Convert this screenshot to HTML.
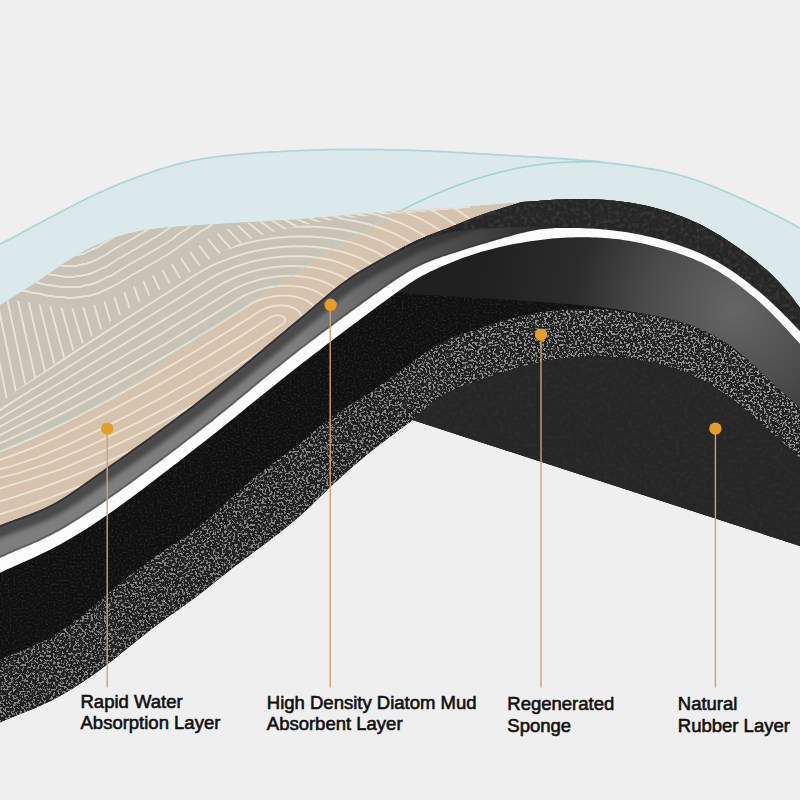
<!DOCTYPE html>
<html><head><meta charset="utf-8">
<style>
html,body{margin:0;padding:0;background:#efefef;}
svg{display:block;}
</style></head><body>
<svg width="800" height="800" viewBox="0 0 800 800">
<defs>
<filter id="speck" x="0" y="0" width="800" height="800" filterUnits="userSpaceOnUse" color-interpolation-filters="sRGB">
<feTurbulence type="fractalNoise" baseFrequency="0.45" numOctaves="3" seed="7" result="n0"/>
<feGaussianBlur in="n0" stdDeviation="0.5" result="n"/>
<feColorMatrix type="matrix" values="0 0 0 0 0.58  0 0 0 0 0.58  0 0 0 0 0.58  9 0 0 0 -4.6" in="n" result="s"/>
<feComposite in="s" in2="SourceGraphic" operator="in"/>
</filter>
<filter id="fine" x="0" y="0" width="800" height="800" filterUnits="userSpaceOnUse" color-interpolation-filters="sRGB">
<feTurbulence type="fractalNoise" baseFrequency="0.5" numOctaves="1" seed="11" result="n"/>
<feColorMatrix type="matrix" values="0 0 0 0 0.14  0 0 0 0 0.14  0 0 0 0 0.14  4 0 0 0 -1.9" in="n" result="s"/>
<feComposite in="s" in2="SourceGraphic" operator="in"/>
</filter>
<linearGradient id="gBandShade" x1="0" y1="0" x2="520" y2="0" gradientUnits="userSpaceOnUse">
<stop offset="0" stop-color="#0e0e0e" stop-opacity="0.1"/><stop offset="0.7" stop-color="#0e0e0e" stop-opacity="0.1"/><stop offset="1" stop-color="#0e0e0e" stop-opacity="0"/>
</linearGradient>
<filter id="blur2" x="-50" y="0" width="900" height="800" filterUnits="userSpaceOnUse"><feGaussianBlur stdDeviation="2.2"/></filter>
<linearGradient id="gSheetR" x1="300" y1="0" x2="560" y2="0" gradientUnits="userSpaceOnUse">
<stop offset="0" stop-color="#2a2a2a" stop-opacity="0"/><stop offset="0.5" stop-color="#2a2a2a" stop-opacity="0.5"/><stop offset="1" stop-color="#262626" stop-opacity="1"/>
</linearGradient>
<filter id="fine2" x="0" y="0" width="800" height="800" filterUnits="userSpaceOnUse" color-interpolation-filters="sRGB">
<feTurbulence type="fractalNoise" baseFrequency="0.25" numOctaves="3" seed="5" result="n"/>
<feColorMatrix type="matrix" values="0 0 0 0 0.24  0 0 0 0 0.24  0 0 0 0 0.24  2.5 0 0 0 -1.1" in="n" result="s"/>
<feComposite in="s" in2="SourceGraphic" operator="in"/>
</filter>
<linearGradient id="gSheet" x1="0" y1="0" x2="800" y2="0" gradientUnits="userSpaceOnUse">
<stop offset="0" stop-color="#6c6c6c"/><stop offset="0.4" stop-color="#5c5c5c"/><stop offset="0.55" stop-color="#333"/><stop offset="0.7" stop-color="#2a2a2a"/><stop offset="1" stop-color="#2a2a2a"/>
</linearGradient>
<radialGradient id="gFace" cx="735" cy="310" r="260" gradientUnits="userSpaceOnUse">
<stop offset="0" stop-color="#666"/><stop offset="0.35" stop-color="#4a4a4a"/><stop offset="0.62" stop-color="#2c2c2c"/><stop offset="1" stop-color="#202020"/>
</radialGradient>

<clipPath id="cBeige"><path d="M-10.0,312.0 -6.7,309.7 -3.3,307.5 0.0,305.3 3.4,303.1 6.7,300.9 10.1,298.7 13.5,296.6 17.0,294.4 20.4,292.3 23.8,290.2 27.2,288.0 30.6,285.9 34.0,283.7 37.3,281.5 40.7,279.3 44.0,277.0 47.3,274.8 50.6,272.5 53.9,270.2 57.2,267.9 60.5,265.6 63.9,263.3 67.2,261.1 70.6,259.0 74.1,256.9 77.5,254.9 81.0,252.9 84.5,250.9 88.1,249.1 91.7,247.3 95.3,245.5 99.0,243.9 102.6,242.3 106.4,240.7 110.1,239.3 113.9,237.9 117.7,236.6 121.5,235.4 125.4,234.3 129.2,233.3 133.1,232.4 137.1,231.5 141.0,230.8 145.0,230.1 148.9,229.4 152.9,228.9 156.9,228.4 160.9,228.0 164.9,227.6 168.9,227.2 172.9,226.9 176.9,226.6 180.9,226.3 185.0,226.0 189.0,225.7 193.0,225.5 197.0,225.2 201.0,224.9 205.0,224.7 209.0,224.4 213.1,224.2 217.1,223.9 221.1,223.7 225.1,223.5 229.1,223.2 233.1,223.0 237.2,222.8 241.2,222.6 245.2,222.3 249.2,222.1 253.2,221.9 257.2,221.7 261.3,221.4 265.3,221.2 269.3,221.0 273.3,220.7 277.3,220.5 281.3,220.2 285.3,220.0 289.4,219.7 293.4,219.4 297.4,219.1 301.4,218.9 305.4,218.6 309.4,218.2 313.4,217.9 317.4,217.6 321.4,217.3 325.5,216.9 329.5,216.6 333.5,216.2 337.5,215.9 341.5,215.5 345.5,215.2 349.5,214.8 353.5,214.5 357.5,214.1 361.5,213.8 365.5,213.4 369.5,213.0 373.5,212.7 377.6,212.3 381.6,212.0 385.6,211.7 389.6,211.4 393.6,211.0 397.6,210.7 401.6,210.4 405.6,210.2 409.6,209.9 413.7,209.6 417.7,209.4 421.7,209.2 425.7,208.9 429.7,208.7 433.7,208.5 437.8,208.2 441.8,208.0 445.8,207.7 449.8,207.5 453.8,207.2 457.8,206.9 461.8,206.6 465.8,206.4 469.9,206.1 473.9,205.8 477.9,205.5 481.9,205.1 485.9,204.8 489.9,204.5 493.9,204.2 497.9,203.9 501.9,203.6 506.0,203.3 510.0,203.0 514.0,202.6 518.0,202.3 522.0,202.0 L522.0,202.0 518.2,203.2 514.3,204.4 510.5,205.6 506.7,206.8 502.8,208.0 499.0,209.2 495.2,210.4 491.3,211.6 487.5,212.8 483.7,214.1 479.9,215.4 476.1,216.8 472.4,218.3 468.7,219.7 464.9,221.2 461.2,222.8 457.5,224.3 453.8,225.8 450.0,227.2 446.3,228.7 442.5,230.1 438.8,231.5 435.0,232.9 431.3,234.4 427.5,235.8 423.8,237.4 420.1,239.0 416.5,240.6 412.9,242.3 409.3,244.1 405.7,246.0 402.1,247.8 398.6,249.7 395.0,251.6 391.5,253.5 387.9,255.3 384.4,257.2 380.8,259.1 377.3,261.0 373.8,263.0 370.3,264.9 366.8,266.9 363.3,268.9 359.9,271.0 356.5,273.1 353.1,275.3 349.8,277.6 346.5,279.9 343.3,282.2 340.0,284.6 336.9,287.1 333.7,289.6 330.6,292.1 327.5,294.7 324.4,297.2 321.4,299.8 318.3,302.4 315.2,305.1 312.2,307.7 309.1,310.3 306.1,312.9 303.0,315.4 299.9,318.0 296.8,320.6 293.7,323.2 290.6,325.7 287.6,328.3 284.5,330.9 281.4,333.5 278.3,336.0 275.2,338.6 272.1,341.2 269.0,343.8 266.0,346.3 262.9,348.9 259.8,351.5 256.7,354.1 253.6,356.6 250.5,359.2 247.4,361.8 244.3,364.3 241.2,366.9 238.1,369.4 235.0,372.0 231.9,374.5 228.8,377.1 225.7,379.6 222.5,382.1 219.4,384.6 216.3,387.1 213.1,389.6 210.0,392.1 206.8,394.6 203.7,397.1 200.5,399.6 197.3,402.0 194.1,404.5 190.9,406.9 187.7,409.3 184.5,411.7 181.3,414.1 178.1,416.5 174.8,418.9 171.6,421.3 168.4,423.7 165.1,426.1 161.9,428.5 158.6,430.8 155.4,433.2 152.1,435.5 148.9,437.9 145.6,440.2 142.4,442.6 139.1,444.9 135.8,447.3 132.5,449.6 129.3,451.9 126.0,454.2 122.7,456.6 119.4,458.9 116.1,461.2 112.8,463.5 109.6,465.8 106.3,468.1 103.0,470.4 99.7,472.8 96.4,475.1 93.1,477.4 89.9,479.7 86.6,482.1 83.3,484.4 80.0,486.7 76.8,489.0 73.4,491.3 70.1,493.5 66.8,495.7 63.4,497.9 59.9,500.0 56.5,502.0 53.0,503.9 49.4,505.8 45.8,507.5 42.2,509.2 38.5,510.8 34.8,512.3 31.0,513.8 27.3,515.2 23.5,516.6 19.7,517.9 16.0,519.3 12.2,520.7 8.4,522.1 4.7,523.6 1.0,525.1 -2.7,526.7 -6.3,528.3 -10.0,530.0 Z"/></clipPath>

<clipPath id="cSheet"><path d="M-10.0,530.0 -6.3,528.3 -2.7,526.7 1.0,525.1 4.7,523.6 8.4,522.1 12.2,520.7 16.0,519.3 19.7,517.9 23.5,516.6 27.3,515.2 31.0,513.8 34.8,512.3 38.5,510.8 42.2,509.2 45.8,507.5 49.4,505.8 53.0,503.9 56.5,502.0 59.9,500.0 63.4,497.9 66.8,495.7 70.1,493.5 73.4,491.3 76.8,489.0 80.0,486.7 83.3,484.4 86.6,482.1 89.9,479.7 93.1,477.4 96.4,475.1 99.7,472.8 103.0,470.4 106.3,468.1 109.6,465.8 112.8,463.5 116.1,461.2 119.4,458.9 122.7,456.6 126.0,454.2 129.3,451.9 132.5,449.6 135.8,447.3 139.1,444.9 142.4,442.6 145.6,440.2 148.9,437.9 152.1,435.5 155.4,433.2 158.6,430.8 161.9,428.5 165.1,426.1 168.4,423.7 171.6,421.3 174.8,418.9 178.1,416.5 181.3,414.1 184.5,411.7 187.7,409.3 190.9,406.9 194.1,404.5 197.3,402.0 200.5,399.6 203.7,397.1 206.8,394.6 210.0,392.1 213.1,389.6 216.3,387.1 219.4,384.6 222.5,382.1 225.7,379.6 228.8,377.1 231.9,374.5 235.0,372.0 238.1,369.4 241.2,366.9 244.3,364.3 247.4,361.8 250.5,359.2 253.6,356.6 256.7,354.1 259.8,351.5 262.9,348.9 266.0,346.3 269.0,343.8 272.1,341.2 275.2,338.6 278.3,336.0 281.4,333.5 284.5,330.9 287.6,328.3 290.6,325.7 293.7,323.2 296.8,320.6 299.9,318.0 303.0,315.4 306.1,312.9 309.1,310.3 312.2,307.7 315.2,305.1 318.3,302.4 321.4,299.8 324.4,297.2 327.5,294.7 330.6,292.1 333.7,289.6 336.9,287.1 340.0,284.6 343.3,282.2 346.5,279.9 349.8,277.6 353.1,275.3 356.5,273.1 359.9,271.0 363.3,268.9 366.8,266.9 370.3,264.9 373.8,263.0 377.3,261.0 380.8,259.1 384.4,257.2 387.9,255.3 391.5,253.5 395.0,251.6 398.6,249.7 402.1,247.8 405.7,246.0 409.3,244.1 412.9,242.3 416.5,240.6 420.1,239.0 423.8,237.4 427.5,235.8 431.3,234.4 435.0,232.9 438.8,231.5 442.5,230.1 446.3,228.7 450.0,227.2 453.8,225.8 457.5,224.3 461.2,222.8 464.9,221.2 468.7,219.7 472.4,218.3 476.1,216.8 479.9,215.4 483.7,214.1 487.5,212.8 491.3,211.6 495.2,210.4 499.0,209.2 502.8,208.0 506.7,206.8 510.5,205.6 514.3,204.4 518.2,203.2 522.0,202.0 L522.0,202.0 526.0,201.7 530.1,201.5 534.1,201.2 538.1,200.9 542.1,200.6 546.2,200.3 550.2,200.1 554.2,199.8 558.2,199.6 562.3,199.4 566.3,199.2 570.3,199.1 574.4,199.0 578.4,199.0 582.4,199.0 586.5,199.0 590.5,199.1 594.5,199.3 598.6,199.5 602.6,199.7 606.6,200.0 610.6,200.4 614.6,200.7 618.6,201.2 622.6,201.7 626.6,202.2 630.6,202.8 634.6,203.5 638.6,204.2 642.5,205.0 646.5,205.8 650.4,206.8 654.3,207.7 658.2,208.8 662.1,209.9 665.9,211.1 669.8,212.3 673.6,213.6 677.4,214.9 681.2,216.3 684.9,217.8 688.7,219.3 692.4,220.9 696.0,222.5 699.7,224.3 703.3,226.1 706.8,228.0 710.4,229.9 713.8,231.9 717.3,234.0 720.7,236.1 724.1,238.3 727.5,240.5 730.9,242.7 734.2,245.0 737.5,247.3 740.8,249.6 744.1,252.0 747.3,254.4 750.6,256.8 753.7,259.3 756.9,261.8 760.0,264.4 763.1,267.0 766.1,269.6 769.1,272.3 772.0,275.1 774.9,277.9 777.7,280.8 780.5,283.7 783.2,286.7 785.9,289.7 788.4,292.8 791.0,296.0 793.4,299.1 795.8,302.4 798.2,305.6 800.6,308.9 803.0,312.1 805.3,315.4 807.7,318.7 810.0,322.0 L810.0,342.0 807.3,339.0 804.6,336.1 801.8,333.2 799.1,330.2 796.3,327.3 793.6,324.4 790.8,321.6 788.0,318.7 785.1,315.8 782.3,313.0 779.4,310.2 776.6,307.4 773.7,304.6 770.7,301.9 767.8,299.2 764.8,296.5 761.8,293.9 758.7,291.3 755.7,288.7 752.5,286.2 749.4,283.7 746.2,281.3 743.0,278.9 739.8,276.5 736.5,274.2 733.2,271.9 729.9,269.7 726.5,267.5 723.1,265.4 719.7,263.3 716.2,261.3 712.7,259.4 709.2,257.6 705.6,255.8 701.9,254.1 698.3,252.5 694.6,251.0 690.9,249.5 687.1,248.1 683.3,246.7 679.6,245.3 675.8,244.1 672.0,242.9 668.1,241.7 664.3,240.6 660.4,239.5 656.5,238.5 652.6,237.5 648.7,236.6 644.8,235.7 640.9,234.9 637.0,234.1 633.0,233.4 629.1,232.7 625.1,232.0 621.2,231.4 617.2,230.9 613.2,230.4 609.2,230.0 605.3,229.6 601.3,229.3 597.3,229.0 593.3,228.7 589.3,228.5 585.3,228.3 581.2,228.2 577.2,228.0 573.2,227.9 569.2,227.9 565.2,227.9 561.2,227.9 557.2,228.0 553.2,228.2 549.2,228.5 545.2,228.9 541.3,229.3 537.3,229.9 533.4,230.6 529.4,231.4 525.5,232.2 521.6,233.1 517.8,234.1 513.9,235.1 510.0,236.2 506.2,237.3 502.3,238.4 498.4,239.5 494.6,240.6 490.7,241.7 486.9,242.9 483.0,244.0 479.2,245.1 475.4,246.3 471.5,247.5 467.7,248.7 463.9,249.9 460.0,251.1 456.2,252.3 452.4,253.5 448.6,254.7 444.8,256.0 441.0,257.3 437.2,258.6 433.4,260.0 429.7,261.4 426.0,262.9 422.4,264.6 418.8,266.3 415.2,268.1 411.7,270.0 408.2,272.0 404.8,274.1 401.4,276.2 398.1,278.4 394.8,280.7 391.4,282.9 388.1,285.2 384.8,287.5 381.6,289.8 378.3,292.1 375.0,294.4 371.8,296.8 368.5,299.1 365.2,301.4 362.0,303.8 358.7,306.1 355.5,308.5 352.3,310.9 349.0,313.2 345.8,315.6 342.6,318.0 339.3,320.4 336.1,322.8 332.9,325.2 329.7,327.6 326.5,330.0 323.3,332.4 320.1,334.8 316.9,337.2 313.7,339.6 310.5,342.0 307.3,344.5 304.1,346.9 300.9,349.4 297.8,351.8 294.6,354.3 291.4,356.7 288.3,359.2 285.2,361.7 282.0,364.2 278.9,366.7 275.8,369.3 272.7,371.8 269.6,374.3 266.5,376.9 263.4,379.4 260.3,382.0 257.2,384.5 254.1,387.1 251.0,389.6 247.9,392.2 244.8,394.7 241.7,397.3 238.6,399.8 235.5,402.4 232.4,404.9 229.3,407.5 226.2,410.0 223.1,412.6 220.0,415.1 216.9,417.6 213.7,420.1 210.6,422.6 207.5,425.1 204.3,427.6 201.2,430.0 198.0,432.5 194.8,435.0 191.6,437.4 188.5,439.9 185.3,442.3 182.1,444.8 178.9,447.2 175.7,449.6 172.5,452.1 169.3,454.5 166.2,456.9 163.0,459.3 159.7,461.7 156.5,464.1 153.3,466.5 150.1,468.9 146.9,471.3 143.7,473.7 140.5,476.1 137.2,478.5 134.0,480.8 130.7,483.2 127.5,485.6 124.2,487.9 121.0,490.2 117.7,492.6 114.5,494.9 111.2,497.2 107.9,499.5 104.6,501.8 101.3,504.0 98.0,506.3 94.6,508.6 91.3,510.8 88.0,513.0 84.6,515.2 81.3,517.4 77.9,519.5 74.5,521.7 71.1,523.8 67.6,525.9 64.2,527.9 60.7,529.9 57.2,531.8 53.7,533.7 50.1,535.6 46.6,537.4 43.0,539.1 39.3,540.8 35.7,542.5 32.0,544.1 28.3,545.7 24.6,547.2 20.9,548.8 17.2,550.3 13.5,551.9 9.8,553.5 6.2,555.1 2.6,556.8 -1.1,558.5 -4.6,560.3 -8.2,562.1 -10.0,563.0 Z"/></clipPath>
<clipPath id="cAbove"><path d="M-20.0,292.0 -16.1,293.1 -12.3,294.2 -8.4,295.3 -4.5,296.3 -0.6,297.2 3.3,298.1 7.3,298.8 11.2,299.5 15.2,300.2 19.1,300.9 23.1,301.6 27.1,302.3 31.0,303.1 35.0,303.8 38.9,304.5 42.9,305.3 46.9,305.9 50.8,306.6 54.8,307.1 58.8,307.6 62.8,307.9 66.8,308.1 70.8,308.2 74.8,308.1 78.7,307.8 82.7,307.4 86.6,306.7 90.5,305.9 94.4,304.9 98.3,303.8 102.1,302.5 105.8,301.1 109.5,299.6 113.2,298.0 116.8,296.2 120.4,294.4 123.9,292.5 127.4,290.5 130.9,288.5 134.3,286.5 137.8,284.4 141.3,282.3 144.7,280.3 148.2,278.2 151.6,276.1 155.1,274.1 158.5,272.0 162.0,269.9 165.4,267.9 168.9,265.8 172.3,263.6 175.7,261.5 179.1,259.4 182.5,257.2 185.8,254.9 189.2,252.7 192.4,250.3 195.7,248.0 199.0,245.6 202.2,243.3 205.5,241.0 208.8,238.7 212.2,236.6 215.7,234.6 219.2,232.7 222.8,231.0 226.5,229.4 230.2,228.0 234.0,226.6 237.8,225.4 241.7,224.3 245.6,223.4 249.5,222.5 253.4,221.7 257.4,221.0 261.3,220.3 265.3,219.8 269.3,219.3 273.3,218.8 277.3,218.3 281.3,217.9 285.3,217.5 289.3,217.1 293.3,216.7 297.3,216.3 301.3,215.9 305.3,215.5 309.3,215.1 313.4,214.8 317.4,214.4 321.4,214.1 325.4,213.7 329.4,213.4 333.4,213.1 337.4,212.8 341.4,212.4 345.5,212.1 349.5,211.8 353.5,211.5 357.5,211.2 361.5,210.9 365.5,210.6 369.5,210.3 373.6,210.0 377.6,209.8 381.6,209.5 385.6,209.2 389.6,208.9 393.6,208.7 397.7,208.4 401.7,208.2 405.7,207.9 409.7,207.7 413.7,207.4 417.8,207.1 421.8,206.9 425.8,206.6 429.8,206.4 433.8,206.2 437.8,205.9 441.9,205.7 445.9,205.4 449.9,205.2 453.9,205.0 457.9,204.7 462.0,204.5 466.0,204.2 470.0,204.0 L480,100 L-20,100 Z"/></clipPath>
<clipPath id="cBand"><path d="M-20.0,292.0 -16.1,293.1 -12.3,294.2 -8.4,295.3 -4.5,296.3 -0.6,297.2 3.3,298.1 7.3,298.8 11.2,299.5 15.2,300.2 19.1,300.9 23.1,301.6 27.1,302.3 31.0,303.1 35.0,303.8 38.9,304.5 42.9,305.3 46.9,305.9 50.8,306.6 54.8,307.1 58.8,307.6 62.8,307.9 66.8,308.1 70.8,308.2 74.8,308.1 78.7,307.8 82.7,307.4 86.6,306.7 90.5,305.9 94.4,304.9 98.3,303.8 102.1,302.5 105.8,301.1 109.5,299.6 113.2,298.0 116.8,296.2 120.4,294.4 123.9,292.5 127.4,290.5 130.9,288.5 134.3,286.5 137.8,284.4 141.3,282.3 144.7,280.3 148.2,278.2 151.6,276.1 155.1,274.1 158.5,272.0 162.0,269.9 165.4,267.9 168.9,265.8 172.3,263.6 175.7,261.5 179.1,259.4 182.5,257.2 185.8,254.9 189.2,252.7 192.4,250.3 195.7,248.0 199.0,245.6 202.2,243.3 205.5,241.0 208.8,238.7 212.2,236.6 215.7,234.6 219.2,232.7 222.8,231.0 226.5,229.4 230.2,228.0 234.0,226.6 237.8,225.4 241.7,224.3 245.6,223.4 249.5,222.5 253.4,221.7 257.4,221.0 261.3,220.3 265.3,219.8 269.3,219.3 273.3,218.8 277.3,218.3 281.3,217.9 285.3,217.5 289.3,217.1 293.3,216.7 297.3,216.3 301.3,215.9 305.3,215.5 309.3,215.1 313.4,214.8 317.4,214.4 321.4,214.1 325.4,213.7 329.4,213.4 333.4,213.1 337.4,212.8 341.4,212.4 345.5,212.1 349.5,211.8 353.5,211.5 357.5,211.2 361.5,210.9 365.5,210.6 369.5,210.3 373.6,210.0 377.6,209.8 381.6,209.5 385.6,209.2 389.6,208.9 393.6,208.7 397.7,208.4 401.7,208.2 405.7,207.9 409.7,207.7 413.7,207.4 417.8,207.1 421.8,206.9 425.8,206.6 429.8,206.4 433.8,206.2 437.8,205.9 441.9,205.7 445.9,205.4 449.9,205.2 453.9,205.0 457.9,204.7 462.0,204.5 466.0,204.2 470.0,204.0 L470.0,208.0 466.0,208.3 462.0,208.6 458.0,209.0 454.0,209.3 450.0,209.6 445.9,209.9 441.9,210.2 437.9,210.5 433.9,210.9 429.9,211.2 425.9,211.5 421.9,211.8 417.9,212.2 413.9,212.5 409.9,212.8 405.9,213.1 401.9,213.4 397.8,213.7 393.8,214.0 389.8,214.3 385.8,214.6 381.8,215.0 377.8,215.3 373.8,215.6 369.8,216.0 365.8,216.3 361.8,216.7 357.8,217.1 353.8,217.5 349.8,217.9 345.8,218.4 341.8,218.9 337.8,219.4 333.8,220.0 329.9,220.6 325.9,221.2 321.9,221.9 317.9,222.5 314.0,223.2 310.0,224.0 306.1,224.7 302.1,225.5 298.2,226.3 294.3,227.1 290.3,228.0 286.4,228.9 282.5,229.7 278.6,230.7 274.7,231.6 270.8,232.6 266.9,233.7 263.1,234.8 259.2,236.0 255.4,237.2 251.6,238.6 247.9,240.0 244.2,241.6 240.5,243.2 236.8,244.8 233.2,246.5 229.6,248.3 226.1,250.2 222.5,252.1 219.0,254.1 215.5,256.1 212.1,258.1 208.7,260.2 205.3,262.4 201.9,264.6 198.5,266.8 195.1,268.9 191.8,271.1 188.3,273.2 184.9,275.3 181.4,277.3 178.0,279.3 174.5,281.3 171.0,283.3 167.5,285.3 164.0,287.2 160.4,289.2 156.9,291.2 153.5,293.2 150.0,295.2 146.5,297.3 143.1,299.3 139.7,301.5 136.3,303.6 132.9,305.8 129.6,308.1 126.3,310.4 123.0,312.7 119.7,315.0 116.5,317.4 113.2,319.7 110.0,322.1 106.8,324.6 103.6,327.0 100.4,329.4 97.2,331.9 94.1,334.4 90.9,336.9 87.7,339.4 84.6,341.9 81.4,344.3 78.2,346.8 75.1,349.3 71.9,351.7 68.6,354.1 65.4,356.5 62.2,358.9 58.9,361.2 55.6,363.5 52.3,365.8 49.0,368.1 45.7,370.4 42.4,372.6 39.0,374.9 35.7,377.1 32.4,379.4 29.0,381.7 25.7,383.9 22.5,386.3 19.2,388.6 16.0,391.0 12.8,393.4 9.6,395.9 6.5,398.4 3.4,401.0 0.3,403.5 -2.8,406.1 -5.9,408.6 -9.0,411.2 -12.2,413.7 -15.3,416.2 -18.4,418.7 -20.0,420.0 Z"/></clipPath>
<clipPath id="cBelow"><path d="M-20.0,420.0 -16.9,417.5 -13.7,415.0 -10.6,412.5 -7.5,409.9 -4.4,407.4 -1.3,404.8 1.8,402.2 4.9,399.7 8.0,397.1 11.2,394.6 14.4,392.2 17.6,389.8 20.8,387.4 24.1,385.1 27.4,382.8 30.7,380.5 34.0,378.3 37.4,376.0 40.7,373.8 44.0,371.5 47.3,369.2 50.7,367.0 54.0,364.7 57.3,362.4 60.5,360.0 63.8,357.7 67.0,355.3 70.3,352.9 73.5,350.5 76.7,348.0 79.8,345.6 83.0,343.1 86.2,340.6 89.3,338.1 92.5,335.6 95.6,333.2 98.8,330.7 102.0,328.2 105.2,325.8 108.4,323.3 111.6,320.9 114.8,318.5 118.1,316.2 121.4,313.8 124.6,311.5 127.9,309.2 131.3,307.0 134.6,304.7 138.0,302.6 141.4,300.4 144.8,298.3 148.3,296.2 151.7,294.2 155.2,292.2 158.7,290.2 162.2,288.2 165.7,286.3 169.2,284.3 172.7,282.3 176.2,280.3 179.7,278.3 183.2,276.3 186.6,274.2 190.0,272.1 193.5,270.0 196.8,267.8 200.2,265.7 203.6,263.5 207.0,261.3 210.4,259.2 213.8,257.1 217.3,255.1 220.8,253.1 224.3,251.1 227.8,249.3 231.4,247.4 235.0,245.7 238.7,244.0 242.3,242.3 246.0,240.8 249.8,239.3 253.5,237.9 257.3,236.6 261.1,235.4 265.0,234.2 268.8,233.1 272.7,232.1 276.6,231.1 280.5,230.2 284.5,229.3 288.4,228.4 292.3,227.6 296.2,226.7 300.2,225.9 304.1,225.1 308.1,224.4 312.0,223.6 316.0,222.9 319.9,222.2 323.9,221.5 327.9,220.9 331.8,220.3 335.8,219.7 339.8,219.2 343.8,218.7 347.8,218.2 351.8,217.7 355.8,217.3 359.8,216.9 363.8,216.5 367.8,216.1 371.8,215.8 375.8,215.4 379.8,215.1 383.8,214.8 387.8,214.5 391.8,214.2 395.8,213.9 399.8,213.6 403.9,213.2 407.9,212.9 411.9,212.6 415.9,212.3 419.9,212.0 423.9,211.7 427.9,211.3 431.9,211.0 435.9,210.7 439.9,210.4 443.9,210.1 448.0,209.7 452.0,209.4 456.0,209.1 460.0,208.8 464.0,208.5 468.0,208.2 470.0,208.0 L480,600 L-20,600 Z"/></clipPath>
</defs>
<rect width="800" height="800" fill="#efefef"/>
<path d="M-10.0,249.0 -6.4,247.3 -2.8,245.5 0.8,243.7 4.4,241.9 8.0,240.1 11.5,238.2 15.1,236.3 18.6,234.5 22.1,232.5 25.6,230.6 29.2,228.7 32.7,226.8 36.2,224.9 39.8,223.0 43.3,221.1 46.8,219.2 50.4,217.3 53.9,215.5 57.5,213.6 61.0,211.7 64.6,209.9 68.1,208.0 71.7,206.2 75.3,204.3 78.8,202.5 82.4,200.7 86.0,198.9 89.6,197.2 93.3,195.5 96.9,193.8 100.5,192.1 104.2,190.5 107.9,188.9 111.6,187.3 115.3,185.7 119.0,184.2 122.7,182.7 126.4,181.2 130.1,179.8 133.9,178.3 137.7,176.9 141.4,175.6 145.2,174.3 149.0,173.0 152.8,171.7 156.6,170.4 160.4,169.2 164.3,168.0 168.1,166.9 172.0,165.8 175.8,164.7 179.7,163.7 183.6,162.7 187.5,161.8 191.4,160.9 195.3,160.1 199.3,159.4 203.2,158.7 207.2,158.1 211.2,157.5 215.1,156.9 219.1,156.4 223.1,155.9 227.1,155.5 231.1,155.1 235.0,154.7 239.0,154.3 243.0,154.0 247.0,153.6 251.0,153.3 255.0,153.0 259.0,152.8 263.0,152.5 267.0,152.2 271.1,152.0 275.1,151.8 279.1,151.6 283.1,151.3 287.1,151.1 291.1,150.9 295.1,150.8 299.1,150.6 303.1,150.4 307.1,150.3 311.1,150.1 315.1,150.0 319.1,149.9 323.2,149.8 327.2,149.7 331.2,149.6 335.2,149.6 339.2,149.5 343.2,149.5 347.2,149.5 351.2,149.5 355.2,149.5 359.3,149.5 363.3,149.5 367.3,149.5 371.3,149.5 375.3,149.6 379.3,149.6 383.3,149.7 387.3,149.8 391.3,149.8 395.4,149.9 399.4,150.0 403.4,150.1 407.4,150.2 411.4,150.4 415.4,150.5 419.4,150.6 423.4,150.8 427.4,151.0 431.4,151.1 435.4,151.3 439.5,151.5 443.5,151.7 447.5,151.9 451.5,152.1 455.5,152.4 459.5,152.6 463.5,152.8 467.5,153.0 471.5,153.3 475.5,153.5 479.5,153.8 483.5,154.0 487.5,154.2 491.5,154.5 495.5,154.7 499.5,155.0 503.5,155.2 507.5,155.4 511.5,155.7 515.5,155.9 519.6,156.1 523.6,156.3 527.6,156.6 531.6,156.8 535.6,157.0 539.6,157.2 543.6,157.5 547.6,157.7 551.6,158.0 555.6,158.2 559.6,158.5 563.6,158.8 567.6,159.1 571.6,159.4 575.6,159.7 579.6,160.1 583.6,160.4 587.6,160.8 591.6,161.2 595.6,161.6 599.6,162.0 603.5,162.5 607.5,162.9 611.5,163.4 615.5,163.9 619.5,164.4 623.5,164.9 627.4,165.4 631.4,165.9 635.4,166.5 639.3,167.1 643.3,167.7 647.3,168.3 651.2,169.0 655.2,169.7 659.1,170.5 663.0,171.2 667.0,172.1 670.9,173.0 674.8,173.9 678.6,174.9 682.5,176.0 686.4,177.1 690.2,178.3 694.0,179.5 697.8,180.8 701.6,182.2 705.3,183.5 709.1,185.0 712.8,186.4 716.5,187.9 720.2,189.5 723.9,191.0 727.6,192.6 731.3,194.2 735.0,195.8 738.6,197.5 742.3,199.1 745.9,200.8 749.6,202.5 753.2,204.2 756.8,205.9 760.4,207.7 764.0,209.4 767.6,211.2 771.2,213.0 774.8,214.8 778.4,216.6 781.9,218.5 785.5,220.3 789.0,222.2 792.6,224.1 796.1,226.1 799.6,228.0 803.1,230.0 806.5,232.0 810.0,234.0 L810,420 L-10,420 Z" fill="#dce9ea"/>
<path d="M-10.0,249.0 -6.4,247.3 -2.8,245.5 0.8,243.7 4.4,241.9 8.0,240.1 11.5,238.2 15.1,236.3 18.6,234.5 22.1,232.5 25.6,230.6 29.2,228.7 32.7,226.8 36.2,224.9 39.8,223.0 43.3,221.1 46.8,219.2 50.4,217.3 53.9,215.5 57.5,213.6 61.0,211.7 64.6,209.9 68.1,208.0 71.7,206.2 75.3,204.3 78.8,202.5 82.4,200.7 86.0,198.9 89.6,197.2 93.3,195.5 96.9,193.8 100.5,192.1 104.2,190.5 107.9,188.9 111.6,187.3 115.3,185.7 119.0,184.2 122.7,182.7 126.4,181.2 130.1,179.8 133.9,178.3 137.7,176.9 141.4,175.6 145.2,174.3 149.0,173.0 152.8,171.7 156.6,170.4 160.4,169.2 164.3,168.0 168.1,166.9 172.0,165.8 175.8,164.7 179.7,163.7 183.6,162.7 187.5,161.8 191.4,160.9 195.3,160.1 199.3,159.4 203.2,158.7 207.2,158.1 211.2,157.5 215.1,156.9 219.1,156.4 223.1,155.9 227.1,155.5 231.1,155.1 235.0,154.7 239.0,154.3 243.0,154.0 247.0,153.6 251.0,153.3 255.0,153.0 259.0,152.8 263.0,152.5 267.0,152.2 271.1,152.0 275.1,151.8 279.1,151.6 283.1,151.3 287.1,151.1 291.1,150.9 295.1,150.8 299.1,150.6 303.1,150.4 307.1,150.3 311.1,150.1 315.1,150.0 319.1,149.9 323.2,149.8 327.2,149.7 331.2,149.6 335.2,149.6 339.2,149.5 343.2,149.5 347.2,149.5 351.2,149.5 355.2,149.5 359.3,149.5 363.3,149.5 367.3,149.5 371.3,149.5 375.3,149.6 379.3,149.6 383.3,149.7 387.3,149.8 391.3,149.8 395.4,149.9 399.4,150.0 403.4,150.1 407.4,150.2 411.4,150.4 415.4,150.5 419.4,150.6 423.4,150.8 427.4,151.0 431.4,151.1 435.4,151.3 439.5,151.5 443.5,151.7 447.5,151.9 451.5,152.1 455.5,152.4 459.5,152.6 463.5,152.8 467.5,153.0 471.5,153.3 475.5,153.5 479.5,153.8 483.5,154.0 487.5,154.2 491.5,154.5 495.5,154.7 499.5,155.0 503.5,155.2 507.5,155.4 511.5,155.7 515.5,155.9 519.6,156.1 523.6,156.3 527.6,156.6 531.6,156.8 535.6,157.0 539.6,157.2 543.6,157.5 547.6,157.7 551.6,158.0 555.6,158.2 559.6,158.5 563.6,158.8 567.6,159.1 571.6,159.4 575.6,159.7 579.6,160.1 583.6,160.4 587.6,160.8 591.6,161.2 595.6,161.6 599.6,162.0 603.5,162.5 607.5,162.9 611.5,163.4 615.5,163.9 619.5,164.4 623.5,164.9 627.4,165.4 631.4,165.9 635.4,166.5 639.3,167.1 643.3,167.7 647.3,168.3 651.2,169.0 655.2,169.7 659.1,170.5 663.0,171.2 667.0,172.1 670.9,173.0 674.8,173.9 678.6,174.9 682.5,176.0 686.4,177.1 690.2,178.3 694.0,179.5 697.8,180.8 701.6,182.2 705.3,183.5 709.1,185.0 712.8,186.4 716.5,187.9 720.2,189.5 723.9,191.0 727.6,192.6 731.3,194.2 735.0,195.8 738.6,197.5 742.3,199.1 745.9,200.8 749.6,202.5 753.2,204.2 756.8,205.9 760.4,207.7 764.0,209.4 767.6,211.2 771.2,213.0 774.8,214.8 778.4,216.6 781.9,218.5 785.5,220.3 789.0,222.2 792.6,224.1 796.1,226.1 799.6,228.0 803.1,230.0 806.5,232.0 810.0,234.0" fill="none" stroke="#acd7da" stroke-width="1.8"/>
<path d="M-10.0,456.0 -6.4,454.2 -2.8,452.5 0.9,450.8 4.5,449.1 8.1,447.4 11.8,445.7 15.5,444.1 19.1,442.4 22.8,440.8 26.5,439.2 30.2,437.6 33.8,435.9 37.5,434.3 41.2,432.7 44.8,431.0 48.5,429.4 52.2,427.7 55.8,426.0 59.5,424.4 63.1,422.7 66.7,420.9 70.4,419.2 74.0,417.4 77.6,415.7 81.2,413.9 84.7,412.0 88.3,410.2 91.9,408.3 95.4,406.4 98.9,404.4 102.4,402.4 105.8,400.4 109.3,398.3 112.7,396.2 116.1,394.1 119.5,391.9 122.9,389.7 126.2,387.5 129.6,385.3 132.9,383.1 136.2,380.8 139.6,378.5 142.9,376.2 146.1,373.9 149.4,371.6 152.7,369.3 156.0,367.0 159.3,364.7 162.5,362.3 165.8,360.0 169.1,357.7 172.4,355.3 175.6,353.0 178.9,350.7 182.2,348.4 185.5,346.1 188.8,343.8 192.1,341.5 195.4,339.2 198.7,337.0 202.1,334.7 205.4,332.5 208.8,330.3 212.1,328.1 215.5,325.9 218.8,323.7 222.2,321.5 225.6,319.3 229.0,317.1 232.3,314.9 235.7,312.8 239.1,310.6 242.5,308.4 245.8,306.2 249.2,304.0 252.6,301.8 255.9,299.6 259.3,297.4 262.6,295.2 266.0,293.0 269.3,290.7 272.7,288.5 276.0,286.3 279.3,284.0 282.7,281.8 286.0,279.5 289.3,277.3 292.7,275.1 296.0,272.8 299.4,270.6 302.7,268.4 306.1,266.1 309.4,263.9 312.8,261.7 316.2,259.6 319.5,257.4 322.9,255.2 326.3,253.1 329.8,251.0 333.2,248.9 336.6,246.8 340.1,244.7 343.5,242.7 347.0,240.6 350.4,238.6 353.9,236.6 357.4,234.6 360.9,232.5 364.3,230.5 367.8,228.6 371.3,226.6 374.8,224.6 378.3,222.6 381.9,220.7 385.4,218.8 388.9,216.9 392.5,215.0 396.0,213.1 399.6,211.3 403.2,209.5 406.8,207.7 410.4,205.9 414.0,204.1 417.6,202.4 421.2,200.7 424.9,199.0 428.5,197.3 432.2,195.6 435.9,194.0 439.6,192.4 443.3,190.9 447.0,189.4 450.7,187.9 454.5,186.5 458.2,185.1 462.0,183.7 465.8,182.4 469.6,181.1 473.4,179.8 477.3,178.6 481.1,177.4 484.9,176.3 488.8,175.2 492.7,174.1 496.6,173.1 500.5,172.1 504.4,171.1 508.3,170.2 512.2,169.3 516.1,168.5 520.1,167.7 524.0,167.0 528.0,166.3 531.9,165.6 535.9,165.0 539.9,164.5 543.9,164.0 547.8,163.5 551.8,163.1 555.8,162.8 559.8,162.5 563.9,162.3 567.9,162.1 571.9,162.0 575.9,161.9 579.9,161.8 583.9,161.7 587.9,161.7 592.0,161.6 596.0,161.6 600.0,161.5" fill="none" stroke="#a2d1d5" stroke-width="1.6"/>

<g clip-path="url(#cBeige)">
<path d="M-10.0,312.0 -6.7,309.7 -3.3,307.5 0.0,305.3 3.4,303.1 6.7,300.9 10.1,298.7 13.5,296.6 17.0,294.4 20.4,292.3 23.8,290.2 27.2,288.0 30.6,285.9 34.0,283.7 37.3,281.5 40.7,279.3 44.0,277.0 47.3,274.8 50.6,272.5 53.9,270.2 57.2,267.9 60.5,265.6 63.9,263.3 67.2,261.1 70.6,259.0 74.1,256.9 77.5,254.9 81.0,252.9 84.5,250.9 88.1,249.1 91.7,247.3 95.3,245.5 99.0,243.9 102.6,242.3 106.4,240.7 110.1,239.3 113.9,237.9 117.7,236.6 121.5,235.4 125.4,234.3 129.2,233.3 133.1,232.4 137.1,231.5 141.0,230.8 145.0,230.1 148.9,229.4 152.9,228.9 156.9,228.4 160.9,228.0 164.9,227.6 168.9,227.2 172.9,226.9 176.9,226.6 180.9,226.3 185.0,226.0 189.0,225.7 193.0,225.5 197.0,225.2 201.0,224.9 205.0,224.7 209.0,224.4 213.1,224.2 217.1,223.9 221.1,223.7 225.1,223.5 229.1,223.2 233.1,223.0 237.2,222.8 241.2,222.6 245.2,222.3 249.2,222.1 253.2,221.9 257.2,221.7 261.3,221.4 265.3,221.2 269.3,221.0 273.3,220.7 277.3,220.5 281.3,220.2 285.3,220.0 289.4,219.7 293.4,219.4 297.4,219.1 301.4,218.9 305.4,218.6 309.4,218.2 313.4,217.9 317.4,217.6 321.4,217.3 325.5,216.9 329.5,216.6 333.5,216.2 337.5,215.9 341.5,215.5 345.5,215.2 349.5,214.8 353.5,214.5 357.5,214.1 361.5,213.8 365.5,213.4 369.5,213.0 373.5,212.7 377.6,212.3 381.6,212.0 385.6,211.7 389.6,211.4 393.6,211.0 397.6,210.7 401.6,210.4 405.6,210.2 409.6,209.9 413.7,209.6 417.7,209.4 421.7,209.2 425.7,208.9 429.7,208.7 433.7,208.5 437.8,208.2 441.8,208.0 445.8,207.7 449.8,207.5 453.8,207.2 457.8,206.9 461.8,206.6 465.8,206.4 469.9,206.1 473.9,205.8 477.9,205.5 481.9,205.1 485.9,204.8 489.9,204.5 493.9,204.2 497.9,203.9 501.9,203.6 506.0,203.3 510.0,203.0 514.0,202.6 518.0,202.3 522.0,202.0 L522.0,202.0 518.2,203.2 514.3,204.4 510.5,205.6 506.7,206.8 502.8,208.0 499.0,209.2 495.2,210.4 491.3,211.6 487.5,212.8 483.7,214.1 479.9,215.4 476.1,216.8 472.4,218.3 468.7,219.7 464.9,221.2 461.2,222.8 457.5,224.3 453.8,225.8 450.0,227.2 446.3,228.7 442.5,230.1 438.8,231.5 435.0,232.9 431.3,234.4 427.5,235.8 423.8,237.4 420.1,239.0 416.5,240.6 412.9,242.3 409.3,244.1 405.7,246.0 402.1,247.8 398.6,249.7 395.0,251.6 391.5,253.5 387.9,255.3 384.4,257.2 380.8,259.1 377.3,261.0 373.8,263.0 370.3,264.9 366.8,266.9 363.3,268.9 359.9,271.0 356.5,273.1 353.1,275.3 349.8,277.6 346.5,279.9 343.3,282.2 340.0,284.6 336.9,287.1 333.7,289.6 330.6,292.1 327.5,294.7 324.4,297.2 321.4,299.8 318.3,302.4 315.2,305.1 312.2,307.7 309.1,310.3 306.1,312.9 303.0,315.4 299.9,318.0 296.8,320.6 293.7,323.2 290.6,325.7 287.6,328.3 284.5,330.9 281.4,333.5 278.3,336.0 275.2,338.6 272.1,341.2 269.0,343.8 266.0,346.3 262.9,348.9 259.8,351.5 256.7,354.1 253.6,356.6 250.5,359.2 247.4,361.8 244.3,364.3 241.2,366.9 238.1,369.4 235.0,372.0 231.9,374.5 228.8,377.1 225.7,379.6 222.5,382.1 219.4,384.6 216.3,387.1 213.1,389.6 210.0,392.1 206.8,394.6 203.7,397.1 200.5,399.6 197.3,402.0 194.1,404.5 190.9,406.9 187.7,409.3 184.5,411.7 181.3,414.1 178.1,416.5 174.8,418.9 171.6,421.3 168.4,423.7 165.1,426.1 161.9,428.5 158.6,430.8 155.4,433.2 152.1,435.5 148.9,437.9 145.6,440.2 142.4,442.6 139.1,444.9 135.8,447.3 132.5,449.6 129.3,451.9 126.0,454.2 122.7,456.6 119.4,458.9 116.1,461.2 112.8,463.5 109.6,465.8 106.3,468.1 103.0,470.4 99.7,472.8 96.4,475.1 93.1,477.4 89.9,479.7 86.6,482.1 83.3,484.4 80.0,486.7 76.8,489.0 73.4,491.3 70.1,493.5 66.8,495.7 63.4,497.9 59.9,500.0 56.5,502.0 53.0,503.9 49.4,505.8 45.8,507.5 42.2,509.2 38.5,510.8 34.8,512.3 31.0,513.8 27.3,515.2 23.5,516.6 19.7,517.9 16.0,519.3 12.2,520.7 8.4,522.1 4.7,523.6 1.0,525.1 -2.7,526.7 -6.3,528.3 -10.0,530.0 Z" fill="#d6c3ae"/>
<path d="M-10.0,249.0 -6.4,247.3 -2.8,245.5 0.8,243.7 4.4,241.9 8.0,240.1 11.5,238.2 15.1,236.3 18.6,234.5 22.1,232.5 25.6,230.6 29.2,228.7 32.7,226.8 36.2,224.9 39.8,223.0 43.3,221.1 46.8,219.2 50.4,217.3 53.9,215.5 57.5,213.6 61.0,211.7 64.6,209.9 68.1,208.0 71.7,206.2 75.3,204.3 78.8,202.5 82.4,200.7 86.0,198.9 89.6,197.2 93.3,195.5 96.9,193.8 100.5,192.1 104.2,190.5 107.9,188.9 111.6,187.3 115.3,185.7 119.0,184.2 122.7,182.7 126.4,181.2 130.1,179.8 133.9,178.3 137.7,176.9 141.4,175.6 145.2,174.3 149.0,173.0 152.8,171.7 156.6,170.4 160.4,169.2 164.3,168.0 168.1,166.9 172.0,165.8 175.8,164.7 179.7,163.7 183.6,162.7 187.5,161.8 191.4,160.9 195.3,160.1 199.3,159.4 203.2,158.7 207.2,158.1 211.2,157.5 215.1,156.9 219.1,156.4 223.1,155.9 227.1,155.5 231.1,155.1 235.0,154.7 239.0,154.3 243.0,154.0 247.0,153.6 251.0,153.3 255.0,153.0 259.0,152.8 263.0,152.5 267.0,152.2 271.1,152.0 275.1,151.8 279.1,151.6 283.1,151.3 287.1,151.1 291.1,150.9 295.1,150.8 299.1,150.6 303.1,150.4 307.1,150.3 311.1,150.1 315.1,150.0 319.1,149.9 323.2,149.8 327.2,149.7 331.2,149.6 335.2,149.6 339.2,149.5 343.2,149.5 347.2,149.5 351.2,149.5 355.2,149.5 359.3,149.5 363.3,149.5 367.3,149.5 371.3,149.5 375.3,149.6 379.3,149.6 383.3,149.7 387.3,149.8 391.3,149.8 395.4,149.9 399.4,150.0 403.4,150.1 407.4,150.2 411.4,150.4 415.4,150.5 419.4,150.6 423.4,150.8 427.4,151.0 431.4,151.1 435.4,151.3 439.5,151.5 443.5,151.7 447.5,151.9 451.5,152.1 455.5,152.4 459.5,152.6 463.5,152.8 467.5,153.0 471.5,153.3 475.5,153.5 479.5,153.8 483.5,154.0 487.5,154.2 491.5,154.5 495.5,154.7 499.5,155.0 503.5,155.2 507.5,155.4 511.5,155.7 515.5,155.9 519.6,156.1 523.6,156.3 527.6,156.6 531.6,156.8 535.6,157.0 539.6,157.2 543.6,157.5 547.6,157.7 551.6,158.0 555.6,158.2 559.6,158.5 563.6,158.8 567.6,159.1 571.6,159.4 575.6,159.7 579.6,160.1 583.6,160.4 587.6,160.8 591.6,161.2 595.6,161.6 599.6,162.0 603.5,162.5 607.5,162.9 611.5,163.4 615.5,163.9 619.5,164.4 623.5,164.9 627.4,165.4 631.4,165.9 635.4,166.5 639.3,167.1 643.3,167.7 647.3,168.3 651.2,169.0 655.2,169.7 659.1,170.5 663.0,171.2 667.0,172.1 670.9,173.0 674.8,173.9 678.6,174.9 682.5,176.0 686.4,177.1 690.2,178.3 694.0,179.5 697.8,180.8 701.6,182.2 705.3,183.5 709.1,185.0 712.8,186.4 716.5,187.9 720.2,189.5 723.9,191.0 727.6,192.6 731.3,194.2 735.0,195.8 738.6,197.5 742.3,199.1 745.9,200.8 749.6,202.5 753.2,204.2 756.8,205.9 760.4,207.7 764.0,209.4 767.6,211.2 771.2,213.0 774.8,214.8 778.4,216.6 781.9,218.5 785.5,220.3 789.0,222.2 792.6,224.1 796.1,226.1 799.6,228.0 803.1,230.0 806.5,232.0 810.0,234.0 L810,240 L600.0,161.5 596.0,161.6 592.0,161.6 587.9,161.7 583.9,161.7 579.9,161.8 575.9,161.9 571.9,162.0 567.9,162.1 563.9,162.3 559.8,162.5 555.8,162.8 551.8,163.1 547.8,163.5 543.9,164.0 539.9,164.5 535.9,165.0 531.9,165.6 528.0,166.3 524.0,167.0 520.1,167.7 516.1,168.5 512.2,169.3 508.3,170.2 504.4,171.1 500.5,172.1 496.6,173.1 492.7,174.1 488.8,175.2 484.9,176.3 481.1,177.4 477.3,178.6 473.4,179.8 469.6,181.1 465.8,182.4 462.0,183.7 458.2,185.1 454.5,186.5 450.7,187.9 447.0,189.4 443.3,190.9 439.6,192.4 435.9,194.0 432.2,195.6 428.5,197.3 424.9,199.0 421.2,200.7 417.6,202.4 414.0,204.1 410.4,205.9 406.8,207.7 403.2,209.5 399.6,211.3 396.0,213.1 392.5,215.0 388.9,216.9 385.4,218.8 381.9,220.7 378.3,222.6 374.8,224.6 371.3,226.6 367.8,228.6 364.3,230.5 360.9,232.5 357.4,234.6 353.9,236.6 350.4,238.6 347.0,240.6 343.5,242.7 340.1,244.7 336.6,246.8 333.2,248.9 329.8,251.0 326.3,253.1 322.9,255.2 319.5,257.4 316.2,259.6 312.8,261.7 309.4,263.9 306.1,266.1 302.7,268.4 299.4,270.6 296.0,272.8 292.7,275.1 289.3,277.3 286.0,279.5 282.7,281.8 279.3,284.0 276.0,286.3 272.7,288.5 269.3,290.7 266.0,293.0 262.6,295.2 259.3,297.4 255.9,299.6 252.6,301.8 249.2,304.0 245.8,306.2 242.5,308.4 239.1,310.6 235.7,312.8 232.3,314.9 229.0,317.1 225.6,319.3 222.2,321.5 218.8,323.7 215.5,325.9 212.1,328.1 208.8,330.3 205.4,332.5 202.1,334.7 198.7,337.0 195.4,339.2 192.1,341.5 188.8,343.8 185.5,346.1 182.2,348.4 178.9,350.7 175.6,353.0 172.4,355.3 169.1,357.7 165.8,360.0 162.5,362.3 159.3,364.7 156.0,367.0 152.7,369.3 149.4,371.6 146.1,373.9 142.9,376.2 139.6,378.5 136.2,380.8 132.9,383.1 129.6,385.3 126.2,387.5 122.9,389.7 119.5,391.9 116.1,394.1 112.7,396.2 109.3,398.3 105.8,400.4 102.4,402.4 98.9,404.4 95.4,406.4 91.9,408.3 88.3,410.2 84.7,412.0 81.2,413.9 77.6,415.7 74.0,417.4 70.4,419.2 66.7,420.9 63.1,422.7 59.5,424.4 55.8,426.0 52.2,427.7 48.5,429.4 44.8,431.0 41.2,432.7 37.5,434.3 33.8,435.9 30.2,437.6 26.5,439.2 22.8,440.8 19.1,442.4 15.5,444.1 11.8,445.7 8.1,447.4 4.5,449.1 0.9,450.8 -2.8,452.5 -6.4,454.2 -10.0,456.0 Z" fill="#c7c4b7"/>
<g fill="none" stroke="#ebe3d3" stroke-width="1.9">
<g clip-path="url(#cAbove)"><path d="M-17,282 -13,283 -9,284 -6,285 -2,286 2,287 5,288 9,288 13,289 17,290 21,291 25,291 29,292 33,293 37,293 41,294 45,295 49,296 52,296 56,297 60,297 64,297 67,298 71,298 74,298 78,297 81,297 85,296 88,296 92,295 95,294 99,293 102,291 105,290 109,288 112,287 115,285 119,283 122,281 126,279 129,277 132,275 136,273 139,271 143,269 146,267 150,265 153,263 157,261 160,259 163,257 167,255 170,253 173,251 177,248 180,246 183,244 186,242 190,239 193,237 196,235 200,232 203,230 207,228 211,225 214,223 218,221 222,220 227,218 231,217 235,215 239,214 243,213 247,212 251,211 256,211 260,210 264,209 268,209 272,208 276,208 280,207 284,207 288,207 292,206 296,206 300,205 304,205 308,205 312,204 316,204 320,204 325,203 329,203 333,203 337,202 341,202 345,202 349,201 353,201 357,201 361,200 365,200 369,200 373,200 377,199 381,199 385,199 389,198 393,198 397,198 401,198 405,197 409,197 413,197 417,197 421,196 425,196 429,196 433,196 437,195 441,195 445,195 449,195 453,194 457,194 461,194 465,194 469,194"/><path d="M-14,272 -10,273 -7,274 -3,275 0,276 4,277 7,277 11,278 15,279 19,280 23,280 27,281 31,282 35,282 39,283 43,284 47,285 50,285 54,286 57,286 61,287 64,287 68,287 71,287 74,287 77,287 80,287 83,286 86,285 89,285 92,284 95,283 98,282 101,280 104,279 107,277 111,276 114,274 117,272 120,270 124,268 127,266 130,264 134,262 137,260 141,258 144,256 148,254 151,252 155,250 158,248 161,246 165,244 168,242 171,240 174,238 177,235 180,233 183,231 187,229 190,226 194,224 197,221 201,219 205,216 210,214 214,212 218,210 223,208 227,207 232,205 236,204 241,203 245,202 250,201 254,200 258,200 263,199 267,198 271,198 275,197 279,197 283,197 287,196 291,196 295,195 299,195 303,195 307,194 311,194 316,193 320,193 324,193 328,192 332,192 336,192 340,192 344,191 348,191 352,191 356,190 360,190 364,190 368,189 372,189 376,189 380,189 384,188 388,188 392,188 396,187 400,187 404,187 408,187 412,186 416,186 420,186 424,186 429,185 433,185 437,185 441,185 445,184 449,184 453,184 457,184 461,184 465,183 469,183"/><path d="M-11,262 -7,263 -4,264 -0,265 3,266 6,266 10,267 13,268 17,269 21,269 25,270 29,271 33,271 37,272 41,273 45,274 48,274 52,275 55,275 59,276 62,276 65,277 68,277 71,277 73,277 76,276 78,276 81,276 83,275 86,275 89,274 92,273 94,272 97,271 100,269 103,268 106,267 109,265 112,263 115,261 118,259 122,257 125,255 129,253 132,251 136,249 139,247 142,245 146,243 149,241 152,239 156,237 159,235 162,233 165,231 168,229 171,227 174,225 177,222 180,220 184,218 188,215 192,212 196,210 200,207 205,205 210,202 215,200 219,198 224,197 229,195 234,194 238,193 243,192 248,191 252,190 257,189 261,189 265,188 270,187 274,187 278,187 282,186 286,186 290,185 294,185 298,185 302,184 306,184 311,183 315,183 319,183 323,182 327,182 331,182 335,181 339,181 343,181 347,180 351,180 355,180 359,179 363,179 367,179 371,179 375,178 379,178 384,178 388,178 392,177 396,177 400,177 404,176 408,176 412,176 416,176 420,175 424,175 428,175 432,175 436,174 440,174 444,174 448,174 452,174 456,173 460,173 464,173 468,173"/><path d="M-8,252 -4,253 -1,254 2,255 5,256 9,256 12,257 15,258 19,258 22,259 26,260 31,260 35,261 39,262 43,263 47,263 50,264 54,264 57,265 60,265 63,266 66,266 68,266 71,266 73,266 75,266 77,266 79,265 81,265 83,264 86,264 88,263 91,262 93,261 96,260 98,259 101,257 104,256 107,254 110,252 113,250 116,248 120,246 123,244 127,242 130,240 134,238 137,236 140,234 144,232 147,230 150,228 153,226 156,224 159,222 162,220 165,218 168,216 171,214 174,212 178,209 182,206 186,204 190,201 195,198 200,195 205,193 211,191 216,189 221,187 226,185 231,184 236,183 241,181 246,180 250,180 255,179 260,178 264,178 268,177 273,177 277,176 281,176 285,175 289,175 293,174 297,174 301,174 306,173 310,173 314,173 318,172 322,172 326,172 330,171 334,171 338,171 342,170 346,170 350,170 354,169 358,169 362,169 367,168 371,168 375,168 379,168 383,167 387,167 391,167 395,167 399,166 403,166 407,166 411,165 415,165 419,165 423,165 427,164 431,164 435,164 439,164 443,164 447,163 451,163 455,163 459,163 463,162 468,162"/><path d="M-5,242 -1,243 2,244 5,245 8,245 11,246 14,247 17,247 20,248 24,248 28,249 32,250 37,251 41,251 45,252 48,253 52,254 55,254 59,255 61,255 64,255 67,256 69,256 71,256 72,256 74,256 75,255 77,255 79,255 81,254 83,254 85,253 87,252 89,251 91,250 93,249 96,248 98,247 101,245 104,243 108,241 111,239 114,237 118,235 121,233 125,231 128,229 132,227 135,225 138,223 141,221 145,219 148,217 151,215 154,213 156,211 159,210 162,208 165,205 168,203 172,201 176,198 180,195 185,192 190,189 196,186 201,183 207,181 212,179 217,177 223,175 228,174 233,172 239,171 244,170 249,169 254,168 258,168 263,167 267,167 272,166 276,166 280,165 284,165 288,164 292,164 296,164 300,163 305,163 309,162 313,162 317,162 321,161 325,161 329,161 333,160 337,160 341,160 345,159 350,159 354,159 358,159 362,158 366,158 370,158 374,157 378,157 382,157 386,157 390,156 394,156 398,156 402,156 406,155 410,155 414,155 419,154 423,154 427,154 431,154 435,154 439,153 443,153 447,153 451,153 455,152 459,152 463,152 467,152"/><path d="M-2,232 2,233 5,234 8,234 10,235 13,236 16,236 19,237 22,237 26,238 30,239 34,240 38,240 43,241 47,242 50,243 54,243 57,244 60,244 63,245 65,245 67,245 69,245 70,245 72,245 73,245 74,245 75,245 76,245 78,244 79,244 81,243 83,242 85,242 87,241 89,240 91,239 93,237 96,236 99,234 102,232 105,230 109,228 112,226 116,224 119,222 123,220 126,218 129,216 133,214 136,212 139,210 142,208 145,206 148,205 151,203 153,201 156,199 159,197 162,195 166,192 170,189 174,186 180,183 185,180 191,176 197,174 203,171 208,169 214,167 220,165 225,163 231,162 236,161 242,160 247,159 252,158 257,157 262,157 266,156 270,156 275,155 279,155 283,154 287,154 291,154 295,153 299,153 304,152 308,152 312,152 316,151 320,151 324,151 328,150 332,150 337,150 341,149 345,149 349,149 353,148 357,148 361,148 365,147 369,147 373,147 377,147 381,146 385,146 390,146 394,146 398,145 402,145 406,145 410,145 414,144 418,144 422,144 426,144 430,143 434,143 438,143 442,143 446,142 450,142 454,142 458,142 462,141 466,141"/><path d="M1,222 4,223 8,224 10,224 13,225 15,225 18,226 21,227 24,227 28,228 32,229 36,229 40,230 45,231 48,232 52,232 56,233 59,233 62,234 64,234 66,234 68,235 69,235 70,235 71,235 72,235 72,235 73,234 74,234 75,234 76,234 78,233 79,233 81,232 82,231 84,230 86,229 88,228 91,227 94,225 97,223 100,221 104,219 107,217 111,215 114,213 117,211 121,209 124,207 127,205 130,203 134,201 137,199 139,198 142,196 145,194 147,192 150,190 153,188 156,186 160,183 164,180 169,177 174,174 180,170 186,167 192,164 199,161 205,159 211,157 217,155 223,153 228,152 234,151 240,149 245,148 250,148 255,147 260,146 265,146 269,145 274,145 278,144 282,144 286,144 290,143 294,143 298,142 303,142 307,142 311,141 315,141 319,140 323,140 328,140 332,139 336,139 340,139 344,139 348,138 352,138 356,138 360,137 364,137 368,137 373,136 377,136 381,136 385,136 389,135 393,135 397,135 401,135 405,134 409,134 413,134 417,134 421,133 425,133 429,133 433,133 437,132 442,132 446,132 450,132 454,131 458,131 462,131 466,131"/><path d="M4,211 7,213 10,213 13,214 15,215 18,215 20,216 23,216 26,217 30,217 34,218 38,219 42,220 46,220 50,221 54,222 57,223 61,223 63,223 65,224 67,224 69,224 70,224 70,224 71,224 71,224 71,224 71,224 72,224 72,224 73,224 74,223 75,223 77,222 78,222 79,221 81,220 83,219 86,218 88,216 91,214 95,212 98,210 102,208 105,206 109,204 112,202 115,200 119,198 122,196 125,194 128,192 131,190 134,189 136,187 139,185 141,184 144,182 147,180 150,178 153,175 158,172 163,168 169,165 175,161 181,158 188,155 195,152 201,149 207,147 214,145 220,143 226,142 232,140 238,139 243,138 249,137 254,137 259,136 264,135 268,135 272,134 277,134 281,134 285,133 289,133 293,132 297,132 302,131 306,131 310,131 314,130 318,130 323,130 327,129 331,129 335,129 339,128 343,128 347,128 351,127 355,127 359,127 364,127 368,126 372,126 376,126 380,125 384,125 388,125 392,125 396,124 400,124 404,124 408,124 413,123 417,123 421,123 425,123 429,122 433,122 437,122 441,122 445,121 449,121 453,121 457,121 461,120 465,120"/><path d="M7,201 10,202 13,203 16,204 18,205 20,205 22,205 25,206 28,206 31,207 35,208 40,209 44,209 48,210 52,211 56,212 59,212 62,213 65,213 67,213 68,214 70,214 70,214 70,214 70,214 70,214 69,214 69,214 69,214 69,214 70,214 71,213 71,213 72,213 74,212 75,212 76,211 78,210 80,209 83,207 86,205 89,203 93,201 96,199 100,197 103,195 107,193 110,191 113,189 116,187 120,185 123,183 125,182 128,180 131,178 133,177 135,175 138,173 140,171 143,169 147,166 152,163 157,160 163,156 170,152 177,148 184,145 191,142 197,139 204,137 211,135 217,133 224,131 230,130 236,129 242,128 247,127 253,126 258,125 262,125 267,124 271,124 276,123 280,123 284,123 288,122 292,122 296,121 301,121 305,121 309,120 313,120 318,120 322,119 326,119 330,119 334,118 338,118 342,118 346,117 350,117 355,117 359,116 363,116 367,116 371,115 375,115 379,115 383,115 388,114 392,114 396,114 400,114 404,113 408,113 412,113 416,113 420,112 424,112 428,112 432,112 436,111 440,111 444,111 448,111 452,110 456,110 460,110 464,110"/><path d="M10,191 13,192 16,193 19,194 20,194 22,195 24,195 27,196 30,196 33,197 37,197 42,198 46,199 50,200 54,201 58,201 61,202 64,202 66,203 68,203 70,203 70,203 71,203 70,203 70,203 69,203 68,203 67,203 67,204 67,204 67,204 67,203 68,203 68,203 69,203 70,202 71,202 73,201 75,199 78,198 81,196 84,194 87,192 91,190 94,188 98,186 101,184 105,182 108,180 111,178 114,176 117,174 120,173 122,171 125,169 127,168 129,166 132,165 134,163 137,161 141,158 146,155 151,151 158,147 165,143 172,139 179,135 187,132 194,129 201,127 208,125 215,123 221,121 228,120 234,119 240,117 246,117 251,116 256,115 261,114 266,114 270,113 274,113 279,113 283,112 287,112 291,111 296,111 300,111 304,110 308,110 312,109 317,109 321,109 325,108 329,108 333,108 337,107 341,107 346,107 350,106 354,106 358,106 362,106 366,105 370,105 374,105 379,104 383,104 387,104 391,104 395,103 399,103 403,103 407,103 411,102 415,102 419,102 423,102 427,101 432,101 436,101 440,101 444,100 448,100 452,100 456,100 460,99 464,99"/><path d="M13,181 16,182 19,183 21,184 23,184 25,184 26,185 28,185 31,186 35,186 39,187 43,188 48,189 52,190 56,190 60,191 63,192 66,192 68,192 69,193 71,193 71,193 71,193 70,193 69,193 68,193 67,193 65,193 64,193 64,194 64,194 64,194 64,194 64,193 65,193 65,193 67,192 68,191 70,190 72,189 75,187 79,185 82,183 86,181 89,179 92,177 96,175 99,173 102,171 106,169 109,167 111,165 114,164 117,162 119,161 121,159 123,158 126,156 128,154 131,152 135,149 140,146 146,142 152,138 160,134 167,130 175,126 183,123 190,120 198,117 205,115 212,113 219,111 225,110 232,108 238,107 244,106 250,105 255,105 260,104 265,104 269,103 273,103 278,102 282,102 286,101 290,101 295,101 299,100 303,100 307,99 312,99 316,99 320,98 324,98 328,98 332,97 337,97 341,97 345,96 349,96 353,96 357,95 361,95 365,95 370,95 374,94 378,94 382,94 386,93 390,93 394,93 398,93 402,92 407,92 411,92 415,92 419,91 423,91 427,91 431,91 435,90 439,90 443,90 447,90 451,89 455,89 459,89 463,89"/><path d="M16,171 19,172 22,173 24,174 25,174 27,174 28,175 30,175 33,175 37,176 41,177 45,178 50,178 54,179 58,180 62,181 65,181 67,182 69,182 71,182 72,182 72,182 71,182 70,182 69,182 67,182 65,183 63,183 62,183 61,183 60,184 60,184 60,184 60,184 60,184 61,183 62,183 63,182 65,181 67,180 70,178 73,176 77,174 80,172 84,170 87,168 91,166 94,164 97,162 100,160 103,158 106,157 109,155 111,153 113,152 115,151 117,149 119,148 122,146 125,144 129,141 134,137 140,133 147,129 154,124 162,120 171,116 179,113 187,110 194,107 202,105 209,103 216,101 223,99 230,98 237,97 243,96 248,95 254,94 259,94 264,93 268,93 272,92 277,92 281,91 285,91 289,90 294,90 298,90 302,89 306,89 311,89 315,88 319,88 323,87 327,87 332,87 336,87 340,86 344,86 348,86 352,85 356,85 361,85 365,84 369,84 373,84 377,83 381,83 385,83 390,83 394,82 398,82 402,82 406,82 410,81 414,81 418,81 422,81 426,80 430,80 434,80 438,80 442,79 446,79 450,79 455,79 459,78 463,78"/><path d="M19,161 22,162 25,163 27,163 28,164 29,164 30,164 32,165 35,165 39,166 43,166 47,167 52,168 56,169 60,170 64,170 67,171 69,171 71,172 72,172 73,172 73,172 72,172 70,172 68,172 66,172 64,172 62,173 60,173 58,173 57,174 57,174 56,174 56,174 56,174 56,174 57,174 58,173 60,172 62,171 65,169 68,167 71,165 75,163 78,161 82,159 85,157 88,155 92,153 95,151 98,149 100,148 103,146 105,145 107,143 109,142 111,141 113,139 116,137 119,135 123,132 128,129 134,124 141,120 149,115 158,111 166,107 175,103 183,100 191,97 199,95 206,92 214,91 221,89 228,88 235,86 241,85 247,85 253,84 258,83 262,83 267,82 271,82 275,81 280,81 284,80 288,80 293,80 297,79 301,79 306,78 310,78 314,78 318,77 322,77 327,77 331,76 335,76 339,76 343,75 347,75 351,75 356,74 360,74 364,74 368,74 372,73 376,73 381,73 385,72 389,72 393,72 397,72 401,71 405,71 409,71 413,71 417,70 421,70 426,70 430,70 434,69 438,69 442,69 446,69 450,68 454,68 458,68 462,68"/></g>
<g clip-path="url(#cBand)"><path d="M-20.0,279.2 L-20.0,432.8 M-20.0,279.2 L-20.0,432.8 M-20.0,279.2 L-20.0,432.8 M-20.0,279.2 L-20.0,432.8 M-20.9,279.9 L-10.6,425.3 M-21.8,280.6 L-0.6,417.1 M-16.3,283.2 L8.7,408.7 M-5.6,287.1 L17.8,400.5 M5.3,290.3 L27.2,392.7 M16.3,293.0 L36.8,385.2 M27.2,295.8 L46.4,377.8 M38.1,298.7 L56.0,370.3 M49.1,301.4 L65.4,362.6 M60.2,303.5 L74.6,354.8 M71.3,304.7 L83.8,346.8 M82.5,304.4 L92.8,338.9 M93.4,302.6 L101.9,331.2 M103.9,299.6 L111.1,323.8 M114.1,295.5 L120.5,316.6 M123.9,290.6 L130.1,309.7 M133.4,285.2 L140.0,303.1 M142.8,279.6 L150.0,297.0 M152.2,274.0 L160.3,291.1 M161.5,268.4 L170.6,285.4 M170.8,262.6 L180.9,279.6 M180.0,256.8 L191.0,273.5 M189.1,250.6 L201.0,267.2 M197.9,244.2 L211.0,260.9 M206.8,237.9 L221.2,254.9 M216.2,232.2 L231.6,249.4 M226.1,227.6 L242.3,244.4 M236.4,224.1 L253.2,239.9 M247.0,221.5 L264.3,236.0 M257.8,219.6 L275.7,232.8 M268.6,218.2 L287.2,230.0 M279.5,217.1 L298.7,227.4 M290.4,216.1 L310.3,225.0 M301.3,215.1 L321.9,222.8 M312.2,214.2 L333.5,220.9 M323.1,213.3 L345.2,219.2 M334.0,212.4 L356.9,217.8 M344.9,211.6 L368.7,216.7 M355.8,210.8 L380.4,215.6 M366.6,210.0 L392.2,214.7 M377.5,209.2 L404.0,213.8 M388.5,208.5 L415.7,212.9 M399.4,207.8 L427.5,211.9 M410.3,207.1 L439.3,210.9 M421.2,206.5 L451.0,210.0 M432.1,205.8 L462.8,209.0 M443.2,205.2 L472.4,208.3 M455.3,204.5 L471.3,208.3 M467.3,203.8 L470.2,208.4 M470.0,203.6 L470.0,208.4 M470.0,203.6 L470.0,208.4 M470.0,203.6 L470.0,208.4 M470.0,203.6 L470.0,208.4 M470.0,203.6 L470.0,208.4"/></g>
<g clip-path="url(#cBelow)"><path d="M-601.9,392.0 -571.4,407.6 -540.9,421.9 -510.4,435.0 -479.9,446.7 -449.4,457.2 -419.0,466.4 -388.5,474.3 -358.0,480.9 -327.5,486.2 -297.0,490.3 -266.6,493.1 -236.1,494.6 -205.6,494.8 -175.1,493.7 -144.6,491.4 -114.1,487.7 -83.7,482.8 -53.2,476.6 -22.7,473.6 7.8,467.3 38.3,457.1 68.7,444.3 99.2,429.8 129.7,414.5 160.2,398.4 190.7,381.3 221.2,363.2 251.6,344.1 282.1,324.5 282.1,324.5 282.7,324.1 283.2,323.7 283.6,323.3 284.0,322.9 284.4,322.4 284.6,322.0 284.9,321.5 285.1,321.1 285.2,320.6 285.2,320.2 285.3,319.7 285.2,319.3 285.1,318.9 284.9,318.5 284.7,318.1 284.4,317.7 284.0,317.3 283.6,317.0 283.2,316.7 282.7,316.4 282.2,316.1 281.6,315.9 281.0,315.7 280.3,315.6 279.7,315.5 279.0,315.4 278.2,315.4 277.5,315.3 276.8,315.4 276.0,315.4 275.3,315.5 274.5,315.7 273.8,315.9 273.1,316.1 272.4,316.3 271.7,316.6 271.1,316.9 270.5,317.2 269.9,317.5 269.9,317.5 239.4,337.1 208.9,355.9 178.4,373.8 148.0,390.9 117.5,407.2 87.0,422.8 56.5,437.6 26.0,450.5 -4.5,461.7 -34.9,465.9 -65.4,464.4 -95.9,470.1 -126.4,474.5 -156.9,477.6 -187.4,479.5 -217.8,480.0 -248.3,479.3 -278.8,477.3 -309.3,474.0 -339.8,469.4 -370.2,463.6 -400.7,456.5 -431.2,448.0 -461.7,438.3 -492.2,427.4 -522.7,415.1 -553.1,401.5 -583.6,386.7 -614.1,370.6 M-591.2,410.6 -560.7,425.7 -530.2,439.6 -499.7,452.2 -469.2,463.5 -438.8,473.5 -408.3,482.2 -377.8,489.7 -347.3,495.8 -316.8,500.7 -286.4,504.3 -255.9,506.7 -225.4,507.7 -194.9,507.5 -164.4,506.0 -133.9,503.1 -103.5,499.1 -73.0,493.7 -42.5,487.0 -12.0,480.5 18.5,473.2 48.9,463.2 79.4,450.4 109.9,436.2 140.4,421.1 170.9,405.0 201.4,387.8 231.8,369.5 262.3,350.1 292.8,330.5 292.8,330.5 294.3,329.5 295.6,328.4 296.9,327.3 298.0,326.2 298.9,325.0 299.7,323.7 300.4,322.5 300.9,321.3 301.2,320.0 301.4,318.8 301.4,317.5 301.2,316.3 300.9,315.1 300.4,314.0 299.8,312.9 299.0,311.9 298.0,310.9 297.0,310.0 295.7,309.1 294.4,308.4 292.9,307.7 291.3,307.1 289.6,306.6 287.9,306.2 286.0,305.8 284.1,305.6 282.1,305.5 280.1,305.5 278.1,305.6 276.1,305.7 274.0,306.0 272.0,306.4 270.0,306.9 268.0,307.4 266.1,308.1 264.2,308.8 262.5,309.6 260.8,310.5 259.2,311.5 259.2,311.5 228.7,330.9 198.2,349.5 167.8,367.4 137.3,384.5 106.8,401.1 76.3,417.1 45.8,432.2 15.3,445.5 -15.1,457.3 -45.6,459.5 -76.1,455.6 -106.6,458.9 -137.1,462.8 -167.6,465.5 -198.0,466.9 -228.5,467.0 -259.0,465.8 -289.5,463.4 -320.0,459.6 -350.4,454.6 -380.9,448.3 -411.4,440.7 -441.9,431.9 -472.4,421.7 -502.9,410.3 -533.3,397.6 -563.8,383.6 -594.3,368.3 -624.8,351.7 M-580.5,428.9 -550.0,443.6 -519.5,457.1 -489.0,469.2 -458.6,480.0 -428.1,489.6 -397.6,497.9 -367.1,504.9 -336.6,510.6 -306.2,515.1 -275.7,518.2 -245.2,520.1 -214.7,520.7 -184.2,520.0 -153.7,518.0 -123.3,514.8 -92.8,510.3 -62.3,504.4 -31.8,497.3 -1.3,489.0 29.1,479.7 59.6,469.6 90.1,456.8 120.6,442.9 151.1,427.9 181.6,411.7 212.0,394.4 242.5,375.7 273.0,356.2 303.5,336.6 303.5,336.6 305.9,334.9 308.1,333.2 310.2,331.3 311.9,329.4 313.5,327.5 314.8,325.5 315.9,323.5 316.7,321.4 317.3,319.4 317.5,317.3 317.5,315.3 317.3,313.3 316.8,311.4 316.0,309.6 314.9,307.8 313.6,306.1 312.1,304.5 310.3,303.0 308.3,301.6 306.1,300.3 303.7,299.2 301.1,298.2 298.3,297.4 295.4,296.7 292.4,296.2 289.3,295.8 286.1,295.6 282.8,295.6 279.5,295.7 276.1,296.0 272.8,296.5 269.4,297.1 266.2,297.9 262.9,298.8 259.8,299.9 256.8,301.1 253.9,302.4 251.1,303.9 248.5,305.4 248.5,305.4 218.0,324.6 187.6,343.2 157.1,361.1 126.6,378.4 96.1,395.3 65.6,411.8 35.1,427.2 4.7,441.3 -25.8,452.3 -56.3,453.5 -86.8,449.1 -117.3,447.5 -147.8,451.0 -178.2,453.2 -208.7,454.2 -239.2,453.8 -269.7,452.2 -300.2,449.3 -330.6,445.1 -361.1,439.6 -391.6,432.9 -422.1,424.8 -452.6,415.5 -483.1,404.9 -513.5,393.0 -544.0,379.9 -574.5,365.4 -605.0,349.7 -635.5,332.7 M-569.8,447.2 -539.3,461.4 -508.8,474.4 -478.4,486.1 -447.9,496.5 -417.4,505.6 -386.9,513.4 -356.4,520.0 -326.0,525.3 -295.5,529.2 -265.0,532.0 -234.5,533.4 -204.0,533.5 -173.5,532.4 -143.1,530.0 -112.6,526.3 -82.1,521.3 -51.6,515.0 -21.1,507.5 9.3,498.6 39.8,488.5 70.3,477.1 100.8,464.4 131.3,450.5 161.8,435.2 192.2,418.7 222.7,400.9 253.2,381.8 283.7,362.2 314.2,342.6 314.2,342.6 317.5,340.3 320.6,337.9 323.4,335.3 325.9,332.7 328.1,330.0 329.9,327.2 331.4,324.4 332.5,321.6 333.3,318.7 333.7,315.9 333.7,313.1 333.3,310.4 332.6,307.7 331.5,305.1 330.0,302.6 328.2,300.3 326.1,298.0 323.6,296.0 320.8,294.0 317.7,292.3 314.4,290.7 310.8,289.4 307.0,288.2 303.0,287.3 298.8,286.6 294.4,286.1 290.0,285.8 285.4,285.7 280.8,285.9 276.2,286.3 271.5,287.0 266.9,287.8 262.3,288.9 257.9,290.2 253.5,291.7 249.3,293.3 245.3,295.2 241.4,297.2 237.8,299.3 237.8,299.3 207.3,318.4 176.9,337.0 146.4,355.0 115.9,372.6 85.4,389.9 54.9,406.9 24.5,422.7 -6.0,438.2 -36.5,447.0 -67.0,447.8 -97.5,443.0 -128.0,435.9 -158.4,439.0 -188.9,440.8 -219.4,441.3 -249.9,440.5 -280.4,438.4 -310.8,435.0 -341.3,430.4 -371.8,424.5 -402.3,417.3 -432.8,408.8 -463.3,399.0 -493.7,388.0 -524.2,375.7 -554.7,362.0 -585.2,347.1 -615.7,331.0 -646.1,313.5 M-559.1,465.2 -528.6,479.0 -498.2,491.5 -467.7,502.8 -437.2,512.7 -406.7,521.4 -376.2,528.8 -345.8,534.9 -315.3,539.7 -284.8,543.3 -254.3,545.5 -223.8,546.5 -193.3,546.2 -162.9,544.6 -132.4,541.7 -101.9,537.6 -71.4,532.2 -40.9,525.4 -10.5,517.4 20.0,508.2 50.5,497.6 81.0,485.7 111.5,472.6 142.0,458.2 172.4,442.5 202.9,425.5 233.4,407.3 263.9,387.9 294.4,368.3 324.9,348.7 324.9,348.7 329.2,345.7 333.1,342.6 336.7,339.4 339.9,336.0 342.7,332.5 345.0,329.0 346.9,325.4 348.4,321.7 349.3,318.1 349.8,314.5 349.8,310.9 349.4,307.4 348.4,304.0 347.0,300.7 345.2,297.5 342.8,294.5 340.1,291.6 336.9,289.0 333.4,286.5 329.4,284.3 325.1,282.3 320.5,280.5 315.7,279.1 310.5,277.9 305.1,276.9 299.6,276.3 293.9,275.9 288.0,275.9 282.1,276.1 276.2,276.6 270.3,277.5 264.3,278.5 258.5,279.9 252.8,281.6 247.2,283.4 241.8,285.6 236.7,287.9 231.8,290.5 227.1,293.2 227.1,293.2 196.7,312.2 166.2,330.9 135.7,349.1 105.2,367.0 74.7,385.0 44.3,402.4 13.8,419.0 -16.7,435.8 -47.2,442.2 -77.7,442.6 -108.2,437.4 -138.6,425.7 -169.1,426.8 -199.6,428.2 -230.1,428.2 -260.6,427.0 -291.0,424.4 -321.5,420.6 -352.0,415.6 -382.5,409.2 -413.0,401.5 -443.5,392.6 -473.9,382.4 -504.4,370.9 -534.9,358.1 -565.4,344.0 -595.9,328.7 -626.3,312.1 -656.8,294.2 M-548.4,483.1 -518.0,496.5 -487.5,508.6 -457.0,519.3 -426.5,528.8 -396.0,537.1 -365.6,544.0 -335.1,549.7 -304.6,554.0 -274.1,557.1 -243.6,558.9 -213.1,559.5 -182.7,558.7 -152.2,556.7 -121.7,553.4 -91.2,548.8 -60.7,542.9 -30.3,535.7 0.2,527.3 30.7,517.5 61.2,506.5 91.7,494.2 122.2,480.6 152.6,465.8 183.1,449.6 213.6,432.2 244.1,413.5 274.6,393.9 305.1,374.3 335.5,354.7 335.5,354.7 340.8,351.1 345.6,347.3 350.0,343.4 353.9,339.3 357.3,335.0 360.1,330.7 362.4,326.3 364.2,321.9 365.4,317.5 366.0,313.1 366.0,308.7 365.4,304.4 364.3,300.3 362.6,296.2 360.3,292.4 357.5,288.7 354.1,285.2 350.2,282.0 345.9,279.0 341.1,276.2 335.9,273.8 330.3,271.7 324.3,269.9 318.1,268.4 311.5,267.3 304.7,266.5 297.8,266.1 290.7,266.0 283.5,266.3 276.2,266.9 269.0,267.9 261.8,269.3 254.7,270.9 247.7,272.9 240.9,275.2 234.4,277.8 228.1,280.6 222.1,283.7 216.5,287.1 216.5,287.1 186.0,306.2 155.5,324.9 125.0,343.4 94.5,361.9 64.1,380.5 33.6,398.5 3.1,416.5 -27.4,432.4 -57.9,437.7 -88.4,437.8 -118.8,432.1 -149.3,420.0 -179.8,414.5 -210.3,415.4 -240.8,415.0 -271.2,413.3 -301.7,410.3 -332.2,406.1 -362.7,400.5 -393.2,393.7 -423.7,385.6 -454.1,376.2 -484.6,365.6 -515.1,353.6 -545.6,340.4 -576.1,325.9 -606.5,310.1 -637.0,293.0 -667.5,274.7 M-537.8,500.9 -507.3,513.8 -476.8,525.4 -446.3,535.7 -415.8,544.8 -385.4,552.6 -354.9,559.1 -324.4,564.3 -293.9,568.2 -263.4,570.8 -232.9,572.2 -202.5,572.3 -172.0,571.1 -141.5,568.6 -111.0,564.8 -80.5,559.8 -50.0,553.4 -19.6,545.8 10.9,536.9 41.4,526.7 71.9,515.3 102.4,502.5 132.8,488.5 163.3,473.2 193.8,456.6 224.3,438.7 254.8,419.6 285.3,400.0 315.7,380.4 346.2,360.8 346.2,360.8 352.4,356.6 358.1,352.1 363.2,347.4 367.8,342.5 371.8,337.5 375.2,332.4 377.9,327.3 380.0,322.0 381.4,316.8 382.1,311.6 382.1,306.5 381.5,301.5 380.1,296.5 378.1,291.8 375.4,287.2 372.1,282.9 368.1,278.8 363.6,274.9 358.4,271.4 352.8,268.2 346.6,265.3 340.0,262.8 333.0,260.7 325.6,259.0 317.9,257.7 309.9,256.7 301.7,256.2 293.3,256.1 284.8,256.5 276.3,257.2 267.7,258.4 259.2,260.0 250.9,261.9 242.6,264.3 234.6,267.0 226.9,270.0 219.5,273.4 212.4,277.1 205.8,281.0 205.8,281.0 175.3,300.2 144.8,319.2 114.3,338.1 83.9,357.3 53.4,376.5 22.9,395.3 -7.6,415.2 -38.1,428.6 -68.6,433.6 -99.0,433.5 -129.5,427.4 -160.0,414.8 -190.5,402.1 -221.0,402.5 -251.4,401.6 -281.9,399.5 -312.4,396.1 -342.9,391.4 -373.4,385.4 -403.9,378.1 -434.3,369.6 -464.8,359.7 -495.3,348.6 -525.8,336.2 -556.3,322.5 -586.7,307.6 -617.2,291.3 -647.7,273.8 -678.2,255.0 M-527.1,518.5 -496.6,530.9 -466.1,542.1 -435.6,552.0 -405.2,560.6 -374.7,567.9 -344.2,573.9 -313.7,578.7 -283.2,582.2 -252.7,584.4 -222.3,585.3 -191.8,584.9 -161.3,583.3 -130.8,580.3 -100.3,576.1 -69.8,570.6 -39.4,563.8 -8.9,555.8 21.6,546.4 52.1,535.8 82.6,523.9 113.0,510.7 143.5,496.2 174.0,480.4 204.5,463.4 235.0,445.1 265.5,425.6 295.9,406.1 326.4,386.5 356.9,366.9 356.9,366.9 364.0,362.0 370.6,356.8 376.5,351.4 381.8,345.8 386.4,340.1 390.3,334.2 393.4,328.2 395.8,322.2 397.4,316.2 398.3,310.2 398.3,304.3 397.5,298.5 396.0,292.8 393.6,287.3 390.5,282.1 386.7,277.1 382.1,272.3 376.9,267.9 371.0,263.9 364.5,260.2 357.4,256.9 349.8,254.0 341.7,251.6 333.2,249.6 324.3,248.0 315.1,247.0 305.6,246.4 296.0,246.3 286.2,246.7 276.3,247.5 266.5,248.9 256.7,250.7 247.0,253.0 237.6,255.7 228.3,258.8 219.4,262.3 210.9,266.2 202.8,270.5 195.1,275.0 195.1,275.0 164.6,294.5 134.1,313.7 103.7,333.2 73.2,353.1 42.7,373.0 12.2,392.7 -18.3,412.3 -48.8,425.2 -79.2,430.1 -109.7,429.6 -140.2,423.2 -170.7,410.1 -201.2,389.6 -231.6,389.4 -262.1,388.1 -292.6,385.5 -323.1,381.6 -353.6,376.5 -384.1,370.1 -414.5,362.3 -445.0,353.3 -475.5,343.1 -506.0,331.5 -536.5,318.6 -566.9,304.5 -597.4,289.1 -627.9,272.4 -658.4,254.4 -688.9,235.2 M-516.4,535.9 -485.9,547.9 -455.4,558.6 -425.0,568.1 -394.5,576.2 -364.0,583.1 -333.5,588.7 -303.0,593.0 -272.5,596.0 -242.1,597.8 -211.6,598.2 -181.1,597.4 -150.6,595.3 -120.1,591.9 -89.6,587.3 -59.2,581.3 -28.7,574.1 1.8,565.6 32.3,555.8 62.8,544.7 93.2,532.3 123.7,518.7 154.2,503.8 184.7,487.5 215.2,470.1 245.7,451.3 276.1,431.7 306.6,412.1 337.1,392.5 367.6,372.9 367.6,372.9 375.6,367.4 383.1,361.5 389.8,355.4 395.8,349.1 401.0,342.6 405.4,335.9 409.0,329.2 411.6,322.4 413.5,315.6 414.4,308.8 414.4,302.1 413.6,295.5 411.8,289.1 409.2,282.9 405.7,276.9 401.3,271.3 396.1,265.9 390.2,260.9 383.5,256.3 376.2,252.2 368.1,248.4 359.5,245.2 350.3,242.4 340.7,240.1 330.6,238.4 320.2,237.2 309.5,236.5 298.6,236.4 287.5,236.9 276.4,237.8 265.2,239.4 254.1,241.4 243.2,244.0 232.5,247.0 222.0,250.6 212.0,254.6 202.3,259.0 193.1,263.9 184.4,269.1 184.4,269.1 153.9,288.7 123.5,308.3 93.0,327.9 62.5,347.5 32.0,367.1 1.5,386.7 -29.0,406.3 -59.4,422.3 -89.9,427.0 -120.4,426.3 -150.9,419.5 -181.4,405.9 -211.8,384.9 -242.3,376.2 -272.8,374.4 -303.3,371.4 -333.8,367.1 -364.3,361.5 -394.7,354.6 -425.2,346.4 -455.7,337.0 -486.2,326.2 -516.7,314.2 -547.1,300.9 -577.6,286.3 -608.1,270.5 -638.6,253.3 -669.1,234.9 -699.6,215.2 M-505.7,553.2 -475.2,564.7 -444.7,575.0 -414.3,584.0 -383.8,591.7 -353.3,598.1 -322.8,603.3 -292.3,607.1 -261.9,609.7 -231.4,611.0 -200.9,611.0 -170.4,609.7 -139.9,607.2 -109.4,603.4 -79.0,598.2 -48.5,591.8 -18.0,584.2 12.5,575.2 43.0,564.9 73.4,553.4 103.9,540.6 134.4,526.5 164.9,511.1 195.4,494.5 225.9,476.5 256.3,457.4 286.8,437.8 317.3,418.2 347.8,398.6 378.3,379.0 378.3,379.0 387.3,372.8 395.6,366.3 403.1,359.4 409.8,352.4 415.6,345.1 420.5,337.7 424.5,330.1 427.5,322.5 429.5,314.9 430.5,307.4 430.6,299.9 429.6,292.5 427.6,285.4 424.7,278.4 420.8,271.8 415.9,265.5 410.2,259.5 403.5,253.9 396.1,248.8 387.8,244.1 378.9,240.0 369.3,236.3 359.0,233.2 348.2,230.7 337.0,228.7 325.4,227.4 313.4,226.7 301.2,226.5 288.9,227.0 276.4,228.1 264.0,229.8 251.6,232.1 239.4,235.0 227.4,238.4 215.7,242.4 204.5,246.9 193.7,251.8 183.4,257.2 173.7,263.0 173.7,263.0 143.3,282.6 112.8,302.2 82.3,321.8 51.8,341.4 21.3,361.0 -9.2,380.6 -39.6,400.2 -70.1,419.8 -100.6,424.4 -131.1,423.5 -161.6,416.3 -192.0,402.4 -222.5,380.8 -253.0,362.8 -283.5,360.6 -314.0,357.1 -344.5,352.3 -374.9,346.3 -405.4,338.9 -435.9,330.3 -466.4,320.4 -496.9,309.2 -527.4,296.8 -557.8,283.0 -588.3,268.0 -618.8,251.7 -649.3,234.1 -679.8,215.2 -710.2,195.1 M-495.0,570.3 -464.5,581.4 -434.1,591.2 -403.6,599.8 -373.1,607.0 -342.6,613.0 -312.1,617.7 -281.7,621.1 -251.2,623.2 -220.7,624.1 -190.2,623.6 -159.7,621.9 -129.2,618.9 -98.8,614.6 -68.3,609.1 -37.8,602.2 -7.3,594.1 23.2,584.7 53.6,574.0 84.1,562.0 114.6,548.7 145.1,534.2 175.6,518.4 206.1,501.3 236.5,482.9 267.0,463.4 297.5,443.8 328.0,424.2 358.5,404.6 388.9,385.0 388.9,385.0 398.9,378.2 408.0,371.0 416.3,363.4 423.7,355.6 430.2,347.6 435.6,339.4 440.0,331.1 443.3,322.7 445.5,314.3 446.7,305.9 446.7,297.7 445.6,289.6 443.5,281.7 440.2,274.0 435.9,266.7 430.5,259.7 424.2,253.1 416.9,246.9 408.6,241.2 399.5,236.1 389.6,231.5 379.0,227.5 367.7,224.0 355.8,221.3 343.4,219.1 330.5,217.6 317.3,216.8 303.9,216.7 290.2,217.2 276.5,218.4 262.7,220.3 249.0,222.8 235.6,226.0 222.3,229.8 209.5,234.2 197.0,239.1 185.1,244.6 173.7,250.5 163.1,257.0 163.1,257.0 132.6,276.6 102.1,296.2 71.6,315.8 41.1,335.4 10.6,354.9 -19.8,374.5 -50.3,394.1 -80.8,413.7 -111.3,422.4 -141.8,421.2 -172.2,413.8 -202.7,399.4 -233.2,377.4 -263.7,349.2 -294.2,346.6 -324.7,342.6 -355.1,337.4 -385.6,330.9 -416.1,323.1 -446.6,314.1 -477.1,303.7 -507.6,292.1 -538.0,279.2 -568.5,265.0 -599.0,249.5 -629.5,232.8 -660.0,214.7 -690.4,195.4 -720.9,174.8 M-484.3,587.3 -453.9,597.9 -423.4,607.3 -392.9,615.4 -362.4,622.2 -331.9,627.7 -301.5,632.0 -271.0,634.9 -240.5,636.6 -210.0,637.0 -179.5,636.1 -149.0,633.9 -118.6,630.5 -88.1,625.7 -57.6,619.7 -27.1,612.4 3.4,603.9 33.8,594.0 64.3,582.8 94.8,570.4 125.3,556.7 155.8,541.7 186.3,525.5 216.7,507.9 247.2,489.1 277.7,469.5 308.2,449.9 338.7,430.3 369.1,410.7 399.6,391.1 399.6,391.1 410.5,383.6 420.5,375.7 429.6,367.5 437.7,358.9 444.7,350.1 450.7,341.1 455.5,332.0 459.1,322.8 461.6,313.7 462.8,304.5 462.9,295.5 461.7,286.6 459.3,277.9 455.8,269.6 451.0,261.5 445.2,253.9 438.2,246.6 430.2,239.9 421.2,233.7 411.2,228.1 400.4,223.0 388.7,218.6 376.4,214.9 363.3,211.8 349.8,209.5 335.7,207.8 321.2,207.0 306.5,206.8 291.5,207.4 276.5,208.7 261.4,210.8 246.5,213.6 231.7,217.0 217.3,221.2 203.2,226.0 189.5,231.4 176.5,237.4 164.1,243.9 152.4,250.9 152.4,250.9 121.9,270.5 91.4,290.1 60.9,309.7 30.4,329.3 -0.0,348.9 -30.5,368.5 -61.0,388.1 -91.5,407.7 -122.0,421.0 -152.4,419.6 -182.9,411.8 -213.4,397.1 -243.9,374.6 -274.4,343.7 -304.9,332.4 -335.3,328.0 -365.8,322.4 -396.3,315.4 -426.8,307.2 -457.3,297.7 -487.8,286.9 -518.2,274.8 -548.7,261.4 -579.2,246.8 -609.7,230.9 -640.2,213.7 -670.6,195.2 -701.1,175.4 -731.6,154.3 M-473.7,604.1 -443.2,614.3 -412.7,623.2 -382.2,630.8 -351.7,637.2 -321.3,642.3 -290.8,646.1 -260.3,648.6 -229.8,649.8 -199.3,649.7 -168.8,648.4 -138.4,645.8 -107.9,641.9 -77.4,636.7 -46.9,630.2 -16.4,622.5 14.0,613.5 44.5,603.2 75.0,591.6 105.5,578.7 136.0,564.5 166.5,549.1 196.9,532.4 227.4,514.4 257.9,495.1 288.4,475.5 318.9,455.9 349.3,436.3 379.8,416.7 410.3,397.1 410.3,397.1 422.1,389.0 433.0,380.4 442.9,371.5 451.7,362.2 459.3,352.6 465.8,342.9 471.0,333.0 474.9,323.0 477.6,313.0 479.0,303.1 479.0,293.3 477.7,283.6 475.2,274.2 471.3,265.1 466.1,256.4 459.8,248.1 452.2,240.2 443.5,232.9 433.7,226.2 422.9,220.0 411.1,214.6 398.5,209.8 385.0,205.7 370.9,202.4 356.1,199.8 340.8,198.1 325.1,197.1 309.1,196.9 292.9,197.6 276.5,199.0 260.2,201.3 243.9,204.3 227.9,208.0 212.2,212.5 196.9,217.7 182.1,223.6 167.9,230.1 154.4,237.2 141.7,244.9 141.7,244.9 111.2,264.5 80.7,284.1 50.2,303.6 19.8,323.2 -10.7,342.8 -41.2,362.4 -71.7,382.0 -102.2,401.6 -132.7,420.1 -163.1,418.5 -193.6,410.5 -224.1,395.4 -254.6,372.5 -285.1,341.1 -315.5,318.1 -346.0,313.3 -376.5,307.2 -407.0,299.8 -437.5,291.1 -468.0,281.1 -498.4,269.9 -528.9,257.3 -559.4,243.5 -589.9,228.4 -620.4,212.1 -650.8,194.4 -681.3,175.5 -711.8,155.2 -742.3,133.7 M-463.0,620.7 -432.5,630.5 -402.0,638.9 -371.5,646.1 -341.1,652.0 -310.6,656.7 -280.1,660.0 -249.6,662.1 -219.1,662.8 -188.6,662.3 -158.2,660.6 -127.7,657.5 -97.2,653.1 -66.7,647.5 -36.2,640.6 -5.8,632.4 24.7,622.9 55.2,612.2 85.7,600.1 116.2,586.8 146.7,572.2 177.1,556.3 207.6,539.1 238.1,520.7 268.6,501.2 299.1,481.6 329.5,462.0 360.0,442.4 390.5,422.8 421.0,403.2 421.0,403.2 433.8,394.4 445.5,385.2 456.2,375.5 465.6,365.5 473.9,355.2 480.9,344.6 486.5,333.9 490.8,323.2 493.6,312.4 495.1,301.7 495.2,291.0 493.8,280.6 491.0,270.5 486.8,260.7 481.3,251.2 474.4,242.3 466.2,233.8 456.8,225.9 446.3,218.6 434.6,212.0 421.9,206.1 408.2,200.9 393.7,196.5 378.4,192.9 362.5,190.2 346.0,188.3 329.1,187.3 311.8,187.1 294.2,187.8 276.6,189.3 258.9,191.7 241.4,195.0 224.1,199.1 207.1,203.9 190.6,209.5 174.6,215.9 159.3,222.9 144.7,230.6 131.0,238.8 131.0,238.8 100.5,258.4 70.0,278.0 39.6,297.6 9.1,317.2 -21.4,336.8 -51.9,356.4 -82.4,376.0 -112.9,395.6 -143.3,415.2 -173.8,418.1 -204.3,409.9 -234.8,394.4 -265.3,371.1 -295.7,339.1 -326.2,303.6 -356.7,298.3 -387.2,291.8 -417.7,283.9 -448.2,274.8 -478.6,264.4 -509.1,252.7 -539.6,239.7 -570.1,225.5 -600.6,209.9 -631.0,193.1 -661.5,175.0 -692.0,155.6 -722.5,134.9 -753.0,113.0 M-452.3,637.2 -421.8,646.5 -391.3,654.5 -360.9,661.3 -330.4,666.7 -299.9,670.9 -269.4,673.8 -238.9,675.4 -208.4,675.7 -178.0,674.8 -147.5,672.6 -117.0,669.0 -86.5,664.2 -56.0,658.2 -25.6,650.8 4.9,642.1 35.4,632.2 65.9,621.0 96.4,608.5 126.9,594.7 157.3,579.7 187.8,563.3 218.3,545.7 248.8,526.8 279.3,507.2 309.8,487.6 340.2,468.0 370.7,448.4 401.2,428.8 431.7,409.3 431.7,409.3 445.4,399.8 458.0,389.9 469.4,379.5 479.6,368.7 488.5,357.7 495.9,346.4 502.0,334.9 506.6,323.3 509.7,311.7 511.3,300.2 511.3,288.8 509.8,277.7 506.8,266.8 502.3,256.2 496.4,246.1 489.0,236.5 480.2,227.4 470.1,218.9 458.8,211.1 446.3,204.0 432.6,197.6 418.0,192.1 402.4,187.4 386.0,183.5 368.9,180.6 351.2,178.5 333.0,177.4 314.4,177.2 295.6,178.0 276.6,179.6 257.7,182.2 238.8,185.7 220.3,190.1 202.0,195.3 184.3,201.3 167.1,208.1 150.7,215.7 135.0,223.9 120.3,232.7 120.3,232.7 89.8,252.3 59.4,271.9 28.9,291.5 -1.6,311.1 -32.1,330.7 -62.6,350.3 -93.1,369.9 -123.5,389.5 -154.0,409.1 -184.5,418.4 -215.0,409.9 -245.5,394.1 -275.9,370.4 -306.4,338.0 -336.9,296.2 -367.4,283.3 -397.9,276.3 -428.4,268.0 -458.8,258.4 -489.3,247.5 -519.8,235.4 -550.3,221.9 -580.8,207.2 -611.2,191.2 -641.7,174.0 -672.2,155.4 -702.7,135.6 -733.2,114.4 -763.7,92.0 M-441.6,653.5 -411.1,662.4 -380.7,670.0 -350.2,676.3 -319.7,681.3 -289.2,685.0 -258.7,687.4 -228.2,688.6 -197.8,688.5 -167.3,687.1 -136.8,684.4 -106.3,680.4 -75.8,675.2 -45.4,668.6 -14.9,660.8 15.6,651.7 46.1,641.4 76.6,629.7 107.1,616.8 137.5,602.5 168.0,587.0 198.5,570.2 229.0,552.2 259.5,532.9 290.0,513.3 320.4,493.7 350.9,474.1 381.4,454.5 411.9,434.9 442.4,415.3 442.4,415.3 457.0,405.2 470.5,394.6 482.7,383.5 493.6,372.0 503.0,360.2 511.0,348.1 517.5,335.8 522.4,323.5 525.7,311.1 527.4,298.8 527.5,286.6 525.9,274.7 522.7,263.0 517.9,251.8 511.5,241.0 503.6,230.7 494.3,221.0 483.5,211.9 471.3,203.5 457.9,195.9 443.4,189.2 427.7,183.2 411.1,178.2 393.5,174.1 375.2,170.9 356.3,168.7 336.9,167.5 317.0,167.3 296.9,168.1 276.7,169.9 256.4,172.7 236.3,176.4 216.4,181.1 197.0,186.7 178.0,193.1 159.7,200.4 142.1,208.4 125.4,217.2 109.6,226.7 109.6,226.7 79.2,246.3 48.7,265.9 18.2,285.5 -12.3,305.1 -42.8,324.7 -73.3,344.3 -103.7,363.9 -134.2,383.5 -164.7,403.1 -195.2,419.4 -225.7,410.7 -256.1,394.6 -286.6,370.5 -317.1,337.6 -347.6,295.2 -378.1,268.0 -408.6,260.6 -439.0,251.8 -469.5,241.8 -500.0,230.5 -530.5,217.9 -561.0,204.0 -591.4,188.8 -621.9,172.4 -652.4,154.7 -682.9,135.7 -713.4,115.4 -743.9,93.8 -774.3,71.0 M-430.9,669.7 -400.5,678.1 -370.0,685.2 -339.5,691.1 -309.0,695.6 -278.5,698.9 -248.0,700.9 -217.6,701.6 -187.1,701.1 -156.6,699.2 -126.1,696.1 -95.6,691.7 -65.2,686.0 -34.7,679.0 -4.2,670.7 26.3,661.2 56.8,650.3 87.3,638.2 117.7,624.8 148.2,610.2 178.7,594.2 209.2,577.0 239.7,558.5 270.2,538.9 300.6,519.3 331.1,499.7 361.6,480.2 392.1,460.6 422.6,441.0 453.0,421.4 453.0,421.4 468.6,410.6 483.0,399.3 496.0,387.5 507.6,375.3 517.6,362.7 526.1,349.8 533.0,336.8 538.2,323.6 541.8,310.5 543.5,297.4 543.6,284.4 541.9,271.7 538.5,259.3 533.4,247.3 526.6,235.8 518.2,224.9 508.3,214.5 496.8,204.9 483.9,196.0 469.6,187.9 454.1,180.7 437.4,174.4 419.7,169.0 401.1,164.6 381.6,161.3 361.5,159.0 340.8,157.7 319.7,157.5 298.3,158.3 276.7,160.2 255.2,163.2 233.7,167.1 212.6,172.1 191.9,178.0 171.7,184.9 152.2,192.6 133.5,201.2 115.7,210.6 99.0,220.6 99.0,220.6 68.5,240.2 38.0,259.8 7.5,279.4 -23.0,299.0 -53.5,318.6 -83.9,338.2 -114.4,357.8 -144.9,377.4 -175.4,397.0 -205.9,416.6 -236.3,412.2 -266.8,395.8 -297.3,371.3 -327.8,338.0 -358.3,295.1 -388.8,252.6 -419.2,244.7 -449.7,235.5 -480.2,225.0 -510.7,213.3 -541.2,200.2 -571.6,185.9 -602.1,170.3 -632.6,153.4 -663.1,135.2 -693.6,115.8 -724.1,95.1 -754.5,73.0 -785.0,49.7 M-420.3,685.7 -389.8,693.7 -359.3,700.4 -328.8,705.7 -298.3,709.9 -267.8,712.7 -237.4,714.2 -206.9,714.5 -176.4,713.5 -145.9,711.2 -115.4,707.6 -84.9,702.7 -54.5,696.6 -24.0,689.2 6.5,680.4 37.0,670.4 67.5,659.2 97.9,646.6 128.4,632.8 158.9,617.7 189.4,601.2 219.9,583.6 250.4,564.6 280.8,545.0 311.3,525.4 341.8,505.8 372.3,486.2 402.8,466.6 433.2,447.0 463.7,427.4 463.7,427.4 480.3,416.1 495.5,404.1 509.3,391.6 521.5,378.6 532.2,365.2 541.2,351.6 548.5,337.7 554.1,323.8 557.8,309.8 559.7,295.9 559.7,282.2 558.0,268.7 554.4,255.6 548.9,242.9 541.8,230.7 532.9,219.1 522.3,208.1 510.1,197.9 496.4,188.4 481.3,179.9 464.9,172.2 447.2,165.5 428.4,159.8 408.6,155.2 388.0,151.6 366.6,149.2 344.7,147.8 322.3,147.6 299.6,148.5 276.8,150.5 253.9,153.6 231.2,157.9 208.8,163.1 186.8,169.4 165.4,176.7 144.7,184.9 124.9,194.0 106.0,203.9 88.3,214.6 88.3,214.6 57.8,234.2 27.3,253.8 -3.2,273.4 -33.7,293.0 -64.1,312.6 -94.6,332.2 -125.1,351.7 -155.6,371.3 -186.1,390.9 -216.5,410.5 -247.0,414.4 -277.5,397.8 -308.0,373.0 -338.5,339.2 -369.0,295.8 -399.4,242.1 -429.9,228.7 -460.4,219.1 -490.9,208.1 -521.4,195.9 -551.8,182.4 -582.3,167.7 -612.8,151.6 -643.3,134.3 -673.8,115.6 -704.3,95.7 -734.7,74.6 -765.2,52.1 -795.7,28.3 M-409.6,701.6 -379.1,709.1 -348.6,715.3 -318.1,720.3 -287.6,723.9 -257.2,726.3 -226.7,727.4 -196.2,727.2 -165.7,725.7 -135.2,723.0 -104.7,719.0 -74.3,713.6 -43.8,707.0 -13.3,699.2 17.2,690.0 47.7,679.6 78.1,667.8 108.6,654.8 139.1,640.5 169.6,625.0 200.1,608.1 230.6,590.0 261.0,570.6 291.5,551.1 322.0,531.5 352.5,511.9 383.0,492.3 413.4,472.7 443.9,453.1 474.4,433.5 474.4,433.5 491.9,421.5 508.0,408.8 522.5,395.6 535.5,381.9 546.8,367.7 556.3,353.3 564.0,338.7 569.9,324.0 573.8,309.2 575.8,294.5 575.9,280.0 574.0,265.8 570.2,251.9 564.5,238.4 556.9,225.5 547.5,213.3 536.3,201.7 523.4,190.9 509.0,180.9 493.0,171.8 475.6,163.8 456.9,156.7 437.1,150.7 416.2,145.8 394.4,142.0 371.8,139.4 348.6,138.0 324.9,137.7 300.9,138.7 276.8,140.8 252.6,144.1 228.6,148.6 205.0,154.1 181.7,160.8 159.1,168.5 137.2,177.2 116.3,186.8 96.4,197.2 77.6,208.5 77.6,208.5 47.1,228.1 16.6,247.7 -13.9,267.3 -44.3,286.9 -74.8,306.5 -105.3,326.1 -135.8,345.7 -166.3,365.3 -196.7,384.9 -227.2,404.5 -257.7,417.5 -288.2,400.7 -318.7,375.5 -349.2,341.3 -379.6,297.4 -410.1,243.1 -440.6,212.6 -471.1,202.5 -501.6,191.1 -532.0,178.4 -562.5,164.5 -593.0,149.3 -623.5,132.8 -654.0,115.0 -684.5,95.9 -714.9,75.5 -745.4,53.9 -775.9,31.0 -806.4,6.8 M-398.9,717.3 -368.4,724.3 -337.9,730.1 -307.4,734.6 -277.0,737.8 -246.5,739.7 -216.0,740.4 -185.5,739.8 -155.0,737.8 -124.5,734.6 -94.1,730.2 -63.6,724.4 -33.1,717.4 -2.6,709.0 27.9,699.4 58.3,688.5 88.8,676.4 119.3,662.9 149.8,648.2 180.3,632.1 210.8,614.8 241.2,596.2 271.7,576.7 302.2,557.1 332.7,537.5 363.2,517.9 393.6,498.3 424.1,478.7 454.6,459.1 485.1,439.5 485.1,439.5 503.5,426.9 520.4,413.5 535.8,399.6 549.5,385.1 561.4,370.3 571.4,355.1 579.5,339.7 585.7,324.1 589.9,308.6 592.0,293.1 592.0,277.8 590.1,262.8 586.0,248.2 580.0,234.0 572.0,220.4 562.1,207.5 550.3,195.3 536.8,183.9 521.5,173.4 504.7,163.8 486.4,155.3 466.7,147.8 445.7,141.5 423.7,136.3 400.7,132.4 376.9,129.6 352.5,128.1 327.6,127.9 302.3,128.9 276.8,131.1 251.4,134.6 226.1,139.3 201.1,145.2 176.6,152.2 152.8,160.3 129.8,169.4 107.7,179.5 86.7,190.6 66.9,202.5 66.9,202.5 36.4,222.1 5.9,241.7 -24.5,261.3 -55.0,280.8 -85.5,300.4 -116.0,320.0 -146.5,339.6 -176.9,359.2 -207.4,378.8 -237.9,398.4 -268.4,418.0 -298.9,404.3 -329.4,378.9 -359.8,344.3 -390.3,299.9 -420.8,245.0 -451.3,196.2 -481.8,185.7 -512.2,173.9 -542.7,160.8 -573.2,146.4 -603.7,130.7 -634.2,113.7 -664.7,95.5 -695.1,76.0 -725.6,55.2 -756.1,33.1 -786.6,9.7 -817.1,-14.9 M-388.2,732.8 -357.7,739.4 -327.2,744.8 -296.8,748.8 -266.3,751.6 -235.8,753.0 -205.3,753.2 -174.8,752.2 -144.3,749.8 -113.9,746.1 -83.4,741.2 -52.9,735.0 -22.4,727.5 8.1,718.7 38.5,708.7 69.0,697.3 99.5,684.7 130.0,670.8 160.5,655.6 191.0,639.1 221.4,621.4 251.9,602.4 282.4,582.8 312.9,563.2 343.4,543.6 373.8,524.0 404.3,504.4 434.8,484.8 465.3,465.2 495.8,445.6 495.8,445.6 515.1,432.3 532.9,418.3 549.1,403.6 563.4,388.4 575.9,372.8 586.5,356.8 595.1,340.6 601.5,324.3 605.9,307.9 608.1,291.7 608.2,275.6 606.1,259.8 601.9,244.4 595.5,229.6 587.1,215.3 576.7,201.7 564.3,188.8 550.1,176.9 534.1,165.8 516.4,155.8 497.1,146.8 476.4,139.0 454.4,132.3 431.3,126.9 407.1,122.7 382.1,119.9 356.4,118.3 330.2,118.0 303.6,119.1 276.9,121.4 250.1,125.1 223.5,130.0 197.3,136.2 171.6,143.5 146.5,152.1 122.3,161.7 99.1,172.3 77.0,183.9 56.2,196.4 56.2,196.4 25.7,216.0 -4.7,235.6 -35.2,255.2 -65.7,274.8 -96.2,294.4 -126.7,314.0 -157.1,333.6 -187.6,353.2 -218.1,372.8 -248.6,392.4 -279.1,412.0 -309.6,408.9 -340.0,383.1 -370.5,348.2 -401.0,303.3 -431.5,247.9 -462.0,181.3 -492.5,168.8 -522.9,156.5 -553.4,142.9 -583.9,128.1 -614.4,112.0 -644.9,94.6 -675.3,75.9 -705.8,55.9 -736.3,34.7 -766.8,12.1 -797.3,-11.7 -827.8,-36.8 M-377.5,748.2 -347.0,754.4 -316.6,759.2 -286.1,762.8 -255.6,765.2 -225.1,766.2 -194.6,765.9 -164.1,764.4 -133.7,761.6 -103.2,757.5 -72.7,752.1 -42.2,745.4 -11.7,737.5 18.7,728.3 49.2,717.8 79.7,706.0 110.2,692.9 140.7,678.5 171.2,662.9 201.6,646.0 232.1,627.8 262.6,608.4 293.1,588.8 323.6,569.2 354.0,549.6 384.5,530.0 415.0,510.4 445.5,490.8 476.0,471.2 506.5,451.6 506.5,451.6 526.8,437.7 545.4,423.0 562.3,407.6 577.4,391.7 590.5,375.3 601.6,358.5 610.6,341.6 617.3,324.4 621.9,307.3 624.3,290.2 624.3,273.4 622.2,256.8 617.7,240.7 611.1,225.1 602.3,210.1 591.3,195.9 578.3,182.4 563.4,169.8 546.6,158.3 528.0,147.7 507.8,138.4 486.1,130.1 463.1,123.2 438.8,117.5 413.5,113.1 387.3,110.1 360.3,108.4 332.8,108.1 305.0,109.2 276.9,111.7 248.9,115.6 221.0,120.7 193.5,127.2 166.5,134.9 140.2,143.8 114.8,153.9 90.5,165.1 67.3,177.3 45.5,190.4 45.5,190.4 15.1,210.0 -15.4,229.5 -45.9,249.1 -76.4,268.7 -106.9,288.3 -137.3,307.9 -167.8,327.5 -198.3,347.1 -228.8,366.7 -259.3,386.3 -289.8,405.9 -320.2,414.3 -350.7,388.3 -381.2,353.0 -411.7,307.7 -442.2,251.8 -472.7,184.5 -503.1,151.7 -533.6,139.0 -564.1,125.0 -594.6,109.7 -625.1,93.1 -655.5,75.2 -686.0,56.1 -716.5,35.7 -747.0,14.0 -777.5,-9.0 -808.0,-33.3 -838.4,-58.8 M-366.8,763.4 -336.4,769.1 -305.9,773.6 -275.4,776.7 -244.9,778.6 -214.4,779.2 -183.9,778.5 -153.5,776.5 -123.0,773.2 -92.5,768.7 -62.0,762.8 -31.5,755.7 -1.1,747.3 29.4,737.7 59.9,726.7 90.4,714.5 120.9,700.9 151.4,686.1 181.8,670.0 212.3,652.7 242.8,634.0 273.3,614.5 303.8,594.9 334.2,575.3 364.7,555.7 395.2,536.1 425.7,516.5 456.2,496.9 486.7,477.3 517.1,457.7 517.1,457.7 538.4,443.1 557.9,427.7 575.6,411.6 591.4,395.0 605.1,377.8 616.7,360.3 626.1,342.5 633.2,324.6 638.0,306.7 640.4,288.8 640.5,271.2 638.2,253.9 633.6,237.0 626.6,220.7 617.4,205.0 605.9,190.1 592.4,176.0 576.7,162.8 559.1,150.7 539.7,139.7 518.6,129.9 495.9,121.3 471.8,114.0 446.4,108.0 419.9,103.5 392.4,100.3 364.2,98.6 335.5,98.3 306.3,99.4 277.0,102.0 247.6,106.0 218.5,111.4 189.7,118.2 161.4,126.3 133.9,135.6 107.4,146.2 81.9,157.9 57.7,170.6 34.9,184.3 34.9,184.3 4.4,203.9 -26.1,223.5 -56.6,243.1 -87.1,262.7 -117.5,282.3 -148.0,301.9 -178.5,321.5 -209.0,341.1 -239.5,360.7 -270.0,380.3 -300.4,399.9 -330.9,419.4 -361.4,394.4 -391.9,358.8 -422.4,313.1 -452.9,256.7 -483.3,188.8 -513.8,134.5 -544.3,121.3 -574.8,106.8 -605.3,91.1 -635.7,74.1 -666.2,55.8 -696.7,36.2 -727.2,15.3 -757.7,-6.8 -788.2,-30.3 -818.6,-55.0 -849.1,-81.0 M-356.2,778.5 -325.7,783.8 -295.2,787.7 -264.7,790.4 -234.2,791.9 -203.7,792.0 -173.3,790.8 -142.8,788.4 -112.3,784.7 -81.8,779.7 -51.3,773.4 -20.9,765.9 9.6,757.0 40.1,746.9 70.6,735.5 101.1,722.8 131.6,708.8 162.0,693.6 192.5,677.0 223.0,659.2 253.5,640.1 284.0,620.5 314.4,600.9 344.9,581.3 375.4,561.7 405.9,542.1 436.4,522.5 466.9,502.9 497.3,483.4 527.8,463.8 527.8,463.8 550.0,448.5 570.4,432.4 588.9,415.6 605.4,398.2 619.7,380.3 631.8,362.0 641.6,343.5 649.0,324.8 654.0,306.0 656.5,287.4 656.6,269.0 654.2,250.9 649.4,233.3 642.1,216.2 632.5,199.8 620.6,184.3 606.4,169.6 590.0,155.8 571.7,143.2 551.4,131.7 529.3,121.4 505.6,112.4 480.4,104.8 453.9,98.6 426.2,93.8 397.6,90.5 368.1,88.7 338.1,88.4 307.7,89.6 277.0,92.3 246.4,96.5 215.9,102.2 185.8,109.2 156.3,117.7 127.6,127.4 99.9,138.4 73.3,150.6 48.0,163.9 24.2,178.2 24.2,178.2 -6.3,197.8 -36.8,217.4 -67.3,237.0 -97.8,256.6 -128.2,276.2 -158.7,295.8 -189.2,315.4 -219.7,335.0 -250.2,354.6 -280.6,374.2 -311.1,393.8 -341.6,413.4 -372.1,401.5 -402.6,365.5 -433.1,319.5 -463.5,262.6 -494.0,194.1 -524.5,117.1 -555.0,103.4 -585.5,88.5 -615.9,72.3 -646.4,54.9 -676.9,36.1 -707.4,16.1 -737.9,-5.2 -768.4,-27.8 -798.8,-51.7 -829.3,-76.9 -859.8,-103.3 M-345.5,793.4 -315.0,798.2 -284.5,801.8 -254.0,804.0 -223.5,805.0 -193.1,804.7 -162.6,803.1 -132.1,800.2 -101.6,796.0 -71.1,790.6 -40.7,783.8 -10.2,775.8 20.3,766.5 50.8,756.0 81.3,744.1 111.8,731.0 142.2,716.5 172.7,700.8 203.2,683.9 233.7,665.6 264.2,646.2 294.6,626.6 325.1,607.0 355.6,587.4 386.1,567.8 416.6,548.2 447.1,528.6 477.5,509.0 508.0,489.4 538.5,469.8 538.5,469.8 561.6,453.9 582.9,437.2 602.2,419.7 619.3,401.5 634.3,382.8 646.9,363.8 657.1,344.4 664.8,324.9 670.0,305.4 672.7,286.0 672.8,266.8 670.3,247.9 665.2,229.6 657.7,211.8 647.6,194.7 635.2,178.5 620.4,163.1 603.4,148.8 584.2,135.6 563.1,123.7 540.1,113.0 515.4,103.6 489.1,95.7 461.5,89.2 432.6,84.2 402.7,80.7 372.0,78.9 340.7,78.5 309.0,79.8 277.1,82.6 245.1,87.0 213.4,92.9 182.0,100.2 151.3,109.0 121.3,119.2 92.4,130.7 64.7,143.4 38.3,157.3 13.5,172.2 13.5,172.2 -17.0,191.8 -47.5,211.4 -78.0,231.0 -108.4,250.6 -138.9,270.2 -169.4,289.8 -199.9,309.4 -230.4,329.0 -260.8,348.5 -291.3,368.1 -321.8,387.7 -352.3,407.3 -382.8,409.5 -413.3,373.3 -443.7,326.9 -474.2,269.5 -504.7,200.5 -535.2,119.2 -565.7,85.4 -596.1,70.1 -626.6,53.4 -657.1,35.5 -687.6,16.3 -718.1,-4.2 -748.6,-25.9 -779.0,-49.0 -809.5,-73.3 -840.0,-98.9 -870.5,-125.8 M-334.8,808.2 -304.3,812.5 -273.8,815.6 -243.3,817.4 -212.9,817.9 -182.4,817.2 -151.9,815.1 -121.4,811.8 -90.9,807.2 -60.5,801.3 -30.0,794.1 0.5,785.6 31.0,775.9 61.5,764.9 92.0,752.6 122.4,739.0 152.9,724.1 183.4,708.0 213.9,690.5 244.4,671.8 274.8,652.2 305.3,632.6 335.8,613.0 366.3,593.4 396.8,573.8 427.3,554.3 457.7,534.7 488.2,515.1 518.7,495.5 549.2,475.9 549.2,475.9 573.2,459.3 595.4,441.9 615.4,423.7 633.3,404.8 648.8,385.4 662.0,365.5 672.6,345.4 680.6,325.1 686.1,304.8 688.8,284.5 688.9,264.6 686.3,245.0 681.1,225.8 673.2,207.3 662.8,189.6 649.8,172.7 634.4,156.7 616.7,141.8 596.8,128.1 574.8,115.6 550.8,104.5 525.1,94.7 497.8,86.5 469.0,79.7 439.0,74.6 407.9,71.0 376.0,69.0 343.4,68.7 310.3,70.0 277.1,72.9 243.8,77.5 210.8,83.6 178.2,91.3 146.2,100.4 115.0,111.0 84.9,122.9 56.1,136.2 28.6,150.6 2.8,166.1 2.8,166.1 -27.7,185.7 -58.2,205.3 -88.6,224.9 -119.1,244.5 -149.6,264.1 -180.1,283.7 -210.6,303.3 -241.0,322.9 -271.5,342.5 -302.0,362.1 -332.5,381.7 -363.0,401.3 -393.5,418.6 -423.9,382.2 -454.4,335.4 -484.9,277.5 -515.4,208.0 -545.9,126.1 -576.3,67.3 -606.8,51.5 -637.3,34.4 -667.8,16.0 -698.3,-3.6 -728.8,-24.6 -759.2,-46.8 -789.7,-70.3 -820.2,-95.1 -850.7,-121.1 -881.2,-148.5 M-324.1,822.8 -293.6,826.7 -263.1,829.3 -232.7,830.7 -202.2,830.7 -171.7,829.5 -141.2,827.0 -110.7,823.2 -80.3,818.2 -49.8,811.8 -19.3,804.2 11.2,795.3 41.7,785.1 72.2,773.6 102.6,760.9 133.1,746.8 163.6,731.5 194.1,714.9 224.6,697.0 255.1,677.9 285.5,658.3 316.0,638.7 346.5,619.1 377.0,599.5 407.5,579.9 437.9,560.3 468.4,540.7 498.9,521.1 529.4,501.5 559.9,481.9 559.9,481.9 584.9,464.7 607.9,446.6 628.7,427.7 647.3,408.1 663.4,387.9 677.1,367.2 688.1,346.3 696.5,325.2 702.1,304.1 705.0,283.1 705.1,262.4 702.4,242.0 696.9,222.1 688.7,202.9 677.9,184.4 664.4,166.9 648.4,150.3 630.0,134.8 609.3,120.6 586.5,107.6 561.6,96.0 534.9,85.9 506.5,77.3 476.6,70.3 445.4,64.9 413.1,61.2 379.9,59.1 346.0,58.8 311.7,60.2 277.1,63.2 242.6,67.9 208.3,74.3 174.4,82.3 141.1,91.8 108.8,102.8 77.5,115.2 47.5,128.9 19.0,143.9 -7.9,160.1 -7.9,160.1 -38.4,179.7 -68.8,199.3 -99.3,218.9 -129.8,238.5 -160.3,258.1 -190.8,277.6 -221.2,297.2 -251.7,316.8 -282.2,336.4 -312.7,356.0 -343.2,375.6 -373.7,395.2 -404.1,414.8 -434.6,392.0 -465.1,344.9 -495.6,286.7 -526.1,216.7 -556.5,134.1 -587.0,49.0 -617.5,32.7 -648.0,15.2 -678.5,-3.6 -709.0,-23.7 -739.4,-45.1 -769.9,-67.8 -800.4,-91.7 -830.9,-117.0 -861.4,-143.5 -891.8,-171.3 M-313.4,837.2 -282.9,840.7 -252.5,842.9 -222.0,843.8 -191.5,843.4 -161.0,841.7 -130.5,838.8 -100.1,834.5 -69.6,829.0 -39.1,822.2 -8.6,814.2 21.9,804.8 52.4,794.2 82.8,782.2 113.3,769.0 143.8,754.5 174.3,738.8 204.8,721.7 235.3,703.4 265.7,683.9 296.2,664.3 326.7,644.7 357.2,625.1 387.7,605.6 418.1,586.0 448.6,566.4 479.1,546.8 509.6,527.2 540.1,507.6 570.6,488.0 570.6,488.0 596.5,470.1 620.4,451.3 642.0,431.7 661.2,411.3 678.0,390.4 692.2,369.0 703.6,347.3 712.3,325.4 718.1,303.5 721.1,281.7 721.2,260.2 718.4,239.0 712.8,218.4 704.3,198.4 693.0,179.3 679.0,161.1 662.4,143.9 643.3,127.8 621.9,113.0 598.1,99.6 572.3,87.6 544.6,77.1 515.1,68.1 484.1,60.9 451.7,55.3 418.2,51.4 383.8,49.3 348.6,48.9 313.0,50.4 277.2,53.5 241.3,58.4 205.7,65.0 170.5,73.3 136.0,83.2 102.5,94.6 70.0,107.4 38.9,121.7 9.3,137.3 -18.6,154.0 -18.6,154.0 -49.0,173.6 -79.5,193.2 -110.0,212.8 -140.5,232.4 -171.0,252.0 -201.4,271.6 -231.9,291.2 -262.4,310.8 -292.9,330.4 -323.4,350.0 -353.9,369.6 -384.3,389.2 -414.8,408.8 -445.3,403.0 -475.8,355.6 -506.3,297.0 -536.7,226.4 -567.2,143.4 -597.7,47.0 -628.2,13.8 -658.7,-4.2 -689.2,-23.5 -719.6,-44.0 -750.1,-65.9 -780.6,-89.0 -811.1,-113.4 -841.6,-139.0 -872.0,-166.0 -902.5,-194.3 M-302.7,851.5 -272.3,854.5 -241.8,856.2 -211.3,856.7 -180.8,855.9 -150.3,853.7 -119.9,850.3 -89.4,845.7 -58.9,839.7 -28.4,832.5 2.1,823.9 32.6,814.1 63.0,803.0 93.5,790.7 124.0,777.0 154.5,762.1 185.0,745.9 215.5,728.4 245.9,709.6 276.4,690.0 306.9,670.4 337.4,650.8 367.9,631.2 398.3,611.6 428.8,592.0 459.3,572.4 489.8,552.8 520.3,533.2 550.8,513.6 581.2,494.0 581.2,494.0 608.1,475.6 632.8,456.1 655.3,435.7 675.2,414.6 692.6,392.9 707.2,370.7 719.1,348.2 728.1,325.6 734.2,302.9 737.3,280.3 737.4,257.9 734.5,236.0 728.6,214.7 719.8,194.0 708.1,174.1 693.6,155.3 676.4,137.4 656.7,120.8 634.4,105.5 609.8,91.5 583.1,79.1 554.3,68.2 523.8,59.0 491.6,51.4 458.1,45.6 423.4,41.6 387.7,39.4 351.3,39.1 314.4,40.5 277.2,43.8 240.1,48.9 203.2,55.7 166.7,64.3 131.0,74.5 96.2,86.4 62.5,99.7 30.3,114.5 -0.4,130.6 -29.2,148.0 -29.2,148.0 -59.7,167.6 -90.2,187.2 -120.7,206.8 -151.2,226.3 -181.6,245.9 -212.1,265.5 -242.6,285.1 -273.1,304.7 -303.6,324.3 -334.1,343.9 -364.5,363.5 -395.0,383.1 -425.5,402.7 -456.0,415.1 -486.5,367.4 -516.9,308.4 -547.4,237.4 -577.9,153.8 -608.4,56.8 -638.9,-5.3 -669.4,-23.7 -699.8,-43.4 -730.3,-64.4 -760.8,-86.7 -791.3,-110.3 -821.8,-135.1 -852.2,-161.3 -882.7,-188.7 -913.2,-217.4 M-292.1,865.6 -261.6,868.2 -231.1,869.5 -200.6,869.5 -170.1,868.2 -139.6,865.6 -109.2,861.8 -78.7,856.7 -48.2,850.2 -17.7,842.5 12.8,833.6 43.2,823.3 73.7,811.8 104.2,799.0 134.7,784.9 165.2,769.5 195.7,752.8 226.1,734.8 256.6,715.6 287.1,696.0 317.6,676.5 348.1,656.9 378.5,637.3 409.0,617.7 439.5,598.1 470.0,578.5 500.5,558.9 531.0,539.3 561.4,519.7 591.9,500.1 591.9,500.1 619.7,481.0 645.3,460.8 668.5,439.7 689.2,417.9 707.2,395.4 722.3,372.5 734.6,349.2 743.9,325.7 750.2,302.2 753.4,278.8 753.5,255.7 750.5,233.1 744.4,210.9 735.3,189.6 723.2,169.0 708.3,149.5 690.5,131.0 670.0,113.8 646.9,97.9 621.5,83.5 593.8,70.6 564.1,59.4 532.5,49.8 499.2,42.0 464.5,36.0 428.5,31.9 391.6,29.6 353.9,29.2 315.7,30.7 277.3,34.1 238.8,39.4 200.6,46.5 162.9,55.3 125.9,65.9 89.9,78.1 55.1,92.0 21.7,107.3 -10.0,123.9 -39.9,141.9 -39.9,141.9 -70.4,161.5 -100.9,181.1 -131.4,200.7 -161.8,220.3 -192.3,239.9 -222.8,259.5 -253.3,279.1 -283.8,298.7 -314.3,318.3 -344.7,337.9 -375.2,357.5 -405.7,377.1 -436.2,396.7 -466.7,416.2 -497.1,380.4 -527.6,321.0 -558.1,249.6 -588.6,165.4 -619.1,67.8 -649.6,-24.5 -680.0,-43.4 -710.5,-63.6 -741.0,-85.0 -771.5,-107.8 -802.0,-131.8 -832.5,-157.1 -862.9,-183.7 -893.4,-211.5 -923.9,-240.7 M-281.4,879.6 -250.9,881.7 -220.4,882.5 -189.9,882.1 -159.4,880.4 -129.0,877.3 -98.5,873.1 -68.0,867.5 -37.5,860.6 -7.0,852.5 23.4,843.0 53.9,832.3 84.4,820.4 114.9,807.1 145.4,792.5 175.9,776.7 206.3,759.6 236.8,741.2 267.3,721.7 297.8,702.1 328.3,682.5 358.7,662.9 389.2,643.3 419.7,623.7 450.2,604.1 480.7,584.5 511.2,564.9 541.6,545.3 572.1,525.7 602.6,506.1 602.6,506.1 631.4,486.4 657.8,465.5 681.8,443.7 703.2,421.2 721.7,397.9 737.4,374.2 750.1,350.1 759.8,325.9 766.2,301.6 769.6,277.4 769.7,253.5 766.6,230.1 760.3,207.2 750.9,185.1 738.4,163.9 722.9,143.7 704.5,124.6 683.3,106.8 659.5,90.4 633.2,75.5 604.6,62.2 573.8,50.5 541.1,40.6 506.7,32.6 470.8,26.4 433.7,22.1 395.5,19.7 356.5,19.3 317.1,20.9 277.3,24.4 237.6,29.8 198.1,37.2 159.1,46.3 120.8,57.3 83.6,69.9 47.6,84.2 13.1,100.0 -19.7,117.3 -50.6,135.9 -50.6,135.9 -81.1,155.4 -111.6,175.0 -142.0,194.6 -172.5,214.2 -203.0,233.8 -233.5,253.4 -264.0,273.0 -294.5,292.6 -324.9,312.2 -355.4,331.8 -385.9,351.4 -416.4,371.0 -446.9,390.6 -477.3,410.2 -507.8,394.5 -538.3,334.9 -568.8,263.0 -599.3,178.3 -629.8,80.1 -660.2,-32.3 -690.7,-63.3 -721.2,-83.9 -751.7,-105.8 -782.2,-129.0 -812.7,-153.4 -843.1,-179.2 -873.6,-206.2 -904.1,-234.5 -934.6,-264.1 M-270.7,893.4 -240.2,895.1 -209.7,895.5 -179.2,894.6 -148.8,892.4 -118.3,888.9 -87.8,884.2 -57.3,878.1 -26.8,870.8 3.6,862.2 34.1,852.4 64.6,841.2 95.1,828.8 125.6,815.1 156.1,800.0 186.5,783.8 217.0,766.2 247.5,747.3 278.0,727.8 308.5,708.2 338.9,688.6 369.4,669.0 399.9,649.4 430.4,629.8 460.9,610.2 491.4,590.6 521.8,571.0 552.3,551.4 582.8,531.8 613.3,512.2 613.3,512.2 643.0,491.8 670.3,470.3 695.1,447.8 717.1,424.4 736.3,400.5 752.5,376.0 765.6,351.1 775.6,326.0 782.3,300.9 785.7,276.0 785.8,251.3 782.6,227.1 776.1,203.5 766.4,180.7 753.5,158.7 737.5,137.8 718.5,118.2 696.6,99.8 672.0,82.8 644.9,67.4 615.3,53.7 583.6,41.7 549.8,31.5 514.3,23.1 477.2,16.7 438.8,12.3 399.4,9.9 359.2,9.5 318.4,11.1 277.4,14.7 236.3,20.3 195.5,27.9 155.2,37.3 115.7,48.6 77.3,61.7 40.1,76.5 4.5,92.8 -29.4,110.6 -61.3,129.8 -61.3,129.8 -91.8,149.4 -122.2,169.0 -152.7,188.6 -183.2,208.2 -213.7,227.8 -244.2,247.4 -274.7,267.0 -305.1,286.6 -335.6,306.2 -366.1,325.8 -396.6,345.3 -427.1,364.9 -457.5,384.5 -488.0,404.1 -518.5,409.9 -549.0,349.9 -579.5,277.7 -610.0,192.5 -640.4,93.7 -670.9,-19.4 -701.4,-83.3 -731.9,-104.3 -762.4,-126.7 -792.9,-150.3 -823.3,-175.2 -853.8,-201.4 -884.3,-228.9 -914.8,-257.7 -945.3,-287.7 M-260.0,907.1 -229.5,908.3 -199.0,908.2 -168.6,906.9 -138.1,904.2 -107.6,900.3 -77.1,895.1 -46.6,888.6 -16.2,880.9 14.3,871.8 44.8,861.5 75.3,849.9 105.8,837.0 136.3,822.9 166.7,807.4 197.2,790.7 227.7,772.7 258.2,753.4 288.7,733.8 319.1,714.2 349.6,694.6 380.1,675.0 410.6,655.4 441.1,635.8 471.6,616.2 502.0,596.6 532.5,577.0 563.0,557.5 593.5,537.9 624.0,518.3 624.0,518.3 654.6,497.2 682.8,475.0 708.4,451.8 731.1,427.7 750.9,403.0 767.6,377.7 781.2,352.0 791.4,326.2 798.3,300.3 801.8,274.6 802.0,249.1 798.7,224.1 792.0,199.8 781.9,176.2 768.6,153.6 752.1,132.0 732.5,111.7 709.9,92.8 684.6,75.3 656.6,59.4 626.1,45.2 593.3,32.8 558.5,22.3 521.8,13.7 483.6,7.1 444.0,2.5 403.3,0.0 361.8,-0.4 319.7,1.3 277.4,5.0 235.0,10.8 193.0,18.6 151.4,28.4 110.7,40.0 71.0,53.5 32.6,68.7 -4.1,85.6 -39.1,104.0 -72.0,123.7 -72.0,123.7 -102.4,143.3 -132.9,162.9 -163.4,182.5 -193.9,202.1 -224.4,221.7 -254.9,241.3 -285.3,260.9 -315.8,280.5 -346.3,300.1 -376.8,319.7 -407.3,339.3 -437.8,358.9 -468.2,378.5 -498.7,398.1 -529.2,417.7 -559.7,366.3 -590.2,293.6 -620.6,208.0 -651.1,108.7 -681.6,-5.1 -712.1,-103.4 -742.6,-124.9 -773.1,-147.7 -803.5,-171.8 -834.0,-197.2 -864.5,-223.8 -895.0,-251.8 -925.5,-281.0 -955.9,-311.5 M-249.3,920.6 -218.8,921.3 -188.4,920.8 -157.9,919.0 -127.4,915.9 -96.9,911.6 -66.4,905.9 -36.0,899.0 -5.5,890.8 25.0,881.3 55.5,870.5 86.0,858.5 116.5,845.1 146.9,830.5 177.4,814.6 207.9,797.4 238.4,779.0 268.9,759.5 299.3,739.9 329.8,720.3 360.3,700.7 390.8,681.1 421.3,661.5 451.8,641.9 482.2,622.3 512.7,602.7 543.2,583.1 573.7,563.5 604.2,543.9 634.6,524.3 634.6,524.3 666.2,502.6 695.3,479.7 721.6,455.8 745.1,431.0 765.5,405.5 782.7,379.4 796.7,353.0 807.2,326.4 814.3,299.7 818.0,273.1 818.1,246.9 814.7,221.2 807.8,196.1 797.5,171.8 783.7,148.5 766.7,126.2 746.5,105.3 723.3,85.8 697.1,67.8 668.2,51.4 636.8,36.8 603.0,24.0 567.2,13.1 529.4,4.3 490.0,-2.5 449.2,-7.3 407.2,-9.8 364.4,-10.3 321.1,-8.5 277.4,-4.7 233.8,1.3 190.4,9.3 147.6,19.4 105.6,31.4 64.7,45.3 25.2,61.0 -12.7,78.3 -48.7,97.3 -82.6,117.7 -82.6,117.7 -113.1,137.3 -143.6,156.9 -174.1,176.5 -204.6,196.1 -235.1,215.7 -265.5,235.3 -296.0,254.9 -326.5,274.4 -357.0,294.0 -387.5,313.6 -418.0,333.2 -448.4,352.8 -478.9,372.4 -509.4,392.0 -539.9,411.6 -570.4,383.9 -600.8,310.9 -631.3,224.8 -661.8,124.9 -692.3,10.6 -722.8,-118.9 -753.3,-145.7 -783.7,-169.0 -814.2,-193.5 -844.7,-219.3 -875.2,-246.4 -905.7,-274.8 -936.1,-304.4 -966.6,-335.4 M-238.6,933.9 -208.2,934.2 -177.7,933.2 -147.2,931.0 -116.7,927.5 -86.2,922.7 -55.8,916.6 -25.3,909.2 5.2,900.5 35.7,890.6 66.2,879.4 96.7,866.9 127.1,853.1 157.6,838.0 188.1,821.7 218.6,804.0 249.1,785.1 279.5,765.5 310.0,745.9 340.5,726.3 371.0,706.7 401.5,687.1 432.0,667.5 462.4,647.9 492.9,628.3 523.4,608.8 553.9,589.2 584.4,569.6 614.8,550.0 645.3,530.4 645.3,530.4 677.9,508.0 707.8,484.4 734.9,459.8 759.1,434.3 780.1,408.0 797.8,381.2 812.2,354.0 823.0,326.5 830.4,299.0 834.1,271.7 834.2,244.7 830.7,218.2 823.6,192.3 813.0,167.3 798.9,143.3 781.3,120.4 760.5,98.9 736.6,78.8 709.7,60.2 679.9,43.3 647.6,28.3 612.8,15.1 575.8,3.9 536.9,-5.2 496.3,-12.2 454.3,-17.0 411.1,-19.7 367.1,-20.1 322.4,-18.4 277.5,-14.4 232.5,-8.2 187.9,0.0 143.8,10.4 100.5,22.8 58.4,37.1 17.7,53.2 -21.3,71.1 -58.4,90.6 -93.3,111.6 -93.3,111.6 -123.8,131.2 -154.3,150.8 -184.8,170.4 -215.3,190.0 -245.7,209.6 -276.2,229.2 -306.7,248.8 -337.2,268.4 -367.7,288.0 -398.2,307.6 -428.6,327.2 -459.1,346.8 -489.6,366.4 -520.1,386.0 -550.6,405.6 -581.0,402.8 -611.5,329.5 -642.0,243.0 -672.5,142.6 -703.0,27.6 -733.5,-102.6 -763.9,-166.6 -794.4,-190.3 -824.9,-215.3 -855.4,-241.6 -885.9,-269.1 -916.3,-297.9 -946.8,-328.0 -977.3,-359.4 M-228.0,947.1 -197.5,946.9 -167.0,945.5 -136.5,942.8 -106.0,938.9 -75.6,933.6 -45.1,927.0 -14.6,919.2 15.9,910.1 46.4,899.7 76.9,888.1 107.3,875.1 137.8,860.9 168.3,845.4 198.8,828.6 229.3,810.5 259.7,791.2 290.2,771.6 320.7,752.0 351.2,732.4 381.7,712.8 412.2,693.2 442.6,673.6 473.1,654.0 503.6,634.4 534.1,614.8 564.6,595.2 595.1,575.6 625.5,556.0 656.0,536.4 656.0,536.4 689.5,513.4 720.3,489.2 748.2,463.8 773.0,437.5 794.6,410.5 812.9,382.9 827.7,354.9 838.9,326.7 846.4,298.4 850.3,270.3 850.4,242.5 846.8,215.2 839.5,188.6 828.5,162.9 814.0,138.2 796.0,114.6 774.6,92.5 749.9,71.8 722.2,52.7 691.6,35.3 658.3,19.8 622.5,6.3 584.5,-5.2 544.5,-14.6 502.7,-21.8 459.5,-26.8 415.0,-29.5 369.7,-30.0 323.8,-28.2 277.5,-24.1 231.3,-17.8 185.3,-9.3 139.9,1.4 95.4,14.1 52.1,28.9 10.2,45.5 -29.9,63.9 -68.1,84.0 -104.0,105.6 -104.0,105.6 -134.5,125.2 -165.0,144.8 -195.5,164.4 -225.9,184.0 -256.4,203.5 -286.9,223.1 -317.4,242.7 -347.9,262.3 -378.4,281.9 -408.8,301.5 -439.3,321.1 -469.8,340.7 -500.3,360.3 -530.8,379.9 -561.2,399.5 -591.7,419.1 -622.2,349.5 -652.7,262.6 -683.2,161.7 -713.7,46.1 -744.1,-84.8 -774.6,-187.7 -805.1,-211.9 -835.6,-237.3 -866.1,-264.0 -896.5,-292.0 -927.0,-321.3 -957.5,-351.8 -988.0,-383.7 M-217.3,960.1 -186.8,959.5 -156.3,957.6 -125.8,954.5 -95.4,950.1 -64.9,944.4 -34.4,937.4 -3.9,929.1 26.6,919.5 57.1,908.7 87.5,896.6 118.0,883.2 148.5,868.5 179.0,852.5 209.5,835.3 239.9,816.8 270.4,797.2 300.9,777.6 331.4,758.0 361.9,738.4 392.4,718.8 422.8,699.2 453.3,679.7 483.8,660.1 514.3,640.5 544.8,620.9 575.3,601.3 605.7,581.7 636.2,562.1 666.7,542.5 666.7,542.5 701.1,518.8 732.8,493.9 761.5,467.8 787.0,440.8 809.2,413.0 828.0,384.7 843.2,355.9 854.7,326.8 862.5,297.8 866.4,268.9 866.5,240.3 862.8,212.2 855.3,184.9 844.1,158.4 829.1,133.0 810.6,108.8 788.6,86.0 763.2,64.7 734.8,45.1 703.3,27.3 669.1,11.4 632.3,-2.6 593.2,-14.4 552.0,-24.0 509.1,-31.5 464.6,-36.6 419.0,-39.4 372.3,-39.9 325.1,-38.0 277.6,-33.8 230.0,-27.3 182.8,-18.5 136.1,-7.6 90.4,5.5 45.8,20.7 2.8,37.7 -38.5,56.7 -77.8,77.3 -114.7,99.5 -114.7,99.5 -145.2,119.1 -175.7,138.7 -206.1,158.3 -236.6,177.9 -267.1,197.5 -297.6,217.1 -328.1,236.7 -358.6,256.3 -389.0,275.9 -419.5,295.5 -450.0,315.1 -480.5,334.7 -511.0,354.3 -541.4,373.9 -571.9,393.4 -602.4,413.0 -632.9,370.8 -663.4,283.5 -693.9,182.2 -724.3,66.1 -754.8,-65.5 -785.3,-209.0 -815.8,-233.6 -846.3,-259.4 -876.7,-286.6 -907.2,-315.0 -937.7,-344.8 -968.2,-375.8 -998.7,-408.1 M-206.6,973.0 -176.1,971.9 -145.6,969.6 -115.2,966.0 -84.7,961.1 -54.2,955.0 -23.7,947.5 6.8,938.8 37.3,928.8 67.7,917.5 98.2,905.0 128.7,891.1 159.2,876.0 189.7,859.6 220.2,841.9 250.6,822.9 281.1,803.3 311.6,783.7 342.1,764.1 372.6,744.5 403.0,724.9 433.5,705.3 464.0,685.7 494.5,666.1 525.0,646.5 555.5,626.9 585.9,607.3 616.4,587.7 646.9,568.1 677.4,548.5 677.4,548.5 712.7,524.2 745.2,498.6 774.7,471.9 801.0,444.1 823.8,415.6 843.1,386.4 858.7,356.8 870.5,327.0 878.5,297.1 882.6,267.4 882.7,238.1 878.9,209.3 871.2,181.2 859.6,154.0 844.2,127.9 825.2,103.0 802.6,79.6 776.6,57.7 747.3,37.6 715.0,19.3 679.8,2.9 642.0,-11.4 601.8,-23.6 559.6,-33.5 515.5,-41.1 469.8,-46.4 422.9,-49.2 375.0,-49.7 326.5,-47.8 277.6,-43.5 228.8,-36.8 180.2,-27.8 132.3,-16.6 85.3,-3.1 39.5,12.4 -4.7,30.0 -47.1,49.4 -87.4,70.6 -125.4,93.5 -125.4,93.5 -155.9,113.1 -186.3,132.7 -216.8,152.2 -247.3,171.8 -277.8,191.4 -308.3,211.0 -338.8,230.6 -369.2,250.2 -399.7,269.8 -430.2,289.4 -460.7,309.0 -491.2,328.6 -521.6,348.2 -552.1,367.8 -582.6,387.4 -613.1,407.0 -643.6,393.6 -674.1,306.0 -704.5,204.1 -735.0,87.5 -765.5,-44.7 -796.0,-193.0 -826.5,-255.4 -856.9,-281.7 -887.4,-309.3 -917.9,-338.2 -948.4,-368.4 -978.9,-399.9 -1009.4,-432.6 M-195.9,985.7 -165.4,984.2 -135.0,981.4 -104.5,977.4 -74.0,972.1 -43.5,965.4 -13.0,957.6 17.5,948.4 47.9,937.9 78.4,926.2 108.9,913.2 139.4,898.9 169.9,883.3 200.4,866.4 230.8,848.3 261.3,828.9 291.8,809.3 322.3,789.7 352.8,770.1 383.2,750.6 413.7,731.0 444.2,711.4 474.7,691.8 505.2,672.2 535.7,652.6 566.1,633.0 596.6,613.4 627.1,593.8 657.6,574.2 688.1,554.6 688.1,554.6 724.4,529.6 757.7,503.3 788.0,475.9 814.9,447.4 838.4,418.1 858.2,388.1 874.2,357.8 886.3,327.2 894.5,296.5 898.7,266.0 898.8,235.9 894.9,206.3 887.0,177.5 875.1,149.5 859.4,122.8 839.8,97.2 816.6,73.2 789.9,50.7 759.8,30.0 726.7,11.2 690.5,-5.6 651.8,-20.3 610.5,-32.7 567.1,-42.9 521.8,-50.7 474.9,-56.1 426.8,-59.1 377.6,-59.6 327.8,-57.6 277.7,-53.2 227.5,-46.3 177.7,-37.1 128.5,-25.5 80.2,-11.7 33.2,4.2 -12.2,22.3 -55.7,42.2 -97.1,64.0 -136.1,87.4 -136.1,87.4 -166.5,107.0 -197.0,126.6 -227.5,146.2 -258.0,165.8 -288.5,185.4 -319.0,205.0 -349.4,224.6 -379.9,244.2 -410.4,263.8 -440.9,283.4 -471.4,303.0 -501.8,322.6 -532.3,342.1 -562.8,361.7 -593.3,381.3 -623.8,400.9 -654.3,417.8 -684.7,329.8 -715.2,227.6 -745.7,110.4 -776.2,-22.3 -806.7,-171.4 -837.1,-277.4 -867.6,-304.2 -898.1,-332.2 -928.6,-361.6 -959.1,-392.2 -989.6,-424.1 -1020.0,-457.3 M-185.2,998.2 -154.8,996.3 -124.3,993.1 -93.8,988.6 -63.3,982.8 -32.8,975.8 -2.3,967.4 28.1,957.8 58.6,946.9 89.1,934.7 119.6,921.2 150.1,906.5 180.6,890.4 211.0,873.1 241.5,854.5 272.0,835.0 302.5,815.4 333.0,795.8 363.4,776.2 393.9,756.6 424.4,737.0 454.9,717.4 485.4,697.8 515.9,678.2 546.3,658.6 576.8,639.0 607.3,619.4 637.8,599.8 668.3,580.2 698.7,560.7 698.7,560.7 736.0,535.1 770.2,508.1 801.3,479.9 828.9,450.7 853.0,420.6 873.3,389.9 889.7,358.7 902.2,327.3 910.6,295.9 914.8,264.6 915.0,233.7 911.0,203.3 902.8,173.7 890.7,145.1 874.5,117.6 854.4,91.4 830.6,66.8 803.2,43.7 772.4,22.5 738.3,3.2 701.3,-14.0 661.5,-29.1 619.2,-41.9 574.7,-52.3 528.2,-60.4 480.1,-65.9 430.7,-69.0 380.3,-69.5 329.1,-67.4 277.7,-62.9 226.2,-55.9 175.1,-46.4 124.6,-34.5 75.1,-20.4 26.9,-4.0 -19.7,14.5 -64.3,35.0 -106.8,57.3 -146.7,81.3 -146.7,81.3 -177.2,100.9 -207.7,120.5 -238.2,140.1 -268.7,159.7 -299.2,179.3 -329.6,198.9 -360.1,218.5 -390.6,238.1 -421.1,257.7 -451.6,277.3 -482.0,296.9 -512.5,316.5 -543.0,336.1 -573.5,355.7 -604.0,375.3 -634.5,394.9 -664.9,414.5 -695.4,355.2 -725.9,252.6 -756.4,134.9 -786.9,1.5 -817.3,-148.2 -847.8,-299.6 -878.3,-326.8 -908.8,-355.3 -939.3,-385.1 -969.8,-416.2 -1000.2,-448.5 -1030.7,-482.2"/></g>
</g>
<path d="M-10.0,456.0 -6.4,454.2 -2.8,452.5 0.9,450.8 4.5,449.1 8.1,447.4 11.8,445.7 15.5,444.1 19.1,442.4 22.8,440.8 26.5,439.2 30.2,437.6 33.8,435.9 37.5,434.3 41.2,432.7 44.8,431.0 48.5,429.4 52.2,427.7 55.8,426.0 59.5,424.4 63.1,422.7 66.7,420.9 70.4,419.2 74.0,417.4 77.6,415.7 81.2,413.9 84.7,412.0 88.3,410.2 91.9,408.3 95.4,406.4 98.9,404.4 102.4,402.4 105.8,400.4 109.3,398.3 112.7,396.2 116.1,394.1 119.5,391.9 122.9,389.7 126.2,387.5 129.6,385.3 132.9,383.1 136.2,380.8 139.6,378.5 142.9,376.2 146.1,373.9 149.4,371.6 152.7,369.3 156.0,367.0 159.3,364.7 162.5,362.3 165.8,360.0 169.1,357.7 172.4,355.3 175.6,353.0 178.9,350.7 182.2,348.4 185.5,346.1 188.8,343.8 192.1,341.5 195.4,339.2 198.7,337.0 202.1,334.7 205.4,332.5 208.8,330.3 212.1,328.1 215.5,325.9 218.8,323.7 222.2,321.5 225.6,319.3 229.0,317.1 232.3,314.9 235.7,312.8 239.1,310.6 242.5,308.4 245.8,306.2 249.2,304.0 252.6,301.8 255.9,299.6 259.3,297.4 262.6,295.2 266.0,293.0 269.3,290.7 272.7,288.5 276.0,286.3 279.3,284.0 282.7,281.8 286.0,279.5 289.3,277.3 292.7,275.1 296.0,272.8 299.4,270.6 302.7,268.4 306.1,266.1 309.4,263.9 312.8,261.7 316.2,259.6 319.5,257.4 322.9,255.2 326.3,253.1 329.8,251.0 333.2,248.9 336.6,246.8 340.1,244.7 343.5,242.7 347.0,240.6 350.4,238.6 353.9,236.6 357.4,234.6 360.9,232.5 364.3,230.5 367.8,228.6 371.3,226.6 374.8,224.6 378.3,222.6 381.9,220.7 385.4,218.8 388.9,216.9 392.5,215.0 396.0,213.1 399.6,211.3 403.2,209.5 406.8,207.7 410.4,205.9 414.0,204.1 417.6,202.4 421.2,200.7 424.9,199.0 428.5,197.3 432.2,195.6 435.9,194.0 439.6,192.4 443.3,190.9 447.0,189.4 450.7,187.9 454.5,186.5 458.2,185.1 462.0,183.7 465.8,182.4 469.6,181.1 473.4,179.8 477.3,178.6 481.1,177.4 484.9,176.3 488.8,175.2 492.7,174.1 496.6,173.1 500.5,172.1 504.4,171.1 508.3,170.2 512.2,169.3 516.1,168.5 520.1,167.7 524.0,167.0 528.0,166.3 531.9,165.6 535.9,165.0 539.9,164.5 543.9,164.0 547.8,163.5 551.8,163.1 555.8,162.8 559.8,162.5 563.9,162.3 567.9,162.1 571.9,162.0 575.9,161.9 579.9,161.8 583.9,161.7 587.9,161.7 592.0,161.6 596.0,161.6 600.0,161.5" fill="none" stroke="#b4d6d6" stroke-width="1.3" opacity="0.45"/>
</g>

<path d="M-10.0,530.0 -6.3,528.3 -2.7,526.7 1.0,525.1 4.7,523.6 8.4,522.1 12.2,520.7 16.0,519.3 19.7,517.9 23.5,516.6 27.3,515.2 31.0,513.8 34.8,512.3 38.5,510.8 42.2,509.2 45.8,507.5 49.4,505.8 53.0,503.9 56.5,502.0 59.9,500.0 63.4,497.9 66.8,495.7 70.1,493.5 73.4,491.3 76.8,489.0 80.0,486.7 83.3,484.4 86.6,482.1 89.9,479.7 93.1,477.4 96.4,475.1 99.7,472.8 103.0,470.4 106.3,468.1 109.6,465.8 112.8,463.5 116.1,461.2 119.4,458.9 122.7,456.6 126.0,454.2 129.3,451.9 132.5,449.6 135.8,447.3 139.1,444.9 142.4,442.6 145.6,440.2 148.9,437.9 152.1,435.5 155.4,433.2 158.6,430.8 161.9,428.5 165.1,426.1 168.4,423.7 171.6,421.3 174.8,418.9 178.1,416.5 181.3,414.1 184.5,411.7 187.7,409.3 190.9,406.9 194.1,404.5 197.3,402.0 200.5,399.6 203.7,397.1 206.8,394.6 210.0,392.1 213.1,389.6 216.3,387.1 219.4,384.6 222.5,382.1 225.7,379.6 228.8,377.1 231.9,374.5 235.0,372.0 238.1,369.4 241.2,366.9 244.3,364.3 247.4,361.8 250.5,359.2 253.6,356.6 256.7,354.1 259.8,351.5 262.9,348.9 266.0,346.3 269.0,343.8 272.1,341.2 275.2,338.6 278.3,336.0 281.4,333.5 284.5,330.9 287.6,328.3 290.6,325.7 293.7,323.2 296.8,320.6 299.9,318.0 303.0,315.4 306.1,312.9 309.1,310.3 312.2,307.7 315.2,305.1 318.3,302.4 321.4,299.8 324.4,297.2 327.5,294.7 330.6,292.1 333.7,289.6 336.9,287.1 340.0,284.6 343.3,282.2 346.5,279.9 349.8,277.6 353.1,275.3 356.5,273.1 359.9,271.0 363.3,268.9 366.8,266.9 370.3,264.9 373.8,263.0 377.3,261.0 380.8,259.1 384.4,257.2 387.9,255.3 391.5,253.5 395.0,251.6 398.6,249.7 402.1,247.8 405.7,246.0 409.3,244.1 412.9,242.3 416.5,240.6 420.1,239.0 423.8,237.4 427.5,235.8 431.3,234.4 435.0,232.9 438.8,231.5 442.5,230.1 446.3,228.7 450.0,227.2 453.8,225.8 457.5,224.3 461.2,222.8 464.9,221.2 468.7,219.7 472.4,218.3 476.1,216.8 479.9,215.4 483.7,214.1 487.5,212.8 491.3,211.6 495.2,210.4 499.0,209.2 502.8,208.0 506.7,206.8 510.5,205.6 514.3,204.4 518.2,203.2 522.0,202.0 L522.0,202.0 526.0,201.7 530.1,201.5 534.1,201.2 538.1,200.9 542.1,200.6 546.2,200.3 550.2,200.1 554.2,199.8 558.2,199.6 562.3,199.4 566.3,199.2 570.3,199.1 574.4,199.0 578.4,199.0 582.4,199.0 586.5,199.0 590.5,199.1 594.5,199.3 598.6,199.5 602.6,199.7 606.6,200.0 610.6,200.4 614.6,200.7 618.6,201.2 622.6,201.7 626.6,202.2 630.6,202.8 634.6,203.5 638.6,204.2 642.5,205.0 646.5,205.8 650.4,206.8 654.3,207.7 658.2,208.8 662.1,209.9 665.9,211.1 669.8,212.3 673.6,213.6 677.4,214.9 681.2,216.3 684.9,217.8 688.7,219.3 692.4,220.9 696.0,222.5 699.7,224.3 703.3,226.1 706.8,228.0 710.4,229.9 713.8,231.9 717.3,234.0 720.7,236.1 724.1,238.3 727.5,240.5 730.9,242.7 734.2,245.0 737.5,247.3 740.8,249.6 744.1,252.0 747.3,254.4 750.6,256.8 753.7,259.3 756.9,261.8 760.0,264.4 763.1,267.0 766.1,269.6 769.1,272.3 772.0,275.1 774.9,277.9 777.7,280.8 780.5,283.7 783.2,286.7 785.9,289.7 788.4,292.8 791.0,296.0 793.4,299.1 795.8,302.4 798.2,305.6 800.6,308.9 803.0,312.1 805.3,315.4 807.7,318.7 810.0,322.0 L810,560 L800,546 L412.5,420.0 409.3,422.4 406.1,424.8 402.8,427.2 399.6,429.6 396.4,432.0 393.2,434.4 389.9,436.8 386.7,439.3 383.5,441.7 380.3,444.1 377.1,446.6 373.9,449.0 370.8,451.5 367.6,454.0 364.5,456.6 361.4,459.2 358.3,461.7 355.3,464.3 352.2,467.0 349.2,469.6 346.2,472.3 343.2,475.0 340.2,477.7 337.3,480.4 334.3,483.1 331.4,485.9 328.4,488.6 325.5,491.4 322.6,494.2 319.7,497.0 316.9,499.8 314.0,502.6 311.1,505.4 308.2,508.2 305.2,510.9 302.3,513.6 299.3,516.3 296.2,518.9 293.2,521.6 290.1,524.1 287.0,526.7 283.8,529.2 280.7,531.7 277.5,534.2 274.3,536.6 271.1,539.1 267.9,541.5 264.7,543.9 261.5,546.3 258.3,548.7 255.0,551.1 251.8,553.5 248.6,555.9 245.3,558.3 242.1,560.7 238.9,563.2 235.7,565.6 232.5,568.1 229.4,570.6 226.2,573.1 223.1,575.6 219.9,578.1 216.8,580.6 213.7,583.1 210.5,585.6 207.4,588.1 204.2,590.6 201.0,593.0 197.8,595.5 194.6,597.9 191.3,600.3 188.1,602.6 184.8,605.0 181.6,607.3 178.3,609.7 175.0,612.0 171.7,614.3 168.4,616.6 165.2,619.0 161.9,621.3 158.7,623.7 155.4,626.1 152.2,628.5 149.0,631.0 145.8,633.4 142.7,635.9 139.5,638.4 136.4,640.9 133.3,643.5 130.1,646.0 127.0,648.6 123.9,651.1 120.8,653.6 117.7,656.2 114.5,658.7 111.4,661.2 108.2,663.6 105.0,666.1 101.8,668.5 98.5,670.9 95.3,673.2 92.0,675.6 88.7,677.9 85.4,680.1 82.0,682.4 78.7,684.6 75.3,686.8 71.9,688.9 68.5,691.0 65.0,693.1 61.5,695.1 58.0,697.0 54.5,698.9 50.9,700.7 47.3,702.5 43.6,704.1 40.0,705.8 36.3,707.4 32.6,709.0 28.8,710.5 25.1,712.0 21.4,713.5 17.6,715.0 13.9,716.5 10.2,718.0 6.5,719.5 2.8,721.1 -0.9,722.8 -4.5,724.4 -8.2,726.1 -10.0,727.0 Z" fill="#101010"/>
<path d="M-10.0,530.0 -6.3,528.3 -2.7,526.7 1.0,525.1 4.7,523.6 8.4,522.1 12.2,520.7 16.0,519.3 19.7,517.9 23.5,516.6 27.3,515.2 31.0,513.8 34.8,512.3 38.5,510.8 42.2,509.2 45.8,507.5 49.4,505.8 53.0,503.9 56.5,502.0 59.9,500.0 63.4,497.9 66.8,495.7 70.1,493.5 73.4,491.3 76.8,489.0 80.0,486.7 83.3,484.4 86.6,482.1 89.9,479.7 93.1,477.4 96.4,475.1 99.7,472.8 103.0,470.4 106.3,468.1 109.6,465.8 112.8,463.5 116.1,461.2 119.4,458.9 122.7,456.6 126.0,454.2 129.3,451.9 132.5,449.6 135.8,447.3 139.1,444.9 142.4,442.6 145.6,440.2 148.9,437.9 152.1,435.5 155.4,433.2 158.6,430.8 161.9,428.5 165.1,426.1 168.4,423.7 171.6,421.3 174.8,418.9 178.1,416.5 181.3,414.1 184.5,411.7 187.7,409.3 190.9,406.9 194.1,404.5 197.3,402.0 200.5,399.6 203.7,397.1 206.8,394.6 210.0,392.1 213.1,389.6 216.3,387.1 219.4,384.6 222.5,382.1 225.7,379.6 228.8,377.1 231.9,374.5 235.0,372.0 238.1,369.4 241.2,366.9 244.3,364.3 247.4,361.8 250.5,359.2 253.6,356.6 256.7,354.1 259.8,351.5 262.9,348.9 266.0,346.3 269.0,343.8 272.1,341.2 275.2,338.6 278.3,336.0 281.4,333.5 284.5,330.9 287.6,328.3 290.6,325.7 293.7,323.2 296.8,320.6 299.9,318.0 303.0,315.4 306.1,312.9 309.1,310.3 312.2,307.7 315.2,305.1 318.3,302.4 321.4,299.8 324.4,297.2 327.5,294.7 330.6,292.1 333.7,289.6 336.9,287.1 340.0,284.6 343.3,282.2 346.5,279.9 349.8,277.6 353.1,275.3 356.5,273.1 359.9,271.0 363.3,268.9 366.8,266.9 370.3,264.9 373.8,263.0 377.3,261.0 380.8,259.1 384.4,257.2 387.9,255.3 391.5,253.5 395.0,251.6 398.6,249.7 402.1,247.8 405.7,246.0 409.3,244.1 412.9,242.3 416.5,240.6 420.1,239.0 423.8,237.4 427.5,235.8 431.3,234.4 435.0,232.9 438.8,231.5 442.5,230.1 446.3,228.7 450.0,227.2 453.8,225.8 457.5,224.3 461.2,222.8 464.9,221.2 468.7,219.7 472.4,218.3 476.1,216.8 479.9,215.4 483.7,214.1 487.5,212.8 491.3,211.6 495.2,210.4 499.0,209.2 502.8,208.0 506.7,206.8 510.5,205.6 514.3,204.4 518.2,203.2 522.0,202.0 L522.0,202.0 526.0,201.7 530.1,201.5 534.1,201.2 538.1,200.9 542.1,200.6 546.2,200.3 550.2,200.1 554.2,199.8 558.2,199.6 562.3,199.4 566.3,199.2 570.3,199.1 574.4,199.0 578.4,199.0 582.4,199.0 586.5,199.0 590.5,199.1 594.5,199.3 598.6,199.5 602.6,199.7 606.6,200.0 610.6,200.4 614.6,200.7 618.6,201.2 622.6,201.7 626.6,202.2 630.6,202.8 634.6,203.5 638.6,204.2 642.5,205.0 646.5,205.8 650.4,206.8 654.3,207.7 658.2,208.8 662.1,209.9 665.9,211.1 669.8,212.3 673.6,213.6 677.4,214.9 681.2,216.3 684.9,217.8 688.7,219.3 692.4,220.9 696.0,222.5 699.7,224.3 703.3,226.1 706.8,228.0 710.4,229.9 713.8,231.9 717.3,234.0 720.7,236.1 724.1,238.3 727.5,240.5 730.9,242.7 734.2,245.0 737.5,247.3 740.8,249.6 744.1,252.0 747.3,254.4 750.6,256.8 753.7,259.3 756.9,261.8 760.0,264.4 763.1,267.0 766.1,269.6 769.1,272.3 772.0,275.1 774.9,277.9 777.7,280.8 780.5,283.7 783.2,286.7 785.9,289.7 788.4,292.8 791.0,296.0 793.4,299.1 795.8,302.4 798.2,305.6 800.6,308.9 803.0,312.1 805.3,315.4 807.7,318.7 810.0,322.0 L810.0,342.0 807.3,339.0 804.6,336.1 801.8,333.2 799.1,330.2 796.3,327.3 793.6,324.4 790.8,321.6 788.0,318.7 785.1,315.8 782.3,313.0 779.4,310.2 776.6,307.4 773.7,304.6 770.7,301.9 767.8,299.2 764.8,296.5 761.8,293.9 758.7,291.3 755.7,288.7 752.5,286.2 749.4,283.7 746.2,281.3 743.0,278.9 739.8,276.5 736.5,274.2 733.2,271.9 729.9,269.7 726.5,267.5 723.1,265.4 719.7,263.3 716.2,261.3 712.7,259.4 709.2,257.6 705.6,255.8 701.9,254.1 698.3,252.5 694.6,251.0 690.9,249.5 687.1,248.1 683.3,246.7 679.6,245.3 675.8,244.1 672.0,242.9 668.1,241.7 664.3,240.6 660.4,239.5 656.5,238.5 652.6,237.5 648.7,236.6 644.8,235.7 640.9,234.9 637.0,234.1 633.0,233.4 629.1,232.7 625.1,232.0 621.2,231.4 617.2,230.9 613.2,230.4 609.2,230.0 605.3,229.6 601.3,229.3 597.3,229.0 593.3,228.7 589.3,228.5 585.3,228.3 581.2,228.2 577.2,228.0 573.2,227.9 569.2,227.9 565.2,227.9 561.2,227.9 557.2,228.0 553.2,228.2 549.2,228.5 545.2,228.9 541.3,229.3 537.3,229.9 533.4,230.6 529.4,231.4 525.5,232.2 521.6,233.1 517.8,234.1 513.9,235.1 510.0,236.2 506.2,237.3 502.3,238.4 498.4,239.5 494.6,240.6 490.7,241.7 486.9,242.9 483.0,244.0 479.2,245.1 475.4,246.3 471.5,247.5 467.7,248.7 463.9,249.9 460.0,251.1 456.2,252.3 452.4,253.5 448.6,254.7 444.8,256.0 441.0,257.3 437.2,258.6 433.4,260.0 429.7,261.4 426.0,262.9 422.4,264.6 418.8,266.3 415.2,268.1 411.7,270.0 408.2,272.0 404.8,274.1 401.4,276.2 398.1,278.4 394.8,280.7 391.4,282.9 388.1,285.2 384.8,287.5 381.6,289.8 378.3,292.1 375.0,294.4 371.8,296.8 368.5,299.1 365.2,301.4 362.0,303.8 358.7,306.1 355.5,308.5 352.3,310.9 349.0,313.2 345.8,315.6 342.6,318.0 339.3,320.4 336.1,322.8 332.9,325.2 329.7,327.6 326.5,330.0 323.3,332.4 320.1,334.8 316.9,337.2 313.7,339.6 310.5,342.0 307.3,344.5 304.1,346.9 300.9,349.4 297.8,351.8 294.6,354.3 291.4,356.7 288.3,359.2 285.2,361.7 282.0,364.2 278.9,366.7 275.8,369.3 272.7,371.8 269.6,374.3 266.5,376.9 263.4,379.4 260.3,382.0 257.2,384.5 254.1,387.1 251.0,389.6 247.9,392.2 244.8,394.7 241.7,397.3 238.6,399.8 235.5,402.4 232.4,404.9 229.3,407.5 226.2,410.0 223.1,412.6 220.0,415.1 216.9,417.6 213.7,420.1 210.6,422.6 207.5,425.1 204.3,427.6 201.2,430.0 198.0,432.5 194.8,435.0 191.6,437.4 188.5,439.9 185.3,442.3 182.1,444.8 178.9,447.2 175.7,449.6 172.5,452.1 169.3,454.5 166.2,456.9 163.0,459.3 159.7,461.7 156.5,464.1 153.3,466.5 150.1,468.9 146.9,471.3 143.7,473.7 140.5,476.1 137.2,478.5 134.0,480.8 130.7,483.2 127.5,485.6 124.2,487.9 121.0,490.2 117.7,492.6 114.5,494.9 111.2,497.2 107.9,499.5 104.6,501.8 101.3,504.0 98.0,506.3 94.6,508.6 91.3,510.8 88.0,513.0 84.6,515.2 81.3,517.4 77.9,519.5 74.5,521.7 71.1,523.8 67.6,525.9 64.2,527.9 60.7,529.9 57.2,531.8 53.7,533.7 50.1,535.6 46.6,537.4 43.0,539.1 39.3,540.8 35.7,542.5 32.0,544.1 28.3,545.7 24.6,547.2 20.9,548.8 17.2,550.3 13.5,551.9 9.8,553.5 6.2,555.1 2.6,556.8 -1.1,558.5 -4.6,560.3 -8.2,562.1 -10.0,563.0 Z" fill="#7e7e7e"/>
<g clip-path="url(#cSheet)"><g fill="none" filter="url(#blur2)">
<path d="M-7.5,535.5 -3.9,533.8 -0.3,532.2 3.3,530.6 6.9,529.2 10.6,527.7 14.3,526.3 18.0,525.0 21.8,523.6 25.6,522.2 29.4,520.8 33.2,519.4 37.0,517.9 40.8,516.3 44.6,514.7 48.4,512.9 52.1,511.1 55.8,509.2 59.4,507.2 63.0,505.1 66.5,503.0 70.0,500.8 73.4,498.5 76.8,496.2 80.2,493.9 83.5,491.6 86.8,489.3 90.1,487.0 93.4,484.6 96.6,482.3 99.9,480.0 103.2,477.7 106.4,475.3 109.7,473.0 113.0,470.7 116.3,468.4 119.6,466.1 122.9,463.8 126.2,461.5 129.5,459.1 132.7,456.8 136.0,454.5 139.3,452.1 142.6,449.8 145.8,447.5 149.1,445.1 152.4,442.8 155.7,440.4 158.9,438.0 162.2,435.7 165.4,433.3 168.7,430.9 171.9,428.5 175.2,426.2 178.4,423.8 181.6,421.4 184.9,418.9 188.1,416.5 191.3,414.1 194.5,411.7 197.8,409.2 201.0,406.8 204.2,404.3 207.3,401.8 210.5,399.3 213.7,396.8 216.9,394.3 220.0,391.8 223.2,389.3 226.3,386.8 229.4,384.2 232.6,381.7 235.7,379.2 238.8,376.6 241.9,374.1 245.0,371.5 248.1,368.9 251.3,366.4 254.3,363.8 257.4,361.2 260.5,358.7 263.6,356.1 266.7,353.5 269.8,350.9 272.9,348.4 276.0,345.8 279.1,343.2 282.1,340.6 285.2,338.1 288.3,335.5 291.4,332.9 294.5,330.4 297.6,327.8 300.7,325.2 303.8,322.6 306.8,320.0 309.9,317.4 313.0,314.8 316.1,312.2 319.1,309.6 322.2,307.0 325.2,304.4 328.3,301.8 331.3,299.3 334.4,296.7 337.5,294.2 340.6,291.8 343.7,289.4 346.8,287.0 350.0,284.7 353.2,282.5 356.4,280.3 359.7,278.2 363.0,276.1 366.4,274.1 369.8,272.1 373.2,270.1 376.7,268.2 380.2,266.3 383.7,264.4 387.2,262.5 390.8,260.6 394.3,258.8 397.8,256.9 401.4,255.0 404.9,253.1 408.5,251.3 412.0,249.5 415.5,247.7 419.0,246.1 422.6,244.4 426.1,242.9 429.8,241.4 433.4,240.0 437.1,238.5 440.9,237.1 444.6,235.7 448.4,234.3 452.2,232.8 456.0,231.3 459.8,229.8 463.5,228.3 467.2,226.8 470.9,225.3 474.6,223.8 478.2,222.4 481.9,221.1 485.6,219.8 489.4,218.5 493.1,217.3 496.9,216.1 500.8,214.9 504.6,213.8 508.5,212.6 512.3,211.4 516.1,210.2 520.0,208.9 523.8,207.7" stroke="#4a4a4a" stroke-width="12"/>
</g><path d="M-10.5,561.9 -7.0,560.1 -3.4,558.3 0.2,556.5 3.9,554.8 7.5,553.2 11.2,551.6 14.9,550.0 18.6,548.4 22.3,546.9 26.0,545.3 29.7,543.8 33.4,542.2 37.0,540.6 40.6,538.9 44.2,537.2 47.8,535.4 51.4,533.6 54.9,531.7 58.4,529.8 61.9,527.9 65.3,525.8 68.7,523.8 72.2,521.7 75.5,519.6 78.9,517.5 82.3,515.3 85.6,513.1 89.0,510.9 92.3,508.7 95.6,506.4 99.0,504.2 102.3,501.9 105.6,499.6 108.8,497.4 112.1,495.1 115.4,492.8 118.7,490.4 121.9,488.1 125.2,485.8 128.4,483.4 131.7,481.1 134.9,478.7 138.1,476.3 141.4,473.9 144.6,471.6 147.8,469.2 151.0,466.8 154.2,464.4 157.4,462.0 160.6,459.6 163.8,457.1 167.0,454.7 170.2,452.3 173.4,449.9 176.6,447.5 179.8,445.0 183.0,442.6 186.2,440.1 189.3,437.7 192.5,435.2 195.7,432.8 198.8,430.3 202.0,427.9 205.1,425.4 208.3,422.9 211.4,420.4 214.6,417.9 217.7,415.4 220.8,412.9 223.9,410.4 227.0,407.8 230.1,405.3 233.2,402.7 236.3,400.2 239.4,397.6 242.5,395.1 245.6,392.5 248.7,390.0 251.8,387.4 254.9,384.9 257.9,382.3 261.0,379.8 264.1,377.2 267.2,374.7 270.3,372.1 273.5,369.6 276.6,367.1 279.7,364.6 282.8,362.0 286.0,359.5 289.1,357.0 292.3,354.6 295.4,352.1 298.6,349.6 301.8,347.2 305.0,344.7 308.2,342.3 311.3,339.9 314.5,337.4 317.7,335.0 320.9,332.6 324.2,330.2 327.4,327.8 330.6,325.4 333.8,323.0 337.0,320.6 340.2,318.2 343.5,315.8 346.7,313.5 349.9,311.1 353.2,308.7 356.4,306.4 359.7,304.0 362.9,301.6 366.2,299.3 369.4,296.9 372.7,294.6 376.0,292.3 379.2,290.0 382.5,287.7 385.8,285.4 389.1,283.1 392.4,280.8 395.7,278.5 399.1,276.3 402.5,274.1 405.9,272.0 409.3,270.0 412.9,268.0 416.4,266.1 420.0,264.3 423.7,262.6 427.4,261.1 431.1,259.6 434.9,258.2 438.7,256.8 442.5,255.5 446.3,254.2 450.1,253.0 454.0,251.7 457.8,250.5 461.6,249.3 465.4,248.1 469.3,246.9 473.1,245.7 476.9,244.6 480.8,243.4 484.6,242.3 488.5,241.1 492.3,240.0 496.2,238.9 500.0,237.8 503.9,236.7 507.8,235.6 511.6,234.5 515.5,233.5 519.4,232.5 523.3,231.5 527.2,230.6 531.2,229.8 535.1,229.1 539.1,228.4 543.1,227.9 547.1,227.5 551.1,227.2 555.2,226.9 559.2,226.8 563.2,226.7 567.2,226.7 571.2,226.7 575.3,226.8 579.3,226.9 583.3,227.0 587.3,227.2 591.3,227.4 595.3,227.6 599.3,227.9 603.4,228.2 607.4,228.6 611.4,229.0 615.4,229.5 619.3,230.0 623.3,230.5 627.3,231.2 631.3,231.8 635.2,232.5 639.2,233.3 643.1,234.1 647.0,235.0 651.0,235.9 654.9,236.8 658.8,237.8 662.7,238.9 666.5,240.0 670.4,241.1 674.2,242.3 678.1,243.6 681.9,244.9 685.6,246.2 689.4,247.6 693.2,249.1 696.9,250.6 700.6,252.2 704.2,253.9 707.9,255.6 711.5,257.4 715.1,259.3 718.6,261.3 722.0,263.3 725.5,265.4 728.9,267.6 732.2,269.8 735.5,272.0 738.8,274.4 742.1,276.7 745.3,279.1 748.5,281.5 751.7,284.0 754.9,286.5 758.0,289.1 761.0,291.7 764.1,294.3 767.1,297.0 770.1,299.7 773.0,302.4 776.0,305.2 778.8,307.9 781.7,310.8 784.6,313.6 787.4,316.4 790.2,319.3 793.0,322.2 795.8,325.1 798.6,328.0 801.3,330.9 804.1,333.8 806.8,336.8 809.5,339.7 810.9,341.2" fill="none" stroke="#5a5a5a" stroke-width="1.4"/>
<path d="M-9.6,530.9 -5.9,529.3 -2.3,527.6 1.4,526.0 5.1,524.5 8.8,523.1 12.5,521.6 16.3,520.3 20.1,518.9 23.9,517.5 27.6,516.1 31.4,514.7 35.1,513.2 38.9,511.7 42.6,510.1 46.2,508.4 49.9,506.6 53.4,504.8 57.0,502.8 60.4,500.8 63.9,498.7 67.3,496.6 70.7,494.4 74.0,492.1 77.3,489.8 80.6,487.5 83.9,485.2 87.2,482.9 90.5,480.5 93.7,478.2 97.0,475.9 100.3,473.6 103.6,471.3 106.8,468.9 110.1,466.6 113.4,464.3 116.7,462.0 120.0,459.7 123.3,457.4 126.6,455.1 129.8,452.7 133.1,450.4 136.4,448.1 139.7,445.7 142.9,443.4 146.2,441.1 149.5,438.7 152.7,436.4 156.0,434.0 159.2,431.6 162.5,429.3 165.7,426.9 169.0,424.5 172.2,422.1 175.4,419.7 178.7,417.3 181.9,414.9 185.1,412.5 188.3,410.1 191.5,407.7 194.7,405.2 197.9,402.8 201.1,400.3 204.3,397.9 207.4,395.4 210.6,392.9 213.8,390.4 216.9,387.9 220.0,385.4 223.2,382.9 226.3,380.4 229.4,377.8 232.5,375.3 235.7,372.7 238.8,370.2 241.9,367.6 245.0,365.1 248.1,362.5 251.2,360.0 254.2,357.4 257.3,354.8 260.4,352.2 263.5,349.7 266.6,347.1 269.7,344.5 272.8,341.9 275.8,339.4 278.9,336.8 282.0,334.2 285.1,331.7 288.2,329.1 291.3,326.5 294.4,323.9 297.5,321.4 300.5,318.8 303.6,316.2 306.7,313.6 309.8,311.0 312.8,308.4 315.9,305.8 319.0,303.2 322.0,300.6 325.1,298.0 328.1,295.4 331.2,292.9 334.3,290.3 337.5,287.9 340.6,285.4 343.8,283.0 347.1,280.7 350.4,278.4 353.7,276.2 357.0,274.0 360.4,271.9 363.8,269.8 367.3,267.8 370.8,265.8 374.3,263.8 377.8,261.9 381.3,260.0 384.9,258.1 388.4,256.2 392.0,254.3 395.5,252.5 399.1,250.6 402.6,248.7 406.2,246.8 409.7,245.0 413.3,243.2 416.9,241.5 420.5,239.9 424.2,238.3 427.9,236.8 431.6,235.3 435.4,233.9 439.1,232.5 442.9,231.0 446.6,229.6 450.4,228.2 454.1,226.7 457.9,225.2 461.6,223.7 465.3,222.2 469.0,220.7 472.8,219.2 476.5,217.8 480.3,216.4 484.0,215.1 487.8,213.8 491.6,212.6 495.5,211.4 499.3,210.2 503.1,209.0 507.0,207.8 510.8,206.6 514.6,205.4 518.5,204.2 522.3,203.0" fill="none" stroke="#333" stroke-width="2"/>
</g>
<path d="M-10.0,530.0 -6.3,528.3 -2.7,526.7 1.0,525.1 4.7,523.6 8.4,522.1 12.2,520.7 16.0,519.3 19.7,517.9 23.5,516.6 27.3,515.2 31.0,513.8 34.8,512.3 38.5,510.8 42.2,509.2 45.8,507.5 49.4,505.8 53.0,503.9 56.5,502.0 59.9,500.0 63.4,497.9 66.8,495.7 70.1,493.5 73.4,491.3 76.8,489.0 80.0,486.7 83.3,484.4 86.6,482.1 89.9,479.7 93.1,477.4 96.4,475.1 99.7,472.8 103.0,470.4 106.3,468.1 109.6,465.8 112.8,463.5 116.1,461.2 119.4,458.9 122.7,456.6 126.0,454.2 129.3,451.9 132.5,449.6 135.8,447.3 139.1,444.9 142.4,442.6 145.6,440.2 148.9,437.9 152.1,435.5 155.4,433.2 158.6,430.8 161.9,428.5 165.1,426.1 168.4,423.7 171.6,421.3 174.8,418.9 178.1,416.5 181.3,414.1 184.5,411.7 187.7,409.3 190.9,406.9 194.1,404.5 197.3,402.0 200.5,399.6 203.7,397.1 206.8,394.6 210.0,392.1 213.1,389.6 216.3,387.1 219.4,384.6 222.5,382.1 225.7,379.6 228.8,377.1 231.9,374.5 235.0,372.0 238.1,369.4 241.2,366.9 244.3,364.3 247.4,361.8 250.5,359.2 253.6,356.6 256.7,354.1 259.8,351.5 262.9,348.9 266.0,346.3 269.0,343.8 272.1,341.2 275.2,338.6 278.3,336.0 281.4,333.5 284.5,330.9 287.6,328.3 290.6,325.7 293.7,323.2 296.8,320.6 299.9,318.0 303.0,315.4 306.1,312.9 309.1,310.3 312.2,307.7 315.2,305.1 318.3,302.4 321.4,299.8 324.4,297.2 327.5,294.7 330.6,292.1 333.7,289.6 336.9,287.1 340.0,284.6 343.3,282.2 346.5,279.9 349.8,277.6 353.1,275.3 356.5,273.1 359.9,271.0 363.3,268.9 366.8,266.9 370.3,264.9 373.8,263.0 377.3,261.0 380.8,259.1 384.4,257.2 387.9,255.3 391.5,253.5 395.0,251.6 398.6,249.7 402.1,247.8 405.7,246.0 409.3,244.1 412.9,242.3 416.5,240.6 420.1,239.0 423.8,237.4 427.5,235.8 431.3,234.4 435.0,232.9 438.8,231.5 442.5,230.1 446.3,228.7 450.0,227.2 453.8,225.8 457.5,224.3 461.2,222.8 464.9,221.2 468.7,219.7 472.4,218.3 476.1,216.8 479.9,215.4 483.7,214.1 487.5,212.8 491.3,211.6 495.2,210.4 499.0,209.2 502.8,208.0 506.7,206.8 510.5,205.6 514.3,204.4 518.2,203.2 522.0,202.0 L522.0,202.0 526.0,201.7 530.1,201.5 534.1,201.2 538.1,200.9 542.1,200.6 546.2,200.3 550.2,200.1 554.2,199.8 558.2,199.6 562.3,199.4 566.3,199.2 570.3,199.1 574.4,199.0 578.4,199.0 582.4,199.0 586.5,199.0 590.5,199.1 594.5,199.3 598.6,199.5 602.6,199.7 606.6,200.0 610.6,200.4 614.6,200.7 618.6,201.2 622.6,201.7 626.6,202.2 630.6,202.8 634.6,203.5 638.6,204.2 642.5,205.0 646.5,205.8 650.4,206.8 654.3,207.7 658.2,208.8 662.1,209.9 665.9,211.1 669.8,212.3 673.6,213.6 677.4,214.9 681.2,216.3 684.9,217.8 688.7,219.3 692.4,220.9 696.0,222.5 699.7,224.3 703.3,226.1 706.8,228.0 710.4,229.9 713.8,231.9 717.3,234.0 720.7,236.1 724.1,238.3 727.5,240.5 730.9,242.7 734.2,245.0 737.5,247.3 740.8,249.6 744.1,252.0 747.3,254.4 750.6,256.8 753.7,259.3 756.9,261.8 760.0,264.4 763.1,267.0 766.1,269.6 769.1,272.3 772.0,275.1 774.9,277.9 777.7,280.8 780.5,283.7 783.2,286.7 785.9,289.7 788.4,292.8 791.0,296.0 793.4,299.1 795.8,302.4 798.2,305.6 800.6,308.9 803.0,312.1 805.3,315.4 807.7,318.7 810.0,322.0 L810.0,342.0 807.3,339.0 804.6,336.1 801.8,333.2 799.1,330.2 796.3,327.3 793.6,324.4 790.8,321.6 788.0,318.7 785.1,315.8 782.3,313.0 779.4,310.2 776.6,307.4 773.7,304.6 770.7,301.9 767.8,299.2 764.8,296.5 761.8,293.9 758.7,291.3 755.7,288.7 752.5,286.2 749.4,283.7 746.2,281.3 743.0,278.9 739.8,276.5 736.5,274.2 733.2,271.9 729.9,269.7 726.5,267.5 723.1,265.4 719.7,263.3 716.2,261.3 712.7,259.4 709.2,257.6 705.6,255.8 701.9,254.1 698.3,252.5 694.6,251.0 690.9,249.5 687.1,248.1 683.3,246.7 679.6,245.3 675.8,244.1 672.0,242.9 668.1,241.7 664.3,240.6 660.4,239.5 656.5,238.5 652.6,237.5 648.7,236.6 644.8,235.7 640.9,234.9 637.0,234.1 633.0,233.4 629.1,232.7 625.1,232.0 621.2,231.4 617.2,230.9 613.2,230.4 609.2,230.0 605.3,229.6 601.3,229.3 597.3,229.0 593.3,228.7 589.3,228.5 585.3,228.3 581.2,228.2 577.2,228.0 573.2,227.9 569.2,227.9 565.2,227.9 561.2,227.9 557.2,228.0 553.2,228.2 549.2,228.5 545.2,228.9 541.3,229.3 537.3,229.9 533.4,230.6 529.4,231.4 525.5,232.2 521.6,233.1 517.8,234.1 513.9,235.1 510.0,236.2 506.2,237.3 502.3,238.4 498.4,239.5 494.6,240.6 490.7,241.7 486.9,242.9 483.0,244.0 479.2,245.1 475.4,246.3 471.5,247.5 467.7,248.7 463.9,249.9 460.0,251.1 456.2,252.3 452.4,253.5 448.6,254.7 444.8,256.0 441.0,257.3 437.2,258.6 433.4,260.0 429.7,261.4 426.0,262.9 422.4,264.6 418.8,266.3 415.2,268.1 411.7,270.0 408.2,272.0 404.8,274.1 401.4,276.2 398.1,278.4 394.8,280.7 391.4,282.9 388.1,285.2 384.8,287.5 381.6,289.8 378.3,292.1 375.0,294.4 371.8,296.8 368.5,299.1 365.2,301.4 362.0,303.8 358.7,306.1 355.5,308.5 352.3,310.9 349.0,313.2 345.8,315.6 342.6,318.0 339.3,320.4 336.1,322.8 332.9,325.2 329.7,327.6 326.5,330.0 323.3,332.4 320.1,334.8 316.9,337.2 313.7,339.6 310.5,342.0 307.3,344.5 304.1,346.9 300.9,349.4 297.8,351.8 294.6,354.3 291.4,356.7 288.3,359.2 285.2,361.7 282.0,364.2 278.9,366.7 275.8,369.3 272.7,371.8 269.6,374.3 266.5,376.9 263.4,379.4 260.3,382.0 257.2,384.5 254.1,387.1 251.0,389.6 247.9,392.2 244.8,394.7 241.7,397.3 238.6,399.8 235.5,402.4 232.4,404.9 229.3,407.5 226.2,410.0 223.1,412.6 220.0,415.1 216.9,417.6 213.7,420.1 210.6,422.6 207.5,425.1 204.3,427.6 201.2,430.0 198.0,432.5 194.8,435.0 191.6,437.4 188.5,439.9 185.3,442.3 182.1,444.8 178.9,447.2 175.7,449.6 172.5,452.1 169.3,454.5 166.2,456.9 163.0,459.3 159.7,461.7 156.5,464.1 153.3,466.5 150.1,468.9 146.9,471.3 143.7,473.7 140.5,476.1 137.2,478.5 134.0,480.8 130.7,483.2 127.5,485.6 124.2,487.9 121.0,490.2 117.7,492.6 114.5,494.9 111.2,497.2 107.9,499.5 104.6,501.8 101.3,504.0 98.0,506.3 94.6,508.6 91.3,510.8 88.0,513.0 84.6,515.2 81.3,517.4 77.9,519.5 74.5,521.7 71.1,523.8 67.6,525.9 64.2,527.9 60.7,529.9 57.2,531.8 53.7,533.7 50.1,535.6 46.6,537.4 43.0,539.1 39.3,540.8 35.7,542.5 32.0,544.1 28.3,545.7 24.6,547.2 20.9,548.8 17.2,550.3 13.5,551.9 9.8,553.5 6.2,555.1 2.6,556.8 -1.1,558.5 -4.6,560.3 -8.2,562.1 -10.0,563.0 Z" fill="url(#gSheetR)"/>
<path d="M400.0,249.0 403.6,247.1 407.3,245.2 410.9,243.4 414.6,241.6 418.3,239.8 422.0,238.2 425.8,236.6 429.6,235.0 433.4,233.6 437.2,232.1 441.0,230.7 444.9,229.2 448.7,227.8 452.5,226.3 456.3,224.7 460.1,223.2 463.9,221.7 467.7,220.1 471.5,218.6 475.3,217.2 479.1,215.7 483.0,214.4 486.9,213.1 490.7,211.8 494.7,210.6 498.6,209.4 502.5,208.1 506.4,206.9 510.3,205.7 514.2,204.5 518.1,203.2 522.0,202.0 L522.0,202.0 526.0,201.7 530.1,201.5 534.1,201.2 538.1,200.9 542.1,200.6 546.2,200.3 550.2,200.1 554.2,199.8 558.2,199.6 562.3,199.4 566.3,199.2 570.3,199.1 574.4,199.0 578.4,199.0 582.4,199.0 586.5,199.0 590.5,199.1 594.5,199.3 598.6,199.5 602.6,199.7 606.6,200.0 610.6,200.4 614.6,200.7 618.6,201.2 622.6,201.7 626.6,202.2 630.6,202.8 634.6,203.5 638.6,204.2 642.5,205.0 646.5,205.8 650.4,206.8 654.3,207.7 658.2,208.8 662.1,209.9 665.9,211.1 669.8,212.3 673.6,213.6 677.4,214.9 681.2,216.3 684.9,217.8 688.7,219.3 692.4,220.9 696.0,222.5 699.7,224.3 703.3,226.1 706.8,228.0 710.4,229.9 713.8,231.9 717.3,234.0 720.7,236.1 724.1,238.3 727.5,240.5 730.9,242.7 734.2,245.0 737.5,247.3 740.8,249.6 744.1,252.0 747.3,254.4 750.6,256.8 753.7,259.3 756.9,261.8 760.0,264.4 763.1,267.0 766.1,269.6 769.1,272.3 772.0,275.1 774.9,277.9 777.7,280.8 780.5,283.7 783.2,286.7 785.9,289.7 788.4,292.8 791.0,296.0 793.4,299.1 795.8,302.4 798.2,305.6 800.6,308.9 803.0,312.1 805.3,315.4 807.7,318.7 810.0,322.0 L810.0,342.0 807.3,339.0 804.5,336.0 801.7,333.1 799.0,330.1 796.2,327.2 793.4,324.2 790.5,321.3 787.7,318.4 784.8,315.5 781.9,312.7 779.1,309.8 776.1,307.0 773.2,304.2 770.2,301.4 767.2,298.7 764.2,296.0 761.2,293.3 758.1,290.7 754.9,288.1 751.8,285.6 748.6,283.1 745.3,280.6 742.1,278.2 738.8,275.8 735.5,273.5 732.1,271.2 728.8,268.9 725.4,266.7 721.9,264.6 718.4,262.6 714.9,260.6 711.3,258.7 707.7,256.9 704.0,255.1 700.3,253.4 696.6,251.8 692.9,250.3 689.1,248.8 685.3,247.4 681.5,246.0 677.6,244.7 673.8,243.4 669.9,242.2 666.0,241.1 662.1,240.0 658.2,238.9 654.3,237.9 650.3,237.0 646.4,236.1 642.4,235.2 638.4,234.4 634.5,233.6 630.5,232.9 626.5,232.3 622.4,231.7 618.4,231.2 614.4,230.7 610.4,230.3 606.3,229.9 602.3,229.6 598.2,229.3 594.2,229.0 590.1,228.7 586.1,228.4 582.0,228.1 580.0,228.0 L580.0,228.0 576.0,227.8 571.9,227.6 567.9,227.4 563.8,227.3 559.8,227.1 555.8,227.0 551.7,226.8 547.7,226.8 543.6,226.7 539.6,226.7 535.5,226.7 531.5,226.7 527.5,226.8 523.4,226.9 519.4,227.0 515.3,227.2 511.3,227.3 507.3,227.5 503.2,227.7 499.2,227.9 495.1,228.1 491.1,228.3 487.1,228.6 483.0,228.8 479.0,229.1 475.0,229.4 470.9,229.7 466.9,230.1 462.9,230.6 458.9,231.1 454.9,231.7 450.9,232.4 447.0,233.1 443.1,234.0 439.2,235.0 435.3,236.1 431.4,237.3 427.6,238.6 423.8,240.0 420.1,241.5 416.4,243.1 412.7,244.8 409.0,246.5 405.4,248.3 401.8,250.1 400.0,251.0 Z" fill="#262626"/>
<path d="M400.0,249.0 403.6,247.1 407.3,245.2 410.9,243.4 414.6,241.6 418.3,239.8 422.0,238.2 425.8,236.6 429.6,235.0 433.4,233.6 437.2,232.1 441.0,230.7 444.9,229.2 448.7,227.8 452.5,226.3 456.3,224.7 460.1,223.2 463.9,221.7 467.7,220.1 471.5,218.6 475.3,217.2 479.1,215.7 483.0,214.4 486.9,213.1 490.7,211.8 494.7,210.6 498.6,209.4 502.5,208.1 506.4,206.9 510.3,205.7 514.2,204.5 518.1,203.2 522.0,202.0 L522.0,202.0 526.0,201.7 530.1,201.5 534.1,201.2 538.1,200.9 542.1,200.6 546.2,200.3 550.2,200.1 554.2,199.8 558.2,199.6 562.3,199.4 566.3,199.2 570.3,199.1 574.4,199.0 578.4,199.0 582.4,199.0 586.5,199.0 590.5,199.1 594.5,199.3 598.6,199.5 602.6,199.7 606.6,200.0 610.6,200.4 614.6,200.7 618.6,201.2 622.6,201.7 626.6,202.2 630.6,202.8 634.6,203.5 638.6,204.2 642.5,205.0 646.5,205.8 650.4,206.8 654.3,207.7 658.2,208.8 662.1,209.9 665.9,211.1 669.8,212.3 673.6,213.6 677.4,214.9 681.2,216.3 684.9,217.8 688.7,219.3 692.4,220.9 696.0,222.5 699.7,224.3 703.3,226.1 706.8,228.0 710.4,229.9 713.8,231.9 717.3,234.0 720.7,236.1 724.1,238.3 727.5,240.5 730.9,242.7 734.2,245.0 737.5,247.3 740.8,249.6 744.1,252.0 747.3,254.4 750.6,256.8 753.7,259.3 756.9,261.8 760.0,264.4 763.1,267.0 766.1,269.6 769.1,272.3 772.0,275.1 774.9,277.9 777.7,280.8 780.5,283.7 783.2,286.7 785.9,289.7 788.4,292.8 791.0,296.0 793.4,299.1 795.8,302.4 798.2,305.6 800.6,308.9 803.0,312.1 805.3,315.4 807.7,318.7 810.0,322.0 L810.0,342.0 807.3,339.0 804.5,336.0 801.7,333.1 799.0,330.1 796.2,327.2 793.4,324.2 790.5,321.3 787.7,318.4 784.8,315.5 781.9,312.7 779.1,309.8 776.1,307.0 773.2,304.2 770.2,301.4 767.2,298.7 764.2,296.0 761.2,293.3 758.1,290.7 754.9,288.1 751.8,285.6 748.6,283.1 745.3,280.6 742.1,278.2 738.8,275.8 735.5,273.5 732.1,271.2 728.8,268.9 725.4,266.7 721.9,264.6 718.4,262.6 714.9,260.6 711.3,258.7 707.7,256.9 704.0,255.1 700.3,253.4 696.6,251.8 692.9,250.3 689.1,248.8 685.3,247.4 681.5,246.0 677.6,244.7 673.8,243.4 669.9,242.2 666.0,241.1 662.1,240.0 658.2,238.9 654.3,237.9 650.3,237.0 646.4,236.1 642.4,235.2 638.4,234.4 634.5,233.6 630.5,232.9 626.5,232.3 622.4,231.7 618.4,231.2 614.4,230.7 610.4,230.3 606.3,229.9 602.3,229.6 598.2,229.3 594.2,229.0 590.1,228.7 586.1,228.4 582.0,228.1 580.0,228.0 L580.0,228.0 576.0,227.8 571.9,227.6 567.9,227.4 563.8,227.3 559.8,227.1 555.8,227.0 551.7,226.8 547.7,226.8 543.6,226.7 539.6,226.7 535.5,226.7 531.5,226.7 527.5,226.8 523.4,226.9 519.4,227.0 515.3,227.2 511.3,227.3 507.3,227.5 503.2,227.7 499.2,227.9 495.1,228.1 491.1,228.3 487.1,228.6 483.0,228.8 479.0,229.1 475.0,229.4 470.9,229.7 466.9,230.1 462.9,230.6 458.9,231.1 454.9,231.7 450.9,232.4 447.0,233.1 443.1,234.0 439.2,235.0 435.3,236.1 431.4,237.3 427.6,238.6 423.8,240.0 420.1,241.5 416.4,243.1 412.7,244.8 409.0,246.5 405.4,248.3 401.8,250.1 400.0,251.0 Z" fill="#fff" filter="url(#fine2)"/>
<path d="M-10.0,578.0 -6.4,576.2 -2.9,574.3 0.7,572.5 4.3,570.8 7.9,569.1 11.6,567.4 15.2,565.8 18.9,564.2 22.6,562.6 26.2,560.9 29.9,559.3 33.6,557.7 37.2,556.0 40.8,554.3 44.4,552.5 48.0,550.8 51.6,548.9 55.1,547.1 58.7,545.2 62.2,543.3 65.7,541.3 69.1,539.3 72.6,537.3 76.0,535.2 79.5,533.1 82.9,531.0 86.3,528.9 89.6,526.7 93.0,524.5 96.3,522.3 99.7,520.1 103.0,517.8 106.3,515.6 109.6,513.3 112.9,511.0 116.1,508.7 119.4,506.3 122.6,504.0 125.9,501.6 129.1,499.2 132.3,496.9 135.5,494.5 138.7,492.1 142.0,489.7 145.2,487.2 148.3,484.8 151.5,482.4 154.7,480.0 157.9,477.5 161.1,475.1 164.3,472.6 167.4,470.2 170.6,467.8 173.8,465.3 177.0,462.9 180.1,460.4 183.3,457.9 186.5,455.5 189.6,453.0 192.8,450.6 196.0,448.1 199.1,445.6 202.3,443.2 205.4,440.7 208.6,438.2 211.7,435.8 214.9,433.3 218.0,430.8 221.2,428.3 224.3,425.8 227.4,423.3 230.5,420.7 233.7,418.2 236.8,415.7 239.9,413.2 243.0,410.7 246.1,408.1 249.2,405.6 252.4,403.1 255.5,400.6 258.6,398.0 261.7,395.5 264.8,393.0 267.9,390.5 271.1,388.0 274.2,385.5 277.3,382.9 280.4,380.4 283.6,378.0 286.7,375.5 289.9,373.0 293.0,370.5 296.2,368.0 299.3,365.6 302.5,363.1 305.7,360.7 308.8,358.2 312.0,355.8 315.2,353.3 318.4,350.9 321.6,348.4 324.8,346.0 327.9,343.6 331.1,341.2 334.3,338.7 337.5,336.3 340.7,333.9 343.9,331.5 347.1,329.1 350.3,326.7 353.5,324.3 356.7,321.9 360.0,319.5 363.2,317.1 366.4,314.7 369.6,312.3 372.8,309.9 376.0,307.5 379.3,305.1 382.5,302.7 385.7,300.4 389.0,298.0 392.2,295.7 395.5,293.3 398.7,291.0 402.0,288.7 405.3,286.4 408.6,284.1 411.9,281.9 415.3,279.8 418.8,277.8 422.2,275.8 425.8,273.9 429.3,272.1 432.9,270.4 436.6,268.7 440.2,267.1 443.9,265.5 447.6,263.9 451.3,262.4 455.0,260.9 458.8,259.5 462.5,258.1 466.3,256.8 470.1,255.4 473.9,254.2 477.7,253.0 481.6,251.8 485.4,250.7 489.3,249.7 493.1,248.7 497.0,247.7 500.9,246.8 504.9,245.9 508.8,245.1 512.7,244.3 516.6,243.6 520.6,242.9 524.5,242.2 528.5,241.6 532.5,241.0 536.4,240.4 540.4,239.9 544.4,239.4 548.4,239.0 552.3,238.6 556.3,238.2 560.3,237.9 564.3,237.7 568.3,237.5 572.3,237.4 576.3,237.3 580.3,237.2 584.3,237.2 588.3,237.3 592.4,237.4 596.4,237.6 600.4,237.8 604.4,238.0 608.3,238.3 612.3,238.7 616.3,239.1 620.3,239.6 624.3,240.2 628.2,240.8 632.2,241.5 636.1,242.2 640.0,243.0 643.9,243.8 647.8,244.7 651.7,245.7 655.6,246.7 659.5,247.7 663.4,248.8 667.2,249.9 671.0,251.0 674.9,252.3 678.7,253.5 682.4,254.8 686.2,256.2 689.9,257.6 693.7,259.1 697.3,260.7 701.0,262.3 704.6,264.0 708.2,265.8 711.7,267.7 715.2,269.6 718.7,271.6 722.1,273.7 725.5,275.9 728.8,278.1 732.1,280.4 735.4,282.7 738.6,285.0 741.8,287.4 745.0,289.9 748.1,292.4 751.2,294.9 754.3,297.5 757.3,300.1 760.3,302.7 763.3,305.4 766.2,308.2 769.1,311.0 771.9,313.8 774.7,316.7 777.5,319.5 780.3,322.5 783.0,325.4 785.7,328.3 788.4,331.3 791.1,334.2 793.8,337.2 796.5,340.2 799.2,343.1 801.9,346.1 804.6,349.1 807.3,352.0 810.0,355.0 L810,560 L800,546 L412.5,420.0 409.3,422.4 406.1,424.8 402.8,427.2 399.6,429.6 396.4,432.0 393.2,434.4 389.9,436.8 386.7,439.3 383.5,441.7 380.3,444.1 377.1,446.6 373.9,449.0 370.8,451.5 367.6,454.0 364.5,456.6 361.4,459.2 358.3,461.7 355.3,464.3 352.2,467.0 349.2,469.6 346.2,472.3 343.2,475.0 340.2,477.7 337.3,480.4 334.3,483.1 331.4,485.9 328.4,488.6 325.5,491.4 322.6,494.2 319.7,497.0 316.9,499.8 314.0,502.6 311.1,505.4 308.2,508.2 305.2,510.9 302.3,513.6 299.3,516.3 296.2,518.9 293.2,521.6 290.1,524.1 287.0,526.7 283.8,529.2 280.7,531.7 277.5,534.2 274.3,536.6 271.1,539.1 267.9,541.5 264.7,543.9 261.5,546.3 258.3,548.7 255.0,551.1 251.8,553.5 248.6,555.9 245.3,558.3 242.1,560.7 238.9,563.2 235.7,565.6 232.5,568.1 229.4,570.6 226.2,573.1 223.1,575.6 219.9,578.1 216.8,580.6 213.7,583.1 210.5,585.6 207.4,588.1 204.2,590.6 201.0,593.0 197.8,595.5 194.6,597.9 191.3,600.3 188.1,602.6 184.8,605.0 181.6,607.3 178.3,609.7 175.0,612.0 171.7,614.3 168.4,616.6 165.2,619.0 161.9,621.3 158.7,623.7 155.4,626.1 152.2,628.5 149.0,631.0 145.8,633.4 142.7,635.9 139.5,638.4 136.4,640.9 133.3,643.5 130.1,646.0 127.0,648.6 123.9,651.1 120.8,653.6 117.7,656.2 114.5,658.7 111.4,661.2 108.2,663.6 105.0,666.1 101.8,668.5 98.5,670.9 95.3,673.2 92.0,675.6 88.7,677.9 85.4,680.1 82.0,682.4 78.7,684.6 75.3,686.8 71.9,688.9 68.5,691.0 65.0,693.1 61.5,695.1 58.0,697.0 54.5,698.9 50.9,700.7 47.3,702.5 43.6,704.1 40.0,705.8 36.3,707.4 32.6,709.0 28.8,710.5 25.1,712.0 21.4,713.5 17.6,715.0 13.9,716.5 10.2,718.0 6.5,719.5 2.8,721.1 -0.9,722.8 -4.5,724.4 -8.2,726.1 -10.0,727.0 Z" fill="#fff" filter="url(#fine)"/>
<path d="M400.0,290.0 403.3,287.7 406.6,285.5 410.0,283.2 413.4,281.1 416.8,279.0 420.3,276.9 423.8,275.0 427.4,273.1 431.0,271.3 434.6,269.6 438.3,268.0 442.0,266.3 445.7,264.8 449.4,263.2 453.1,261.7 456.9,260.2 460.6,258.8 464.4,257.4 468.2,256.1 472.0,254.8 475.9,253.6 479.7,252.4 483.6,251.2 487.4,250.2 491.3,249.1 495.2,248.2 499.2,247.2 503.1,246.3 507.0,245.5 511.0,244.7 514.9,243.9 518.9,243.2 522.9,242.5 526.8,241.8 530.8,241.2 534.8,240.6 538.8,240.1 542.8,239.6 546.8,239.1 550.8,238.7 554.8,238.4 558.8,238.0 562.8,237.8 566.9,237.6 570.9,237.4 574.9,237.3 578.9,237.2 583.0,237.2 587.0,237.3 591.0,237.4 595.0,237.5 599.1,237.7 603.1,237.9 607.1,238.2 611.1,238.6 615.1,239.0 619.1,239.5 623.1,240.0 627.1,240.6 631.0,241.3 635.0,242.0 639.0,242.8 642.9,243.6 646.8,244.5 650.7,245.4 654.6,246.4 658.5,247.4 662.4,248.5 666.3,249.6 670.2,250.8 674.0,252.0 677.8,253.2 681.6,254.5 685.4,255.9 689.2,257.3 692.9,258.8 696.6,260.4 700.3,262.0 703.9,263.7 707.6,265.5 711.1,267.3 714.6,269.3 718.1,271.3 721.6,273.4 724.9,275.6 728.3,277.8 731.6,280.0 734.9,282.4 738.2,284.7 741.4,287.1 744.6,289.6 747.8,292.1 750.9,294.6 754.0,297.2 757.0,299.8 760.1,302.5 763.0,305.2 766.0,307.9 768.9,310.7 771.7,313.6 774.5,316.5 777.3,319.4 780.1,322.3 782.8,325.2 785.6,328.2 788.3,331.2 791.0,334.1 793.7,337.1 796.4,340.1 799.2,343.1 801.9,346.1 804.6,349.0 807.3,352.0 810.0,355.0 L810.0,418.0 807.1,415.2 804.2,412.4 801.3,409.6 798.4,406.8 795.4,404.1 792.5,401.3 789.5,398.6 786.5,395.9 783.5,393.2 780.5,390.5 777.5,387.8 774.5,385.1 771.6,382.4 768.6,379.6 765.7,376.8 762.8,374.0 759.9,371.2 757.0,368.4 754.0,365.7 751.1,362.9 748.1,360.2 745.1,357.5 742.0,354.9 738.9,352.3 735.8,349.9 732.6,347.4 729.3,345.1 725.9,342.9 722.5,340.7 719.1,338.7 715.6,336.7 712.0,334.8 708.5,332.9 704.8,331.2 701.2,329.5 697.5,327.9 693.7,326.4 690.0,325.0 686.2,323.6 682.4,322.4 678.5,321.2 674.6,320.1 670.7,319.1 666.8,318.2 662.9,317.3 658.9,316.5 655.0,315.7 651.0,315.0 647.1,314.3 643.1,313.6 639.1,312.9 635.1,312.2 631.2,311.5 627.2,310.9 623.2,310.3 619.2,309.7 615.2,309.1 611.2,308.5 607.2,308.0 603.2,307.5 599.2,307.0 595.2,306.6 591.2,306.2 587.2,305.8 583.2,305.4 579.1,305.0 575.1,304.7 571.1,304.3 567.1,304.0 563.1,303.7 559.0,303.4 555.0,303.1 551.0,302.8 547.0,302.5 542.9,302.2 538.9,301.9 534.9,301.6 530.9,301.4 526.8,301.1 522.8,300.8 518.8,300.5 514.8,300.2 510.7,300.0 506.7,299.7 502.7,299.4 498.7,299.2 494.6,298.9 490.6,298.7 486.6,298.4 482.6,298.2 478.5,297.9 474.5,297.7 470.5,297.5 466.5,297.2 462.4,297.0 458.4,296.8 454.4,296.5 450.4,296.3 446.3,296.1 442.3,295.8 438.3,295.6 434.2,295.4 430.2,295.1 426.2,294.9 422.2,294.6 418.1,294.3 414.1,294.0 410.1,293.7 406.1,293.4 402.1,293.0 398.0,292.7 394.0,292.3 390.0,292.0 Z" fill="url(#gFace)"/>
<path d="M-10.0,664.0 -6.4,662.3 -2.7,660.7 1.0,659.0 4.6,657.5 8.4,655.9 12.1,654.4 15.8,653.0 19.6,651.5 23.3,650.1 27.0,648.6 30.7,647.1 34.4,645.5 38.1,643.8 41.7,642.1 45.3,640.3 48.8,638.4 52.3,636.4 55.7,634.4 59.1,632.2 62.4,630.0 65.7,627.8 69.0,625.5 72.3,623.1 75.5,620.7 78.6,618.2 81.7,615.7 84.8,613.1 87.9,610.6 91.0,608.0 94.0,605.3 97.0,602.7 100.1,600.1 103.1,597.5 106.2,594.9 109.3,592.3 112.4,589.8 115.5,587.2 118.6,584.7 121.7,582.2 124.8,579.6 128.0,577.1 131.1,574.6 134.3,572.1 137.4,569.7 140.6,567.2 143.8,564.8 147.0,562.4 150.3,560.0 153.5,557.7 156.8,555.4 160.1,553.1 163.5,550.9 166.8,548.6 170.1,546.4 173.5,544.2 176.8,542.0 180.2,539.8 183.5,537.6 186.8,535.3 190.1,533.0 193.4,530.6 196.6,528.2 199.8,525.8 202.9,523.3 206.0,520.7 209.0,518.1 212.1,515.5 215.1,512.9 218.1,510.2 221.0,507.4 224.0,504.7 226.9,502.0 229.8,499.3 232.8,496.5 235.7,493.8 238.7,491.1 241.7,488.4 244.7,485.8 247.8,483.2 250.8,480.6 253.9,478.0 257.1,475.5 260.2,473.0 263.4,470.6 266.6,468.1 269.8,465.7 273.0,463.3 276.2,460.9 279.4,458.5 282.6,456.1 285.8,453.7 289.0,451.3 292.2,448.8 295.4,446.4 298.6,443.9 301.7,441.4 304.8,438.9 307.9,436.3 311.0,433.7 314.1,431.1 317.1,428.6 320.2,426.0 323.3,423.5 326.5,421.0 329.6,418.5 332.8,416.1 336.1,413.8 339.4,411.6 342.8,409.4 346.2,407.2 349.6,405.1 353.0,403.1 356.5,401.0 359.9,398.9 363.3,396.7 366.6,394.6 370.0,392.4 373.3,390.1 376.6,387.8 379.9,385.5 383.2,383.2 386.4,380.8 389.7,378.5 392.9,376.1 396.2,373.7 399.4,371.4 402.6,369.0 405.9,366.6 409.1,364.2 412.3,361.9 415.6,359.5 418.8,357.1 422.1,354.8 425.4,352.5 428.7,350.3 432.1,348.2 435.5,346.1 439.0,344.2 442.6,342.3 446.2,340.6 449.8,338.9 453.5,337.3 457.2,335.8 461.0,334.4 464.7,333.1 468.5,331.8 472.3,330.5 476.2,329.3 480.0,328.0 483.8,326.8 487.6,325.6 491.5,324.4 495.3,323.2 499.2,322.1 503.0,321.0 506.9,319.8 510.7,318.8 514.6,317.7 518.5,316.8 522.4,315.8 526.3,314.9 530.2,314.1 534.2,313.3 538.1,312.6 542.1,312.0 546.0,311.4 550.0,311.0 554.0,310.5 558.0,310.1 562.0,309.8 566.0,309.6 570.0,309.3 574.0,309.2 578.0,309.1 582.0,309.0 586.1,309.0 590.1,309.0 594.1,309.1 598.1,309.2 602.1,309.4 606.1,309.6 610.1,309.9 614.1,310.3 618.1,310.7 622.1,311.2 626.0,311.7 630.0,312.3 634.0,312.8 638.0,313.4 641.9,314.0 645.9,314.7 649.9,315.3 653.8,316.0 657.8,316.6 661.7,317.4 665.6,318.1 669.6,319.0 673.5,319.9 677.3,320.9 681.2,322.0 685.0,323.2 688.8,324.5 692.6,325.9 696.3,327.4 700.0,328.9 703.6,330.6 707.2,332.3 710.8,334.1 714.4,336.0 717.9,337.9 721.3,339.9 724.7,342.1 728.1,344.3 731.3,346.6 734.6,348.9 737.7,351.4 740.8,353.9 743.9,356.5 746.9,359.1 749.9,361.8 752.8,364.5 755.8,367.3 758.7,370.1 761.6,372.9 764.5,375.6 767.4,378.4 770.3,381.2 773.2,383.9 776.2,386.6 779.1,389.3 782.1,392.0 785.1,394.7 788.1,397.4 791.1,400.1 794.0,402.8 797.0,405.5 799.9,408.2 802.8,411.0 805.7,413.8 808.6,416.6 810.0,418.0 L810,600 L810.0,468.0 807.2,465.2 804.3,462.3 801.4,459.5 798.5,456.8 795.6,454.0 792.6,451.3 789.6,448.6 786.6,446.0 783.6,443.3 780.5,440.7 777.5,438.0 774.5,435.4 771.5,432.7 768.5,430.0 765.5,427.3 762.5,424.6 759.5,421.9 756.5,419.3 753.5,416.6 750.5,413.9 747.5,411.3 744.4,408.7 741.3,406.1 738.2,403.6 735.0,401.1 731.8,398.7 728.6,396.4 725.2,394.1 721.9,391.9 718.5,389.7 715.1,387.6 711.7,385.6 708.2,383.6 704.6,381.6 701.1,379.8 697.5,378.0 693.9,376.3 690.2,374.6 686.5,373.1 682.8,371.6 679.0,370.2 675.2,368.8 671.4,367.6 667.6,366.5 663.7,365.4 659.8,364.4 655.9,363.4 652.0,362.5 648.1,361.7 644.1,361.0 640.2,360.3 636.2,359.6 632.2,359.0 628.2,358.5 624.3,358.0 620.3,357.5 616.3,357.2 612.3,356.9 608.3,356.6 604.2,356.4 600.2,356.3 596.2,356.3 592.2,356.3 588.2,356.4 584.2,356.5 580.2,356.8 576.1,357.0 572.1,357.4 568.1,357.8 564.2,358.2 560.2,358.8 556.2,359.3 552.2,360.0 548.3,360.7 544.3,361.4 540.4,362.2 536.4,363.0 532.5,363.9 528.6,364.9 524.7,365.9 520.9,367.0 517.0,368.0 513.1,369.2 509.3,370.3 505.4,371.5 501.6,372.8 497.8,374.0 494.0,375.3 490.2,376.5 486.4,377.8 482.5,379.1 478.7,380.4 474.9,381.7 471.1,383.1 467.4,384.4 463.6,385.8 459.8,387.2 456.1,388.8 452.5,390.4 448.9,392.1 445.3,393.9 441.9,395.9 438.5,398.0 435.2,400.3 432.0,402.7 428.9,405.2 425.8,407.8 422.8,410.4 419.9,413.2 416.9,415.9 414.0,418.6 412.5,420.0 L412.5,420.0 409.3,422.4 406.1,424.8 402.8,427.2 399.6,429.6 396.4,432.0 393.2,434.4 389.9,436.8 386.7,439.3 383.5,441.7 380.3,444.1 377.1,446.6 373.9,449.0 370.8,451.5 367.6,454.0 364.5,456.6 361.4,459.2 358.3,461.7 355.3,464.3 352.2,467.0 349.2,469.6 346.2,472.3 343.2,475.0 340.2,477.7 337.3,480.4 334.3,483.1 331.4,485.9 328.4,488.6 325.5,491.4 322.6,494.2 319.7,497.0 316.9,499.8 314.0,502.6 311.1,505.4 308.2,508.2 305.2,510.9 302.3,513.6 299.3,516.3 296.2,518.9 293.2,521.6 290.1,524.1 287.0,526.7 283.8,529.2 280.7,531.7 277.5,534.2 274.3,536.6 271.1,539.1 267.9,541.5 264.7,543.9 261.5,546.3 258.3,548.7 255.0,551.1 251.8,553.5 248.6,555.9 245.3,558.3 242.1,560.7 238.9,563.2 235.7,565.6 232.5,568.1 229.4,570.6 226.2,573.1 223.1,575.6 219.9,578.1 216.8,580.6 213.7,583.1 210.5,585.6 207.4,588.1 204.2,590.6 201.0,593.0 197.8,595.5 194.6,597.9 191.3,600.3 188.1,602.6 184.8,605.0 181.6,607.3 178.3,609.7 175.0,612.0 171.7,614.3 168.4,616.6 165.2,619.0 161.9,621.3 158.7,623.7 155.4,626.1 152.2,628.5 149.0,631.0 145.8,633.4 142.7,635.9 139.5,638.4 136.4,640.9 133.3,643.5 130.1,646.0 127.0,648.6 123.9,651.1 120.8,653.6 117.7,656.2 114.5,658.7 111.4,661.2 108.2,663.6 105.0,666.1 101.8,668.5 98.5,670.9 95.3,673.2 92.0,675.6 88.7,677.9 85.4,680.1 82.0,682.4 78.7,684.6 75.3,686.8 71.9,688.9 68.5,691.0 65.0,693.1 61.5,695.1 58.0,697.0 54.5,698.9 50.9,700.7 47.3,702.5 43.6,704.1 40.0,705.8 36.3,707.4 32.6,709.0 28.8,710.5 25.1,712.0 21.4,713.5 17.6,715.0 13.9,716.5 10.2,718.0 6.5,719.5 2.8,721.1 -0.9,722.8 -4.5,724.4 -8.2,726.1 -10.0,727.0 Z" fill="#222"/>
<path d="M-10.0,664.0 -6.4,662.3 -2.7,660.7 1.0,659.0 4.6,657.5 8.4,655.9 12.1,654.4 15.8,653.0 19.6,651.5 23.3,650.1 27.0,648.6 30.7,647.1 34.4,645.5 38.1,643.8 41.7,642.1 45.3,640.3 48.8,638.4 52.3,636.4 55.7,634.4 59.1,632.2 62.4,630.0 65.7,627.8 69.0,625.5 72.3,623.1 75.5,620.7 78.6,618.2 81.7,615.7 84.8,613.1 87.9,610.6 91.0,608.0 94.0,605.3 97.0,602.7 100.1,600.1 103.1,597.5 106.2,594.9 109.3,592.3 112.4,589.8 115.5,587.2 118.6,584.7 121.7,582.2 124.8,579.6 128.0,577.1 131.1,574.6 134.3,572.1 137.4,569.7 140.6,567.2 143.8,564.8 147.0,562.4 150.3,560.0 153.5,557.7 156.8,555.4 160.1,553.1 163.5,550.9 166.8,548.6 170.1,546.4 173.5,544.2 176.8,542.0 180.2,539.8 183.5,537.6 186.8,535.3 190.1,533.0 193.4,530.6 196.6,528.2 199.8,525.8 202.9,523.3 206.0,520.7 209.0,518.1 212.1,515.5 215.1,512.9 218.1,510.2 221.0,507.4 224.0,504.7 226.9,502.0 229.8,499.3 232.8,496.5 235.7,493.8 238.7,491.1 241.7,488.4 244.7,485.8 247.8,483.2 250.8,480.6 253.9,478.0 257.1,475.5 260.2,473.0 263.4,470.6 266.6,468.1 269.8,465.7 273.0,463.3 276.2,460.9 279.4,458.5 282.6,456.1 285.8,453.7 289.0,451.3 292.2,448.8 295.4,446.4 298.6,443.9 301.7,441.4 304.8,438.9 307.9,436.3 311.0,433.7 314.1,431.1 317.1,428.6 320.2,426.0 323.3,423.5 326.5,421.0 329.6,418.5 332.8,416.1 336.1,413.8 339.4,411.6 342.8,409.4 346.2,407.2 349.6,405.1 353.0,403.1 356.5,401.0 359.9,398.9 363.3,396.7 366.6,394.6 370.0,392.4 373.3,390.1 376.6,387.8 379.9,385.5 383.2,383.2 386.4,380.8 389.7,378.5 392.9,376.1 396.2,373.7 399.4,371.4 402.6,369.0 405.9,366.6 409.1,364.2 412.3,361.9 415.6,359.5 418.8,357.1 422.1,354.8 425.4,352.5 428.7,350.3 432.1,348.2 435.5,346.1 439.0,344.2 442.6,342.3 446.2,340.6 449.8,338.9 453.5,337.3 457.2,335.8 461.0,334.4 464.7,333.1 468.5,331.8 472.3,330.5 476.2,329.3 480.0,328.0 483.8,326.8 487.6,325.6 491.5,324.4 495.3,323.2 499.2,322.1 503.0,321.0 506.9,319.8 510.7,318.8 514.6,317.7 518.5,316.8 522.4,315.8 526.3,314.9 530.2,314.1 534.2,313.3 538.1,312.6 542.1,312.0 546.0,311.4 550.0,311.0 554.0,310.5 558.0,310.1 562.0,309.8 566.0,309.6 570.0,309.3 574.0,309.2 578.0,309.1 582.0,309.0 586.1,309.0 590.1,309.0 594.1,309.1 598.1,309.2 602.1,309.4 606.1,309.6 610.1,309.9 614.1,310.3 618.1,310.7 622.1,311.2 626.0,311.7 630.0,312.3 634.0,312.8 638.0,313.4 641.9,314.0 645.9,314.7 649.9,315.3 653.8,316.0 657.8,316.6 661.7,317.4 665.6,318.1 669.6,319.0 673.5,319.9 677.3,320.9 681.2,322.0 685.0,323.2 688.8,324.5 692.6,325.9 696.3,327.4 700.0,328.9 703.6,330.6 707.2,332.3 710.8,334.1 714.4,336.0 717.9,337.9 721.3,339.9 724.7,342.1 728.1,344.3 731.3,346.6 734.6,348.9 737.7,351.4 740.8,353.9 743.9,356.5 746.9,359.1 749.9,361.8 752.8,364.5 755.8,367.3 758.7,370.1 761.6,372.9 764.5,375.6 767.4,378.4 770.3,381.2 773.2,383.9 776.2,386.6 779.1,389.3 782.1,392.0 785.1,394.7 788.1,397.4 791.1,400.1 794.0,402.8 797.0,405.5 799.9,408.2 802.8,411.0 805.7,413.8 808.6,416.6 810.0,418.0 L810,600 L810.0,468.0 807.2,465.2 804.3,462.3 801.4,459.5 798.5,456.8 795.6,454.0 792.6,451.3 789.6,448.6 786.6,446.0 783.6,443.3 780.5,440.7 777.5,438.0 774.5,435.4 771.5,432.7 768.5,430.0 765.5,427.3 762.5,424.6 759.5,421.9 756.5,419.3 753.5,416.6 750.5,413.9 747.5,411.3 744.4,408.7 741.3,406.1 738.2,403.6 735.0,401.1 731.8,398.7 728.6,396.4 725.2,394.1 721.9,391.9 718.5,389.7 715.1,387.6 711.7,385.6 708.2,383.6 704.6,381.6 701.1,379.8 697.5,378.0 693.9,376.3 690.2,374.6 686.5,373.1 682.8,371.6 679.0,370.2 675.2,368.8 671.4,367.6 667.6,366.5 663.7,365.4 659.8,364.4 655.9,363.4 652.0,362.5 648.1,361.7 644.1,361.0 640.2,360.3 636.2,359.6 632.2,359.0 628.2,358.5 624.3,358.0 620.3,357.5 616.3,357.2 612.3,356.9 608.3,356.6 604.2,356.4 600.2,356.3 596.2,356.3 592.2,356.3 588.2,356.4 584.2,356.5 580.2,356.8 576.1,357.0 572.1,357.4 568.1,357.8 564.2,358.2 560.2,358.8 556.2,359.3 552.2,360.0 548.3,360.7 544.3,361.4 540.4,362.2 536.4,363.0 532.5,363.9 528.6,364.9 524.7,365.9 520.9,367.0 517.0,368.0 513.1,369.2 509.3,370.3 505.4,371.5 501.6,372.8 497.8,374.0 494.0,375.3 490.2,376.5 486.4,377.8 482.5,379.1 478.7,380.4 474.9,381.7 471.1,383.1 467.4,384.4 463.6,385.8 459.8,387.2 456.1,388.8 452.5,390.4 448.9,392.1 445.3,393.9 441.9,395.9 438.5,398.0 435.2,400.3 432.0,402.7 428.9,405.2 425.8,407.8 422.8,410.4 419.9,413.2 416.9,415.9 414.0,418.6 412.5,420.0 L412.5,420.0 409.3,422.4 406.1,424.8 402.8,427.2 399.6,429.6 396.4,432.0 393.2,434.4 389.9,436.8 386.7,439.3 383.5,441.7 380.3,444.1 377.1,446.6 373.9,449.0 370.8,451.5 367.6,454.0 364.5,456.6 361.4,459.2 358.3,461.7 355.3,464.3 352.2,467.0 349.2,469.6 346.2,472.3 343.2,475.0 340.2,477.7 337.3,480.4 334.3,483.1 331.4,485.9 328.4,488.6 325.5,491.4 322.6,494.2 319.7,497.0 316.9,499.8 314.0,502.6 311.1,505.4 308.2,508.2 305.2,510.9 302.3,513.6 299.3,516.3 296.2,518.9 293.2,521.6 290.1,524.1 287.0,526.7 283.8,529.2 280.7,531.7 277.5,534.2 274.3,536.6 271.1,539.1 267.9,541.5 264.7,543.9 261.5,546.3 258.3,548.7 255.0,551.1 251.8,553.5 248.6,555.9 245.3,558.3 242.1,560.7 238.9,563.2 235.7,565.6 232.5,568.1 229.4,570.6 226.2,573.1 223.1,575.6 219.9,578.1 216.8,580.6 213.7,583.1 210.5,585.6 207.4,588.1 204.2,590.6 201.0,593.0 197.8,595.5 194.6,597.9 191.3,600.3 188.1,602.6 184.8,605.0 181.6,607.3 178.3,609.7 175.0,612.0 171.7,614.3 168.4,616.6 165.2,619.0 161.9,621.3 158.7,623.7 155.4,626.1 152.2,628.5 149.0,631.0 145.8,633.4 142.7,635.9 139.5,638.4 136.4,640.9 133.3,643.5 130.1,646.0 127.0,648.6 123.9,651.1 120.8,653.6 117.7,656.2 114.5,658.7 111.4,661.2 108.2,663.6 105.0,666.1 101.8,668.5 98.5,670.9 95.3,673.2 92.0,675.6 88.7,677.9 85.4,680.1 82.0,682.4 78.7,684.6 75.3,686.8 71.9,688.9 68.5,691.0 65.0,693.1 61.5,695.1 58.0,697.0 54.5,698.9 50.9,700.7 47.3,702.5 43.6,704.1 40.0,705.8 36.3,707.4 32.6,709.0 28.8,710.5 25.1,712.0 21.4,713.5 17.6,715.0 13.9,716.5 10.2,718.0 6.5,719.5 2.8,721.1 -0.9,722.8 -4.5,724.4 -8.2,726.1 -10.0,727.0 Z" fill="#fff" filter="url(#speck)"/>
<path d="M-10.0,664.0 -6.4,662.3 -2.7,660.7 1.0,659.0 4.6,657.5 8.4,655.9 12.1,654.4 15.8,653.0 19.6,651.5 23.3,650.1 27.0,648.6 30.7,647.1 34.4,645.5 38.1,643.8 41.7,642.1 45.3,640.3 48.8,638.4 52.3,636.4 55.7,634.4 59.1,632.2 62.4,630.0 65.7,627.8 69.0,625.5 72.3,623.1 75.5,620.7 78.6,618.2 81.7,615.7 84.8,613.1 87.9,610.6 91.0,608.0 94.0,605.3 97.0,602.7 100.1,600.1 103.1,597.5 106.2,594.9 109.3,592.3 112.4,589.8 115.5,587.2 118.6,584.7 121.7,582.2 124.8,579.6 128.0,577.1 131.1,574.6 134.3,572.1 137.4,569.7 140.6,567.2 143.8,564.8 147.0,562.4 150.3,560.0 153.5,557.7 156.8,555.4 160.1,553.1 163.5,550.9 166.8,548.6 170.1,546.4 173.5,544.2 176.8,542.0 180.2,539.8 183.5,537.6 186.8,535.3 190.1,533.0 193.4,530.6 196.6,528.2 199.8,525.8 202.9,523.3 206.0,520.7 209.0,518.1 212.1,515.5 215.1,512.9 218.1,510.2 221.0,507.4 224.0,504.7 226.9,502.0 229.8,499.3 232.8,496.5 235.7,493.8 238.7,491.1 241.7,488.4 244.7,485.8 247.8,483.2 250.8,480.6 253.9,478.0 257.1,475.5 260.2,473.0 263.4,470.6 266.6,468.1 269.8,465.7 273.0,463.3 276.2,460.9 279.4,458.5 282.6,456.1 285.8,453.7 289.0,451.3 292.2,448.8 295.4,446.4 298.6,443.9 301.7,441.4 304.8,438.9 307.9,436.3 311.0,433.7 314.1,431.1 317.1,428.6 320.2,426.0 323.3,423.5 326.5,421.0 329.6,418.5 332.8,416.1 336.1,413.8 339.4,411.6 342.8,409.4 346.2,407.2 349.6,405.1 353.0,403.1 356.5,401.0 359.9,398.9 363.3,396.7 366.6,394.6 370.0,392.4 373.3,390.1 376.6,387.8 379.9,385.5 383.2,383.2 386.4,380.8 389.7,378.5 392.9,376.1 396.2,373.7 399.4,371.4 402.6,369.0 405.9,366.6 409.1,364.2 412.3,361.9 415.6,359.5 418.8,357.1 422.1,354.8 425.4,352.5 428.7,350.3 432.1,348.2 435.5,346.1 439.0,344.2 442.6,342.3 446.2,340.6 449.8,338.9 453.5,337.3 457.2,335.8 461.0,334.4 464.7,333.1 468.5,331.8 472.3,330.5 476.2,329.3 480.0,328.0 483.8,326.8 487.6,325.6 491.5,324.4 495.3,323.2 499.2,322.1 503.0,321.0 506.9,319.8 510.7,318.8 514.6,317.7 518.5,316.8 522.4,315.8 526.3,314.9 530.2,314.1 534.2,313.3 538.1,312.6 542.1,312.0 546.0,311.4 550.0,311.0 554.0,310.5 558.0,310.1 562.0,309.8 566.0,309.6 570.0,309.3 574.0,309.2 578.0,309.1 582.0,309.0 586.1,309.0 590.1,309.0 594.1,309.1 598.1,309.2 602.1,309.4 606.1,309.6 610.1,309.9 614.1,310.3 618.1,310.7 622.1,311.2 626.0,311.7 630.0,312.3 634.0,312.8 638.0,313.4 641.9,314.0 645.9,314.7 649.9,315.3 653.8,316.0 657.8,316.6 661.7,317.4 665.6,318.1 669.6,319.0 673.5,319.9 677.3,320.9 681.2,322.0 685.0,323.2 688.8,324.5 692.6,325.9 696.3,327.4 700.0,328.9 703.6,330.6 707.2,332.3 710.8,334.1 714.4,336.0 717.9,337.9 721.3,339.9 724.7,342.1 728.1,344.3 731.3,346.6 734.6,348.9 737.7,351.4 740.8,353.9 743.9,356.5 746.9,359.1 749.9,361.8 752.8,364.5 755.8,367.3 758.7,370.1 761.6,372.9 764.5,375.6 767.4,378.4 770.3,381.2 773.2,383.9 776.2,386.6 779.1,389.3 782.1,392.0 785.1,394.7 788.1,397.4 791.1,400.1 794.0,402.8 797.0,405.5 799.9,408.2 802.8,411.0 805.7,413.8 808.6,416.6 810.0,418.0 L810,600 L810.0,468.0 807.2,465.2 804.3,462.3 801.4,459.5 798.5,456.8 795.6,454.0 792.6,451.3 789.6,448.6 786.6,446.0 783.6,443.3 780.5,440.7 777.5,438.0 774.5,435.4 771.5,432.7 768.5,430.0 765.5,427.3 762.5,424.6 759.5,421.9 756.5,419.3 753.5,416.6 750.5,413.9 747.5,411.3 744.4,408.7 741.3,406.1 738.2,403.6 735.0,401.1 731.8,398.7 728.6,396.4 725.2,394.1 721.9,391.9 718.5,389.7 715.1,387.6 711.7,385.6 708.2,383.6 704.6,381.6 701.1,379.8 697.5,378.0 693.9,376.3 690.2,374.6 686.5,373.1 682.8,371.6 679.0,370.2 675.2,368.8 671.4,367.6 667.6,366.5 663.7,365.4 659.8,364.4 655.9,363.4 652.0,362.5 648.1,361.7 644.1,361.0 640.2,360.3 636.2,359.6 632.2,359.0 628.2,358.5 624.3,358.0 620.3,357.5 616.3,357.2 612.3,356.9 608.3,356.6 604.2,356.4 600.2,356.3 596.2,356.3 592.2,356.3 588.2,356.4 584.2,356.5 580.2,356.8 576.1,357.0 572.1,357.4 568.1,357.8 564.2,358.2 560.2,358.8 556.2,359.3 552.2,360.0 548.3,360.7 544.3,361.4 540.4,362.2 536.4,363.0 532.5,363.9 528.6,364.9 524.7,365.9 520.9,367.0 517.0,368.0 513.1,369.2 509.3,370.3 505.4,371.5 501.6,372.8 497.8,374.0 494.0,375.3 490.2,376.5 486.4,377.8 482.5,379.1 478.7,380.4 474.9,381.7 471.1,383.1 467.4,384.4 463.6,385.8 459.8,387.2 456.1,388.8 452.5,390.4 448.9,392.1 445.3,393.9 441.9,395.9 438.5,398.0 435.2,400.3 432.0,402.7 428.9,405.2 425.8,407.8 422.8,410.4 419.9,413.2 416.9,415.9 414.0,418.6 412.5,420.0 L412.5,420.0 409.3,422.4 406.1,424.8 402.8,427.2 399.6,429.6 396.4,432.0 393.2,434.4 389.9,436.8 386.7,439.3 383.5,441.7 380.3,444.1 377.1,446.6 373.9,449.0 370.8,451.5 367.6,454.0 364.5,456.6 361.4,459.2 358.3,461.7 355.3,464.3 352.2,467.0 349.2,469.6 346.2,472.3 343.2,475.0 340.2,477.7 337.3,480.4 334.3,483.1 331.4,485.9 328.4,488.6 325.5,491.4 322.6,494.2 319.7,497.0 316.9,499.8 314.0,502.6 311.1,505.4 308.2,508.2 305.2,510.9 302.3,513.6 299.3,516.3 296.2,518.9 293.2,521.6 290.1,524.1 287.0,526.7 283.8,529.2 280.7,531.7 277.5,534.2 274.3,536.6 271.1,539.1 267.9,541.5 264.7,543.9 261.5,546.3 258.3,548.7 255.0,551.1 251.8,553.5 248.6,555.9 245.3,558.3 242.1,560.7 238.9,563.2 235.7,565.6 232.5,568.1 229.4,570.6 226.2,573.1 223.1,575.6 219.9,578.1 216.8,580.6 213.7,583.1 210.5,585.6 207.4,588.1 204.2,590.6 201.0,593.0 197.8,595.5 194.6,597.9 191.3,600.3 188.1,602.6 184.8,605.0 181.6,607.3 178.3,609.7 175.0,612.0 171.7,614.3 168.4,616.6 165.2,619.0 161.9,621.3 158.7,623.7 155.4,626.1 152.2,628.5 149.0,631.0 145.8,633.4 142.7,635.9 139.5,638.4 136.4,640.9 133.3,643.5 130.1,646.0 127.0,648.6 123.9,651.1 120.8,653.6 117.7,656.2 114.5,658.7 111.4,661.2 108.2,663.6 105.0,666.1 101.8,668.5 98.5,670.9 95.3,673.2 92.0,675.6 88.7,677.9 85.4,680.1 82.0,682.4 78.7,684.6 75.3,686.8 71.9,688.9 68.5,691.0 65.0,693.1 61.5,695.1 58.0,697.0 54.5,698.9 50.9,700.7 47.3,702.5 43.6,704.1 40.0,705.8 36.3,707.4 32.6,709.0 28.8,710.5 25.1,712.0 21.4,713.5 17.6,715.0 13.9,716.5 10.2,718.0 6.5,719.5 2.8,721.1 -0.9,722.8 -4.5,724.4 -8.2,726.1 -10.0,727.0 Z" fill="url(#gBandShade)"/>
<path d="M412.5,420.0 415.4,417.3 418.4,414.5 421.3,411.8 424.3,409.1 427.3,406.5 430.4,403.9 433.6,401.5 436.8,399.1 440.2,397.0 443.6,394.9 447.1,393.0 450.7,391.2 454.3,389.6 458.0,388.0 461.7,386.5 465.5,385.1 469.3,383.7 473.0,382.4 476.8,381.1 480.6,379.8 484.5,378.5 488.3,377.2 492.1,375.9 495.9,374.6 499.7,373.4 503.5,372.1 507.4,370.9 511.2,369.8 515.1,368.6 518.9,367.5 522.8,366.4 526.7,365.4 530.6,364.4 534.5,363.5 538.4,362.6 542.3,361.8 546.3,361.0 550.2,360.3 554.2,359.6 558.2,359.0 562.2,358.5 566.1,358.0 570.1,357.6 574.1,357.2 578.1,356.9 582.2,356.6 586.2,356.5 590.2,356.3 594.2,356.3 598.2,356.3 602.2,356.4 606.2,356.5 610.3,356.7 614.3,357.0 618.3,357.3 622.3,357.7 626.3,358.2 630.2,358.7 634.2,359.3 638.2,359.9 642.1,360.6 646.1,361.3 650.0,362.1 654.0,363.0 657.9,363.9 661.8,364.9 665.6,365.9 669.5,367.0 673.3,368.2 677.1,369.5 680.9,370.9 684.7,372.3 688.4,373.8 692.0,375.4 695.7,377.1 699.3,378.9 702.9,380.7 706.4,382.6 709.9,384.6 713.4,386.6 716.8,388.7 720.2,390.8 723.6,393.0 726.9,395.2 730.2,397.6 733.4,399.9 736.6,402.4 739.8,404.9 742.9,407.4 746.0,410.0 749.0,412.6 752.0,415.2 755.0,417.9 758.0,420.6 761.0,423.3 764.0,426.0 767.0,428.7 770.0,431.4 773.0,434.1 776.0,436.7 779.0,439.4 782.0,442.0 785.1,444.7 788.1,447.3 791.1,450.0 794.1,452.7 797.0,455.4 800.0,458.1 802.9,460.9 805.7,463.7 808.6,466.6 810.0,468.0 L810,560 L800,546 L412.5,420 Z" fill="#262626"/>
<path d="M412.5,420.0 415.4,417.3 418.4,414.5 421.3,411.8 424.3,409.1 427.3,406.5 430.4,403.9 433.6,401.5 436.8,399.1 440.2,397.0 443.6,394.9 447.1,393.0 450.7,391.2 454.3,389.6 458.0,388.0 461.7,386.5 465.5,385.1 469.3,383.7 473.0,382.4 476.8,381.1 480.6,379.8 484.5,378.5 488.3,377.2 492.1,375.9 495.9,374.6 499.7,373.4 503.5,372.1 507.4,370.9 511.2,369.8 515.1,368.6 518.9,367.5 522.8,366.4 526.7,365.4 530.6,364.4 534.5,363.5 538.4,362.6 542.3,361.8 546.3,361.0 550.2,360.3 554.2,359.6 558.2,359.0 562.2,358.5 566.1,358.0 570.1,357.6 574.1,357.2 578.1,356.9 582.2,356.6 586.2,356.5 590.2,356.3 594.2,356.3 598.2,356.3 602.2,356.4 606.2,356.5 610.3,356.7 614.3,357.0 618.3,357.3 622.3,357.7 626.3,358.2 630.2,358.7 634.2,359.3 638.2,359.9 642.1,360.6 646.1,361.3 650.0,362.1 654.0,363.0 657.9,363.9 661.8,364.9 665.6,365.9 669.5,367.0 673.3,368.2 677.1,369.5 680.9,370.9 684.7,372.3 688.4,373.8 692.0,375.4 695.7,377.1 699.3,378.9 702.9,380.7 706.4,382.6 709.9,384.6 713.4,386.6 716.8,388.7 720.2,390.8 723.6,393.0 726.9,395.2 730.2,397.6 733.4,399.9 736.6,402.4 739.8,404.9 742.9,407.4 746.0,410.0 749.0,412.6 752.0,415.2 755.0,417.9 758.0,420.6 761.0,423.3 764.0,426.0 767.0,428.7 770.0,431.4 773.0,434.1 776.0,436.7 779.0,439.4 782.0,442.0 785.1,444.7 788.1,447.3 791.1,450.0 794.1,452.7 797.0,455.4 800.0,458.1 802.9,460.9 805.7,463.7 808.6,466.6 810.0,468.0 L810,560 L800,546 L412.5,420 Z" fill="#fff" filter="url(#fine2)" opacity="0.35"/>
<path d="M-10.0,563.0 -6.4,561.2 -2.9,559.4 0.7,557.6 4.4,555.9 8.0,554.3 11.7,552.7 15.4,551.1 19.1,549.5 22.8,548.0 26.5,546.4 30.2,544.9 33.8,543.3 37.5,541.7 41.1,540.0 44.8,538.3 48.4,536.5 51.9,534.7 55.5,532.8 59.0,530.9 62.5,528.9 65.9,526.9 69.4,524.8 72.8,522.7 76.2,520.6 79.6,518.5 82.9,516.3 86.3,514.1 89.6,511.9 93.0,509.7 96.3,507.4 99.6,505.2 102.9,502.9 106.2,500.6 109.5,498.3 112.8,496.0 116.1,493.7 119.4,491.4 122.6,489.1 125.9,486.7 129.1,484.4 132.4,482.0 135.6,479.7 138.8,477.3 142.1,474.9 145.3,472.5 148.5,470.1 151.7,467.7 154.9,465.3 158.1,462.9 161.4,460.5 164.6,458.1 167.8,455.7 170.9,453.3 174.1,450.8 177.3,448.4 180.5,446.0 183.7,443.5 186.9,441.1 190.1,438.6 193.2,436.2 196.4,433.7 199.6,431.3 202.7,428.8 205.9,426.3 209.0,423.8 212.2,421.4 215.3,418.8 218.4,416.3 221.5,413.8 224.7,411.3 227.8,408.8 230.9,406.2 234.0,403.7 237.1,401.1 240.2,398.6 243.3,396.0 246.3,393.5 249.4,390.9 252.5,388.3 255.6,385.8 258.7,383.2 261.8,380.7 264.9,378.1 268.0,375.6 271.1,373.1 274.2,370.5 277.3,368.0 280.5,365.5 283.6,363.0 286.7,360.5 289.9,358.0 293.0,355.5 296.2,353.0 299.3,350.6 302.5,348.1 305.7,345.7 308.9,343.3 312.1,340.8 315.3,338.4 318.5,336.0 321.7,333.6 324.9,331.2 328.1,328.8 331.3,326.4 334.5,324.0 337.7,321.6 341.0,319.2 344.2,316.8 347.4,314.4 350.7,312.1 353.9,309.7 357.1,307.3 360.4,305.0 363.6,302.6 366.9,300.3 370.1,297.9 373.4,295.6 376.7,293.3 379.9,290.9 383.2,288.6 386.5,286.3 389.8,284.1 393.1,281.8 396.4,279.5 399.8,277.3 403.1,275.2 406.5,273.0 410.0,271.0 413.4,269.0 417.0,267.2 420.5,265.4 424.2,263.7 427.9,262.2 431.6,260.7 435.3,259.3 439.1,257.9 442.9,256.6 446.7,255.4 450.5,254.1 454.3,252.9 458.1,251.7 462.0,250.5 465.8,249.3 469.6,248.1 473.4,246.9 477.3,245.7 481.1,244.6 485.0,243.4 488.8,242.3 492.7,241.2 496.5,240.1 500.4,238.9 504.2,237.8 508.1,236.7 511.9,235.7 515.8,234.6 519.7,233.6 523.6,232.7 527.5,231.8 531.4,231.0 535.3,230.2 539.3,229.6 543.3,229.1 547.2,228.7 551.2,228.4 555.2,228.1 559.2,228.0 563.2,227.9 567.2,227.9 571.2,227.9 575.2,228.0 579.2,228.1 583.2,228.2 587.3,228.4 591.3,228.6 595.3,228.8 599.3,229.1 603.3,229.4 607.2,229.8 611.2,230.2 615.2,230.7 619.2,231.2 623.2,231.7 627.1,232.3 631.1,233.0 635.0,233.7 638.9,234.5 642.9,235.3 646.8,236.2 650.7,237.1 654.6,238.0 658.5,239.0 662.3,240.0 666.2,241.1 670.0,242.3 673.9,243.5 677.7,244.7 681.5,246.0 685.2,247.4 689.0,248.8 692.7,250.2 696.4,251.7 700.1,253.3 703.7,255.0 707.4,256.7 710.9,258.5 714.5,260.3 718.0,262.3 721.4,264.3 724.8,266.4 728.2,268.6 731.6,270.8 734.9,273.0 738.1,275.3 741.4,277.7 744.6,280.1 747.8,282.5 751.0,285.0 754.1,287.5 757.2,290.0 760.3,292.6 763.3,295.2 766.3,297.8 769.3,300.5 772.2,303.3 775.1,306.0 778.0,308.8 780.9,311.6 783.7,314.4 786.6,317.3 789.4,320.1 792.2,323.0 795.0,325.9 797.7,328.8 800.5,331.7 803.2,334.6 805.9,337.6 808.6,340.5 810.0,342.0 L810.0,355.0 807.3,352.0 804.6,349.1 801.9,346.1 799.2,343.1 796.5,340.2 793.8,337.2 791.1,334.2 788.4,331.3 785.7,328.3 783.0,325.4 780.3,322.5 777.5,319.5 774.7,316.7 771.9,313.8 769.1,311.0 766.2,308.2 763.3,305.4 760.3,302.7 757.3,300.1 754.3,297.5 751.2,294.9 748.1,292.4 745.0,289.9 741.8,287.4 738.6,285.0 735.4,282.7 732.1,280.4 728.8,278.1 725.5,275.9 722.1,273.7 718.7,271.6 715.2,269.6 711.7,267.7 708.2,265.8 704.6,264.0 701.0,262.3 697.3,260.7 693.7,259.1 689.9,257.6 686.2,256.2 682.4,254.8 678.7,253.5 674.9,252.3 671.0,251.0 667.2,249.9 663.4,248.8 659.5,247.7 655.6,246.7 651.7,245.7 647.8,244.7 643.9,243.8 640.0,243.0 636.1,242.2 632.2,241.5 628.2,240.8 624.3,240.2 620.3,239.6 616.3,239.1 612.3,238.7 608.3,238.3 604.4,238.0 600.4,237.8 596.4,237.6 592.4,237.4 588.3,237.3 584.3,237.2 580.3,237.2 576.3,237.3 572.3,237.4 568.3,237.5 564.3,237.7 560.3,237.9 556.3,238.2 552.3,238.6 548.4,239.0 544.4,239.4 540.4,239.9 536.4,240.4 532.5,241.0 528.5,241.6 524.5,242.2 520.6,242.9 516.6,243.6 512.7,244.3 508.8,245.1 504.9,245.9 500.9,246.8 497.0,247.7 493.1,248.7 489.3,249.7 485.4,250.7 481.6,251.8 477.7,253.0 473.9,254.2 470.1,255.4 466.3,256.8 462.5,258.1 458.8,259.5 455.0,260.9 451.3,262.4 447.6,263.9 443.9,265.5 440.2,267.1 436.6,268.7 432.9,270.4 429.3,272.1 425.8,273.9 422.2,275.8 418.8,277.8 415.3,279.8 411.9,281.9 408.6,284.1 405.3,286.4 402.0,288.7 398.7,291.0 395.5,293.3 392.2,295.7 389.0,298.0 385.7,300.4 382.5,302.7 379.3,305.1 376.0,307.5 372.8,309.9 369.6,312.3 366.4,314.7 363.2,317.1 360.0,319.5 356.7,321.9 353.5,324.3 350.3,326.7 347.1,329.1 343.9,331.5 340.7,333.9 337.5,336.3 334.3,338.7 331.1,341.2 327.9,343.6 324.8,346.0 321.6,348.4 318.4,350.9 315.2,353.3 312.0,355.8 308.8,358.2 305.7,360.7 302.5,363.1 299.3,365.6 296.2,368.0 293.0,370.5 289.9,373.0 286.7,375.5 283.6,378.0 280.4,380.4 277.3,382.9 274.2,385.5 271.1,388.0 267.9,390.5 264.8,393.0 261.7,395.5 258.6,398.0 255.5,400.6 252.4,403.1 249.2,405.6 246.1,408.1 243.0,410.7 239.9,413.2 236.8,415.7 233.7,418.2 230.5,420.7 227.4,423.3 224.3,425.8 221.2,428.3 218.0,430.8 214.9,433.3 211.7,435.8 208.6,438.2 205.4,440.7 202.3,443.2 199.1,445.6 196.0,448.1 192.8,450.6 189.6,453.0 186.5,455.5 183.3,457.9 180.1,460.4 177.0,462.9 173.8,465.3 170.6,467.8 167.4,470.2 164.3,472.6 161.1,475.1 157.9,477.5 154.7,480.0 151.5,482.4 148.3,484.8 145.2,487.2 142.0,489.7 138.7,492.1 135.5,494.5 132.3,496.9 129.1,499.2 125.9,501.6 122.6,504.0 119.4,506.3 116.1,508.7 112.9,511.0 109.6,513.3 106.3,515.6 103.0,517.8 99.7,520.1 96.3,522.3 93.0,524.5 89.6,526.7 86.3,528.9 82.9,531.0 79.5,533.1 76.0,535.2 72.6,537.3 69.1,539.3 65.7,541.3 62.2,543.3 58.7,545.2 55.1,547.1 51.6,548.9 48.0,550.8 44.4,552.5 40.8,554.3 37.2,556.0 33.6,557.7 29.9,559.3 26.2,560.9 22.6,562.6 18.9,564.2 15.2,565.8 11.6,567.4 7.9,569.1 4.3,570.8 0.7,572.5 -2.9,574.3 -6.4,576.2 -10.0,578.0 Z" fill="#fbfbfb"/>
<g stroke="#cfa273" stroke-width="1.4">
<line x1="107.2" y1="429" x2="107.2" y2="687.5"/>
<line x1="330.2" y1="305" x2="330.2" y2="687.5"/>
<line x1="541" y1="335" x2="541" y2="687.5"/>
<line x1="715.4" y1="429" x2="715.4" y2="687.5"/>
</g>
<g fill="#e69d28">
<circle cx="107.2" cy="428.6" r="6.2"/>
<circle cx="330.6" cy="304.8" r="6.2"/>
<circle cx="541" cy="334.6" r="6.2"/>
<circle cx="715.4" cy="428.6" r="6.2"/>
</g>
<g font-family="Liberation Sans, sans-serif" font-size="18.5" fill="#111" stroke="#111" stroke-width="0.6">
<text x="80.5" y="707.5">Rapid Water</text><text x="80.5" y="729">Absorption Layer</text>
<text x="266.8" y="709">High Density Diatom Mud</text><text x="266.8" y="730">Absorbent Layer</text>
<text x="507.3" y="710">Regenerated</text><text x="507.3" y="731.5">Sponge</text>
<text x="677.8" y="710">Natural</text><text x="677.8" y="731.5">Rubber Layer</text>
</g>
</svg>
</body></html>
